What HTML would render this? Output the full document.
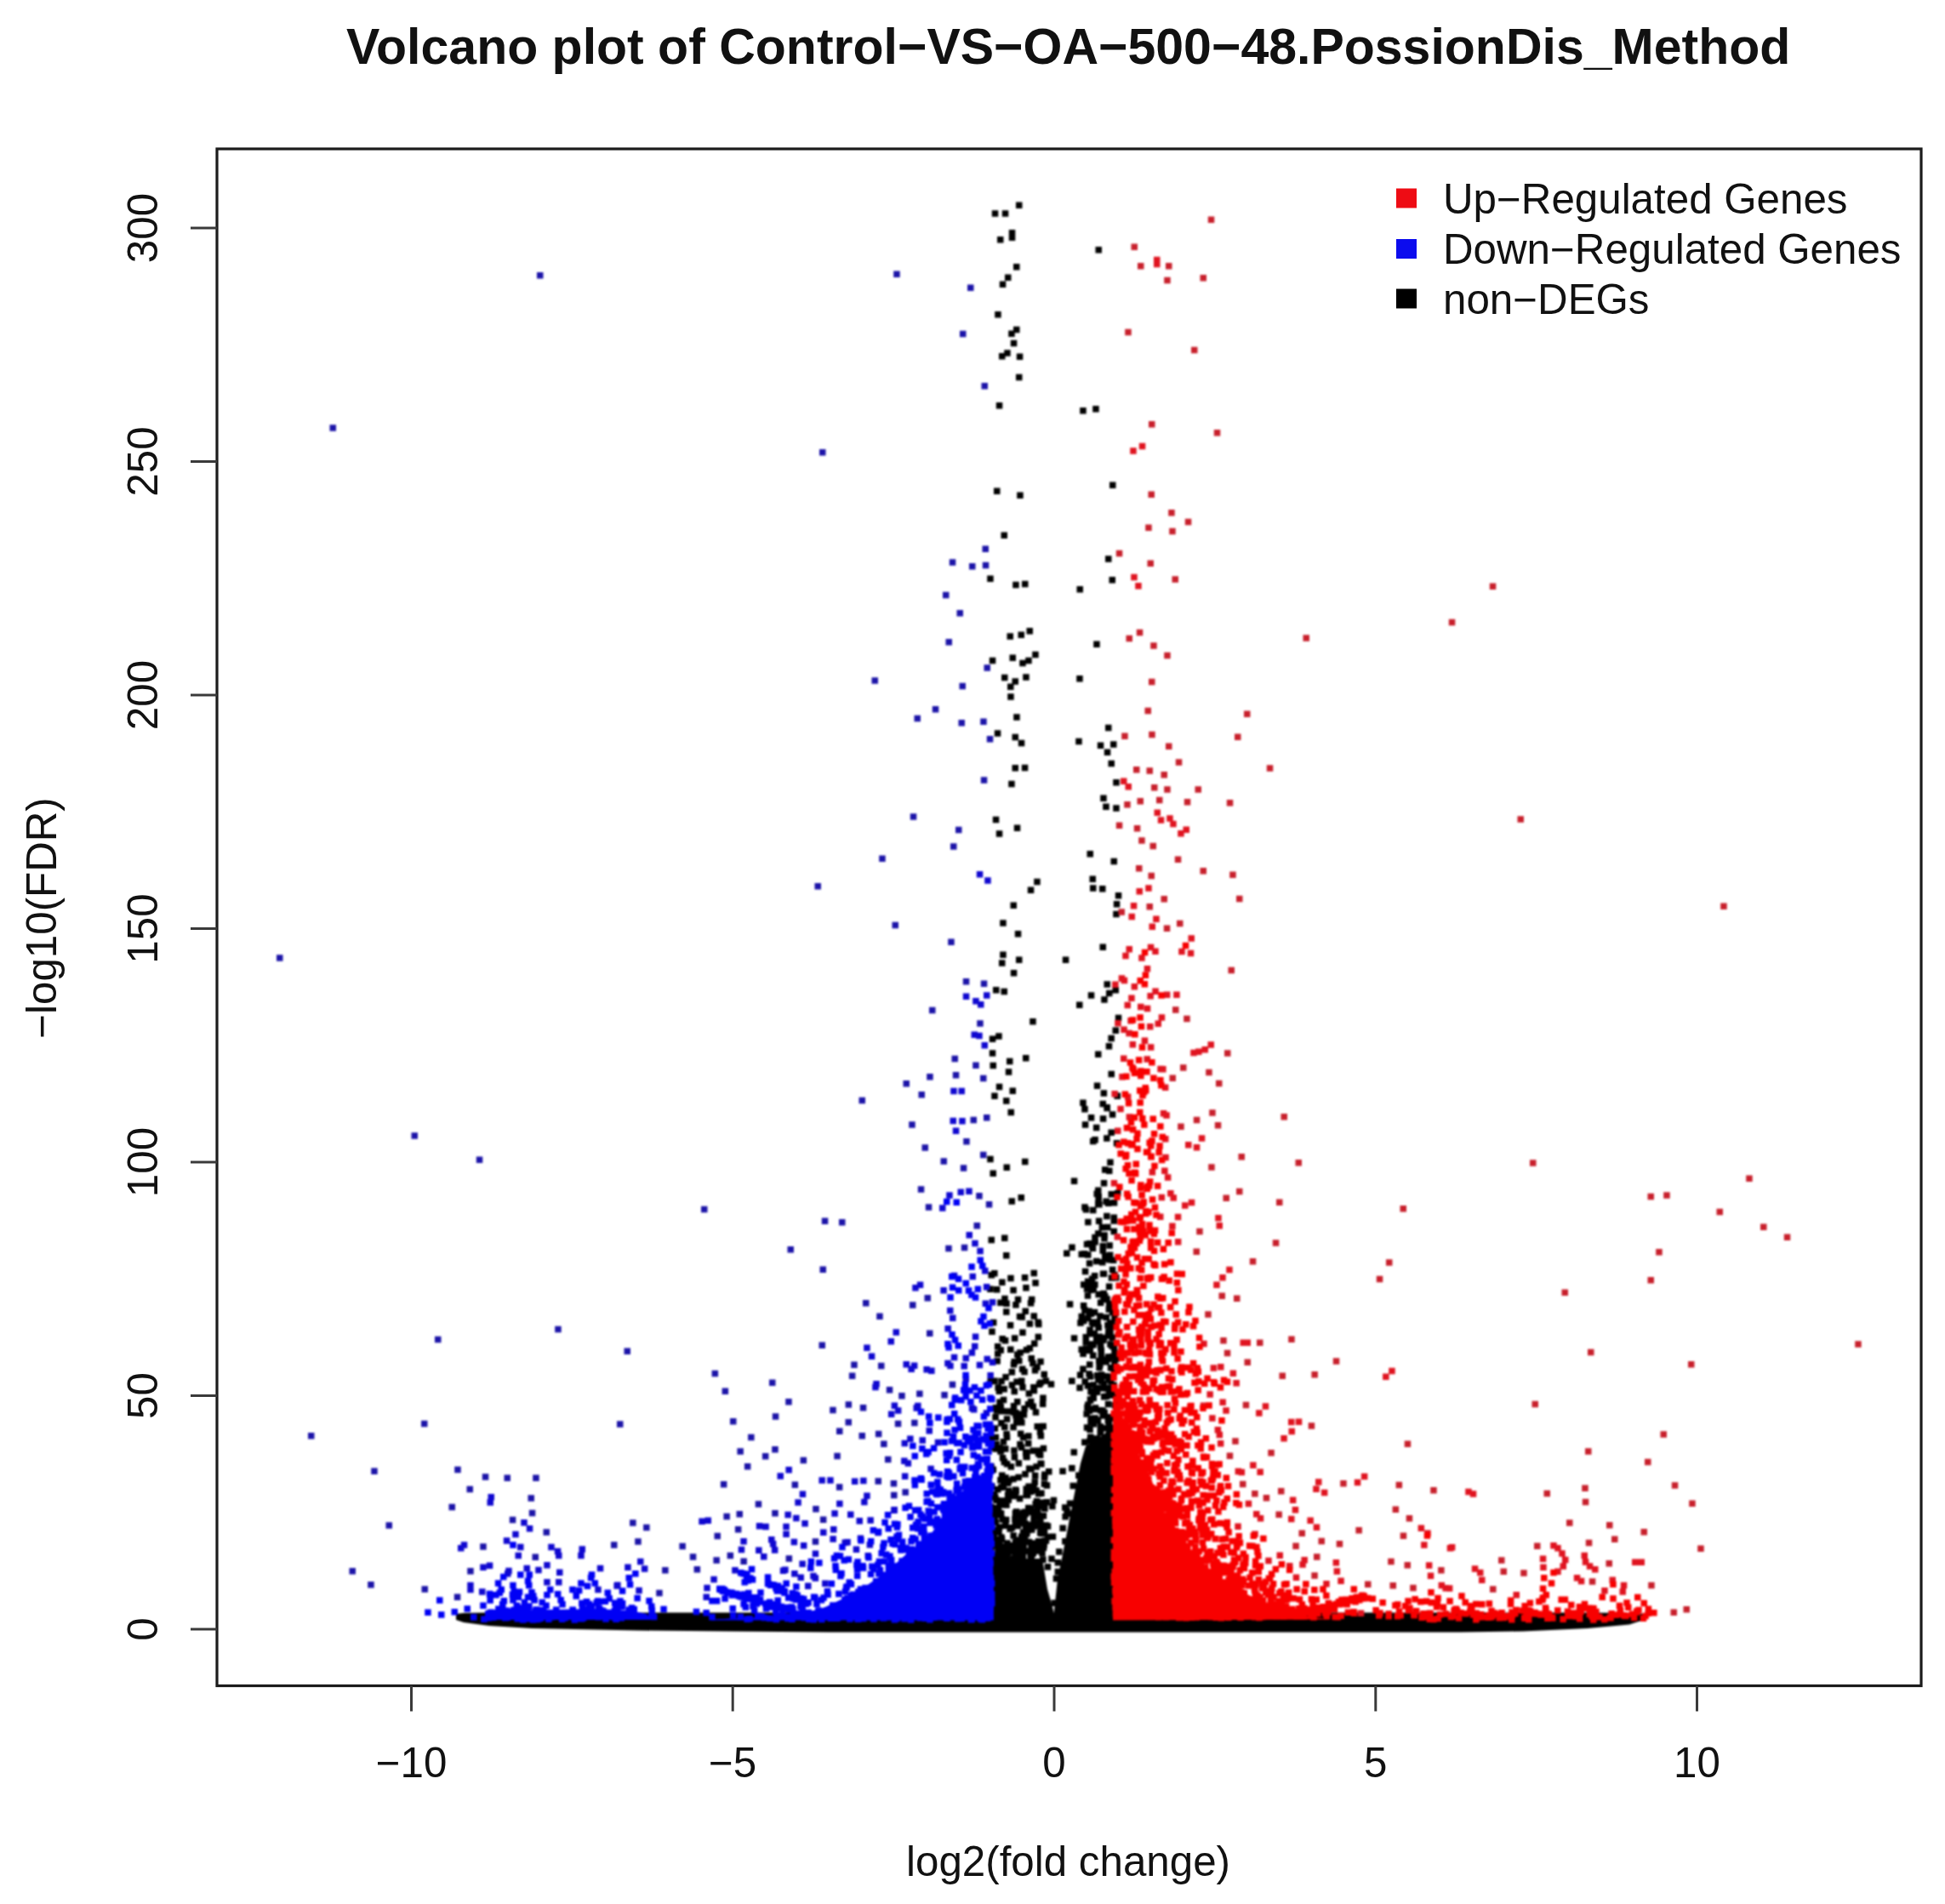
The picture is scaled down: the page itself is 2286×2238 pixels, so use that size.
<!DOCTYPE html>
<html lang="en"><head><meta charset="utf-8"><title>Volcano plot</title>
<style>html,body{margin:0;padding:0;background:#fff}svg{display:block}</style></head>
<body>
<svg width="2286" height="2238" viewBox="0 0 2286 2238" font-family="'Liberation Sans', Arial, Helvetica, sans-serif" fill="#000">
<rect width="2286" height="2238" fill="#fff"/>
<defs><filter id="bl" x="0" y="0" width="100%" height="100%" filterUnits="userSpaceOnUse" color-interpolation-filters="sRGB"><feGaussianBlur stdDeviation="1.0"/></filter></defs>
<g filter="url(#bl)">
<polygon fill="#000" points="536.0,1897.0 545.0,1896.0 575.0,1895.5 625.0,1895.5 750.0,1895.5 860.0,1895.5 975.0,1895.5 1500.0,1895.5 1716.0,1895.5 1790.0,1895.5 1866.0,1895.5 1915.0,1896.0 1932.0,1897.0 1932.0,1904.0 1915.0,1909.5 1866.0,1914.0 1790.0,1917.5 1716.0,1918.5 1500.0,1918.5 975.0,1918.5 860.0,1917.5 750.0,1916.5 625.0,1914.0 575.0,1911.0 545.0,1907.0 536.0,1904.0"/>
<polygon fill="#000" points="1313.0,1902.0 1239.0,1901.0 1239.0,1893.0 1243.0,1856.0 1248.0,1832.0 1255.0,1796.0 1262.0,1760.0 1270.0,1720.0 1276.0,1700.0 1290.0,1690.0 1313.0,1680.0"/>
<polygon fill="#000" points="1164.0,1902.0 1240.0,1901.0 1236.0,1885.0 1231.0,1868.0 1225.0,1832.0 1164.0,1832.0"/>
<path fill="#000" d="M1194.0 237.5h7.5v7.5h-7.5zM1165.8 247.2h7.5v7.5h-7.5zM1177.8 247.2h7.5v7.5h-7.5zM1185.8 270.0h7.5v7.5h-7.5zM1185.8 275.5h7.5v7.5h-7.5zM1172.0 278.0h7.5v7.5h-7.5zM1191.0 310.0h7.5v7.5h-7.5zM1181.0 322.5h7.5v7.5h-7.5zM1174.8 330.5h7.5v7.5h-7.5zM1169.2 366.0h7.5v7.5h-7.5zM1191.0 383.8h7.5v7.5h-7.5zM1185.2 388.5h7.5v7.5h-7.5zM1187.8 399.8h7.5v7.5h-7.5zM1180.2 411.2h7.5v7.5h-7.5zM1174.0 415.0h7.5v7.5h-7.5zM1194.8 415.5h7.5v7.5h-7.5zM1194.0 439.8h7.5v7.5h-7.5zM1170.8 473.0h7.5v7.5h-7.5zM1168.0 573.5h7.5v7.5h-7.5zM1195.2 578.5h7.5v7.5h-7.5zM1176.5 625.5h7.5v7.5h-7.5zM1287.5 290.0h7.5v7.5h-7.5zM1269.2 479.0h7.5v7.5h-7.5zM1284.2 477.0h7.5v7.5h-7.5zM1304.0 566.5h7.5v7.5h-7.5zM1160.2 676.5h7.5v7.5h-7.5zM1190.2 683.8h7.5v7.5h-7.5zM1201.0 682.8h7.5v7.5h-7.5zM1183.5 744.2h7.5v7.5h-7.5zM1196.5 742.5h7.5v7.5h-7.5zM1206.5 738.0h7.5v7.5h-7.5zM1162.8 772.8h7.5v7.5h-7.5zM1186.5 769.5h7.5v7.5h-7.5zM1198.2 775.8h7.5v7.5h-7.5zM1205.2 772.8h7.5v7.5h-7.5zM1213.2 765.8h7.5v7.5h-7.5zM1177.0 792.8h7.5v7.5h-7.5zM1189.5 797.2h7.5v7.5h-7.5zM1184.0 803.5h7.5v7.5h-7.5zM1202.2 792.2h7.5v7.5h-7.5zM1184.2 815.2h7.5v7.5h-7.5zM1191.2 839.2h7.5v7.5h-7.5zM1168.8 858.2h7.5v7.5h-7.5zM1189.5 862.8h7.5v7.5h-7.5zM1196.8 869.8h7.5v7.5h-7.5zM1189.5 899.0h7.5v7.5h-7.5zM1200.8 898.8h7.5v7.5h-7.5zM1185.2 917.8h7.5v7.5h-7.5zM1166.8 959.8h7.5v7.5h-7.5zM1191.8 969.5h7.5v7.5h-7.5zM1170.8 976.2h7.5v7.5h-7.5zM1215.2 1032.8h7.5v7.5h-7.5zM1207.8 1042.5h7.5v7.5h-7.5zM1187.5 1060.5h7.5v7.5h-7.5zM1175.2 1081.2h7.5v7.5h-7.5zM1192.8 1094.0h7.5v7.5h-7.5zM1175.2 1118.5h7.5v7.5h-7.5zM1194.0 1124.5h7.5v7.5h-7.5zM1299.0 653.2h7.5v7.5h-7.5zM1303.5 678.0h7.5v7.5h-7.5zM1265.5 689.0h7.5v7.5h-7.5zM1285.2 753.5h7.5v7.5h-7.5zM1265.2 794.0h7.5v7.5h-7.5zM1299.0 851.8h7.5v7.5h-7.5zM1264.2 867.8h7.5v7.5h-7.5zM1289.8 872.5h7.5v7.5h-7.5zM1305.0 871.2h7.5v7.5h-7.5zM1297.8 880.5h7.5v7.5h-7.5zM1302.5 893.8h7.5v7.5h-7.5zM1308.2 916.0h7.5v7.5h-7.5zM1293.2 934.5h7.5v7.5h-7.5zM1296.2 944.5h7.5v7.5h-7.5zM1308.2 946.2h7.5v7.5h-7.5zM1277.5 1000.0h7.5v7.5h-7.5zM1305.5 1008.8h7.5v7.5h-7.5zM1280.5 1029.5h7.5v7.5h-7.5zM1281.0 1040.2h7.5v7.5h-7.5zM1292.0 1041.0h7.5v7.5h-7.5zM1310.8 1049.0h7.5v7.5h-7.5zM1308.8 1059.0h7.5v7.5h-7.5zM1308.2 1070.8h7.5v7.5h-7.5zM1292.5 1109.5h7.5v7.5h-7.5zM1248.8 1124.5h7.5v7.5h-7.5zM1174.0 1128.2h7.5v7.5h-7.5zM1187.8 1140.0h7.5v7.5h-7.5zM1167.0 1160.0h7.5v7.5h-7.5zM1176.5 1161.8h7.5v7.5h-7.5zM1210.2 1197.0h7.5v7.5h-7.5zM1170.2 1214.2h7.5v7.5h-7.5zM1162.8 1217.5h7.5v7.5h-7.5zM1162.8 1234.2h7.5v7.5h-7.5zM1202.0 1240.0h7.5v7.5h-7.5zM1183.0 1243.8h7.5v7.5h-7.5zM1163.5 1248.8h7.5v7.5h-7.5zM1181.8 1256.2h7.5v7.5h-7.5zM1170.8 1273.8h7.5v7.5h-7.5zM1186.5 1278.5h7.5v7.5h-7.5zM1165.2 1284.5h7.5v7.5h-7.5zM1179.0 1290.2h7.5v7.5h-7.5zM1184.5 1303.8h7.5v7.5h-7.5zM1160.2 1358.8h7.5v7.5h-7.5zM1201.0 1361.8h7.5v7.5h-7.5zM1179.5 1368.5h7.5v7.5h-7.5zM1163.5 1375.5h7.5v7.5h-7.5zM1196.5 1404.0h7.5v7.5h-7.5zM1185.5 1408.2h7.5v7.5h-7.5zM1161.5 1453.8h7.5v7.5h-7.5zM1177.0 1451.5h7.5v7.5h-7.5zM1179.0 1472.0h7.5v7.5h-7.5zM1211.5 1492.8h7.5v7.5h-7.5zM1184.2 1498.8h7.5v7.5h-7.5zM1161.5 1495.0h7.5v7.5h-7.5zM1160.2 1511.5h7.5v7.5h-7.5zM1177.2 1522.8h7.5v7.5h-7.5zM1192.8 1523.8h7.5v7.5h-7.5zM1207.8 1528.0h7.5v7.5h-7.5zM1190.2 1530.0h7.5v7.5h-7.5zM1179.0 1538.2h7.5v7.5h-7.5zM1201.5 1537.5h7.5v7.5h-7.5zM1194.8 1543.8h7.5v7.5h-7.5zM1211.5 1543.2h7.5v7.5h-7.5zM1217.0 1552.8h7.5v7.5h-7.5zM1162.2 1561.5h7.5v7.5h-7.5zM1198.2 1562.5h7.5v7.5h-7.5zM1212.0 1575.5h7.5v7.5h-7.5zM1184.0 1582.5h7.5v7.5h-7.5zM1169.0 1587.5h7.5v7.5h-7.5zM1194.0 1595.8h7.5v7.5h-7.5zM1210.2 1598.8h7.5v7.5h-7.5zM1187.8 1600.0h7.5v7.5h-7.5zM1297.5 1153.2h7.5v7.5h-7.5zM1278.8 1166.2h7.5v7.5h-7.5zM1300.0 1163.8h7.5v7.5h-7.5zM1307.5 1160.0h7.5v7.5h-7.5zM1294.2 1171.2h7.5v7.5h-7.5zM1265.0 1177.5h7.5v7.5h-7.5zM1310.8 1192.8h7.5v7.5h-7.5zM1307.5 1207.5h7.5v7.5h-7.5zM1287.0 1235.5h7.5v7.5h-7.5zM1302.5 1258.8h7.5v7.5h-7.5zM1285.8 1272.5h7.5v7.5h-7.5zM1309.5 1284.5h7.5v7.5h-7.5zM1269.2 1292.5h7.5v7.5h-7.5zM1271.2 1300.0h7.5v7.5h-7.5zM1292.5 1293.8h7.5v7.5h-7.5zM1297.5 1298.8h7.5v7.5h-7.5zM1303.8 1306.2h7.5v7.5h-7.5zM1278.8 1310.0h7.5v7.5h-7.5zM1292.8 1311.2h7.5v7.5h-7.5zM1281.0 1337.8h7.5v7.5h-7.5zM1308.8 1340.0h7.5v7.5h-7.5zM1301.2 1362.5h7.5v7.5h-7.5zM1295.0 1371.2h7.5v7.5h-7.5zM1300.0 1372.5h7.5v7.5h-7.5zM1258.8 1384.5h7.5v7.5h-7.5zM1293.8 1387.0h7.5v7.5h-7.5zM1287.0 1395.5h7.5v7.5h-7.5zM1302.5 1400.0h7.5v7.5h-7.5zM1310.0 1398.8h7.5v7.5h-7.5zM1287.0 1411.2h7.5v7.5h-7.5zM1298.8 1410.5h7.5v7.5h-7.5zM1305.8 1410.0h7.5v7.5h-7.5zM1305.5 1427.5h7.5v7.5h-7.5zM1287.0 1446.2h7.5v7.5h-7.5zM1294.2 1452.0h7.5v7.5h-7.5zM1305.5 1443.8h7.5v7.5h-7.5zM1256.2 1462.5h7.5v7.5h-7.5zM1250.0 1469.5h7.5v7.5h-7.5zM1273.8 1458.8h7.5v7.5h-7.5zM1280.0 1461.2h7.5v7.5h-7.5zM1267.5 1470.5h7.5v7.5h-7.5zM1275.0 1471.2h7.5v7.5h-7.5zM1292.5 1466.2h7.5v7.5h-7.5zM1295.0 1472.5h7.5v7.5h-7.5zM1285.0 1478.8h7.5v7.5h-7.5zM1298.8 1476.2h7.5v7.5h-7.5zM1303.8 1488.8h7.5v7.5h-7.5zM1306.2 1495.0h7.5v7.5h-7.5zM1270.0 1506.2h7.5v7.5h-7.5zM1273.8 1511.2h7.5v7.5h-7.5zM1278.8 1512.5h7.5v7.5h-7.5zM1292.5 1517.5h7.5v7.5h-7.5zM1296.2 1523.8h7.5v7.5h-7.5zM1300.0 1528.8h7.5v7.5h-7.5zM1253.8 1529.2h7.5v7.5h-7.5zM1271.2 1536.2h7.5v7.5h-7.5zM1276.2 1537.5h7.5v7.5h-7.5zM1267.5 1543.8h7.5v7.5h-7.5zM1270.0 1548.8h7.5v7.5h-7.5zM1266.2 1551.2h7.5v7.5h-7.5zM1303.8 1538.8h7.5v7.5h-7.5zM1306.2 1546.2h7.5v7.5h-7.5zM1302.5 1551.2h7.5v7.5h-7.5zM1287.5 1556.8h7.5v7.5h-7.5zM1301.2 1561.2h7.5v7.5h-7.5zM1282.5 1563.8h7.5v7.5h-7.5zM1258.8 1569.2h7.5v7.5h-7.5zM1285.0 1570.0h7.5v7.5h-7.5zM1293.8 1568.8h7.5v7.5h-7.5zM1298.8 1566.2h7.5v7.5h-7.5zM1272.5 1573.8h7.5v7.5h-7.5zM1278.8 1576.2h7.5v7.5h-7.5zM1267.5 1582.5h7.5v7.5h-7.5zM1277.5 1582.5h7.5v7.5h-7.5zM1290.0 1580.0h7.5v7.5h-7.5zM1301.2 1576.2h7.5v7.5h-7.5zM1306.2 1586.2h7.5v7.5h-7.5zM1300.0 1592.5h7.5v7.5h-7.5zM1306.2 1598.8h7.5v7.5h-7.5zM539.2 1897.2h7.5v7.5h-7.5zM1225.6 1619.4h7.5v7.5h-7.5zM1256.1 1619.4h7.5v7.5h-7.5zM1245.3 1725.6h7.5v7.5h-7.5zM1256.1 1722.0h7.5v7.5h-7.5zM1266.9 1734.5h7.5v7.5h-7.5zM1223.8 1795.7h7.5v7.5h-7.5zM1216.6 1813.7h7.5v7.5h-7.5zM1302.4 1216.8h7.5v7.5h-7.5zM1299.7 1226.1h7.5v7.5h-7.5zM1293.6 1281.3h7.5v7.5h-7.5zM1297.3 1298.0h7.5v7.5h-7.5zM1271.8 1318.3h7.5v7.5h-7.5zM1284.9 1321.8h7.5v7.5h-7.5zM1302.4 1327.5h7.5v7.5h-7.5zM1283.3 1335.9h7.5v7.5h-7.5zM1297.1 1334.2h7.5v7.5h-7.5zM1285.5 1399.6h7.5v7.5h-7.5zM1288.2 1412.1h7.5v7.5h-7.5zM1287.3 1406.6h7.5v7.5h-7.5zM1287.5 1402.9h7.5v7.5h-7.5zM1296.4 1408.6h7.5v7.5h-7.5zM1271.2 1415.3h7.5v7.5h-7.5zM1272.7 1418.0h7.5v7.5h-7.5zM1281.0 1418.8h7.5v7.5h-7.5zM1297.1 1425.7h7.5v7.5h-7.5zM1275.1 1432.8h7.5v7.5h-7.5zM1287.9 1431.6h7.5v7.5h-7.5zM1305.5 1431.2h7.5v7.5h-7.5zM1291.6 1439.1h7.5v7.5h-7.5zM1298.0 1438.8h7.5v7.5h-7.5zM1294.4 1448.2h7.5v7.5h-7.5zM1276.9 1457.9h7.5v7.5h-7.5zM1283.2 1450.7h7.5v7.5h-7.5zM1283.4 1456.0h7.5v7.5h-7.5zM1300.4 1460.2h7.5v7.5h-7.5zM1292.5 1461.1h7.5v7.5h-7.5zM1270.9 1470.1h7.5v7.5h-7.5zM1280.7 1463.4h7.5v7.5h-7.5zM1300.9 1471.6h7.5v7.5h-7.5zM1276.8 1481.2h7.5v7.5h-7.5zM1292.0 1479.9h7.5v7.5h-7.5zM1300.9 1476.9h7.5v7.5h-7.5zM1304.9 1477.5h7.5v7.5h-7.5zM1165.1 1493.1h7.5v7.5h-7.5zM1200.8 1498.0h7.5v7.5h-7.5zM1271.8 1490.7h7.5v7.5h-7.5zM1282.9 1496.0h7.5v7.5h-7.5zM1293.7 1493.4h7.5v7.5h-7.5zM1292.8 1493.5h7.5v7.5h-7.5zM1308.1 1498.1h7.5v7.5h-7.5zM1174.1 1503.4h7.5v7.5h-7.5zM1202.2 1510.1h7.5v7.5h-7.5zM1213.3 1504.2h7.5v7.5h-7.5zM1279.9 1499.6h7.5v7.5h-7.5zM1274.9 1502.4h7.5v7.5h-7.5zM1276.5 1504.0h7.5v7.5h-7.5zM1281.3 1509.0h7.5v7.5h-7.5zM1283.1 1506.2h7.5v7.5h-7.5zM1299.9 1508.5h7.5v7.5h-7.5zM1302.7 1498.3h7.5v7.5h-7.5zM1167.9 1511.9h7.5v7.5h-7.5zM1187.3 1512.8h7.5v7.5h-7.5zM1274.7 1519.3h7.5v7.5h-7.5zM1287.4 1517.8h7.5v7.5h-7.5zM1281.4 1511.7h7.5v7.5h-7.5zM1293.5 1516.8h7.5v7.5h-7.5zM1295.0 1520.0h7.5v7.5h-7.5zM1293.3 1521.7h7.5v7.5h-7.5zM1172.2 1527.5h7.5v7.5h-7.5zM1179.3 1528.4h7.5v7.5h-7.5zM1208.9 1523.7h7.5v7.5h-7.5zM1269.9 1530.9h7.5v7.5h-7.5zM1289.9 1527.5h7.5v7.5h-7.5zM1297.3 1523.2h7.5v7.5h-7.5zM1307.7 1522.9h7.5v7.5h-7.5zM1197.4 1544.3h7.5v7.5h-7.5zM1276.3 1538.9h7.5v7.5h-7.5zM1278.7 1540.5h7.5v7.5h-7.5zM1275.1 1545.8h7.5v7.5h-7.5zM1289.2 1543.3h7.5v7.5h-7.5zM1282.8 1538.7h7.5v7.5h-7.5zM1299.6 1535.3h7.5v7.5h-7.5zM1296.6 1544.8h7.5v7.5h-7.5zM1307.7 1539.5h7.5v7.5h-7.5zM1163.9 1550.8h7.5v7.5h-7.5zM1183.8 1553.9h7.5v7.5h-7.5zM1206.6 1552.3h7.5v7.5h-7.5zM1216.4 1550.5h7.5v7.5h-7.5zM1279.8 1550.6h7.5v7.5h-7.5zM1286.4 1550.6h7.5v7.5h-7.5zM1281.3 1552.3h7.5v7.5h-7.5zM1287.3 1556.8h7.5v7.5h-7.5zM1300.9 1551.2h7.5v7.5h-7.5zM1301.9 1554.7h7.5v7.5h-7.5zM1298.2 1554.1h7.5v7.5h-7.5zM1306.8 1554.6h7.5v7.5h-7.5zM1174.4 1570.1h7.5v7.5h-7.5zM1188.9 1569.3h7.5v7.5h-7.5zM1216.6 1567.7h7.5v7.5h-7.5zM1277.3 1559.6h7.5v7.5h-7.5zM1277.1 1564.1h7.5v7.5h-7.5zM1272.5 1567.9h7.5v7.5h-7.5zM1288.5 1567.4h7.5v7.5h-7.5zM1299.1 1561.8h7.5v7.5h-7.5zM1303.5 1568.6h7.5v7.5h-7.5zM1168.9 1579.0h7.5v7.5h-7.5zM1177.8 1572.0h7.5v7.5h-7.5zM1206.6 1581.1h7.5v7.5h-7.5zM1278.5 1577.6h7.5v7.5h-7.5zM1272.8 1581.5h7.5v7.5h-7.5zM1281.3 1577.1h7.5v7.5h-7.5zM1285.5 1573.1h7.5v7.5h-7.5zM1289.8 1576.2h7.5v7.5h-7.5zM1292.9 1571.4h7.5v7.5h-7.5zM1303.3 1578.3h7.5v7.5h-7.5zM1305.6 1579.5h7.5v7.5h-7.5zM1172.5 1583.3h7.5v7.5h-7.5zM1195.3 1586.2h7.5v7.5h-7.5zM1192.1 1588.5h7.5v7.5h-7.5zM1202.8 1582.9h7.5v7.5h-7.5zM1208.5 1593.0h7.5v7.5h-7.5zM1269.3 1587.6h7.5v7.5h-7.5zM1276.1 1583.7h7.5v7.5h-7.5zM1290.6 1583.8h7.5v7.5h-7.5zM1281.0 1589.6h7.5v7.5h-7.5zM1290.5 1588.6h7.5v7.5h-7.5zM1303.2 1591.1h7.5v7.5h-7.5zM1298.9 1591.2h7.5v7.5h-7.5zM1298.4 1593.8h7.5v7.5h-7.5zM1308.1 1593.4h7.5v7.5h-7.5zM1168.4 1595.9h7.5v7.5h-7.5zM1188.5 1597.0h7.5v7.5h-7.5zM1197.9 1605.6h7.5v7.5h-7.5zM1215.2 1603.3h7.5v7.5h-7.5zM1219.3 1596.7h7.5v7.5h-7.5zM1269.2 1605.5h7.5v7.5h-7.5zM1277.0 1600.3h7.5v7.5h-7.5zM1289.1 1600.5h7.5v7.5h-7.5zM1288.0 1596.0h7.5v7.5h-7.5zM1288.3 1603.8h7.5v7.5h-7.5zM1301.8 1604.0h7.5v7.5h-7.5zM1295.5 1594.9h7.5v7.5h-7.5zM1296.3 1597.1h7.5v7.5h-7.5zM1304.4 1604.2h7.5v7.5h-7.5zM1178.3 1614.9h7.5v7.5h-7.5zM1185.6 1609.0h7.5v7.5h-7.5zM1200.3 1608.8h7.5v7.5h-7.5zM1212.8 1606.9h7.5v7.5h-7.5zM1223.5 1611.7h7.5v7.5h-7.5zM1265.9 1612.4h7.5v7.5h-7.5zM1276.3 1611.2h7.5v7.5h-7.5zM1277.9 1614.2h7.5v7.5h-7.5zM1290.9 1612.2h7.5v7.5h-7.5zM1287.1 1618.1h7.5v7.5h-7.5zM1286.1 1613.0h7.5v7.5h-7.5zM1288.4 1616.6h7.5v7.5h-7.5zM1289.5 1617.3h7.5v7.5h-7.5zM1296.6 1613.9h7.5v7.5h-7.5zM1303.3 1614.7h7.5v7.5h-7.5zM1299.2 1617.9h7.5v7.5h-7.5zM1305.7 1608.2h7.5v7.5h-7.5zM1169.4 1627.2h7.5v7.5h-7.5zM1160.5 1619.9h7.5v7.5h-7.5zM1165.2 1619.6h7.5v7.5h-7.5zM1176.4 1628.9h7.5v7.5h-7.5zM1173.3 1619.7h7.5v7.5h-7.5zM1191.3 1620.6h7.5v7.5h-7.5zM1185.7 1624.3h7.5v7.5h-7.5zM1198.2 1626.9h7.5v7.5h-7.5zM1197.0 1619.5h7.5v7.5h-7.5zM1219.3 1621.6h7.5v7.5h-7.5zM1211.1 1627.1h7.5v7.5h-7.5zM1217.8 1623.4h7.5v7.5h-7.5zM1231.7 1623.2h7.5v7.5h-7.5zM1265.3 1627.5h7.5v7.5h-7.5zM1271.5 1620.2h7.5v7.5h-7.5zM1274.7 1625.1h7.5v7.5h-7.5zM1289.7 1628.0h7.5v7.5h-7.5zM1290.7 1619.7h7.5v7.5h-7.5zM1281.4 1624.3h7.5v7.5h-7.5zM1285.0 1627.8h7.5v7.5h-7.5zM1302.0 1628.7h7.5v7.5h-7.5zM1297.1 1628.2h7.5v7.5h-7.5zM1303.4 1628.6h7.5v7.5h-7.5zM1293.6 1622.8h7.5v7.5h-7.5zM1302.0 1620.1h7.5v7.5h-7.5zM1301.4 1627.8h7.5v7.5h-7.5zM1301.8 1618.7h7.5v7.5h-7.5zM1305.3 1624.5h7.5v7.5h-7.5zM1170.6 1631.4h7.5v7.5h-7.5zM1175.8 1641.8h7.5v7.5h-7.5zM1188.5 1631.8h7.5v7.5h-7.5zM1205.6 1634.2h7.5v7.5h-7.5zM1211.6 1630.7h7.5v7.5h-7.5zM1222.2 1639.4h7.5v7.5h-7.5zM1277.9 1642.2h7.5v7.5h-7.5zM1278.3 1631.9h7.5v7.5h-7.5zM1277.7 1641.2h7.5v7.5h-7.5zM1281.5 1639.6h7.5v7.5h-7.5zM1285.8 1632.5h7.5v7.5h-7.5zM1281.3 1634.2h7.5v7.5h-7.5zM1294.0 1638.0h7.5v7.5h-7.5zM1296.8 1637.5h7.5v7.5h-7.5zM1301.2 1635.6h7.5v7.5h-7.5zM1299.8 1632.1h7.5v7.5h-7.5zM1304.5 1636.3h7.5v7.5h-7.5zM1171.3 1644.5h7.5v7.5h-7.5zM1166.6 1651.0h7.5v7.5h-7.5zM1172.5 1650.0h7.5v7.5h-7.5zM1187.8 1648.9h7.5v7.5h-7.5zM1192.0 1644.1h7.5v7.5h-7.5zM1207.9 1643.7h7.5v7.5h-7.5zM1200.3 1652.1h7.5v7.5h-7.5zM1204.8 1646.9h7.5v7.5h-7.5zM1210.5 1649.6h7.5v7.5h-7.5zM1221.9 1646.6h7.5v7.5h-7.5zM1275.1 1647.4h7.5v7.5h-7.5zM1274.2 1650.4h7.5v7.5h-7.5zM1289.9 1654.1h7.5v7.5h-7.5zM1282.5 1652.7h7.5v7.5h-7.5zM1283.8 1651.2h7.5v7.5h-7.5zM1298.8 1646.7h7.5v7.5h-7.5zM1306.6 1648.0h7.5v7.5h-7.5zM1166.3 1662.1h7.5v7.5h-7.5zM1167.8 1654.3h7.5v7.5h-7.5zM1179.8 1664.2h7.5v7.5h-7.5zM1181.3 1655.3h7.5v7.5h-7.5zM1173.8 1655.1h7.5v7.5h-7.5zM1195.7 1665.7h7.5v7.5h-7.5zM1192.9 1658.4h7.5v7.5h-7.5zM1190.2 1660.1h7.5v7.5h-7.5zM1190.3 1657.1h7.5v7.5h-7.5zM1187.7 1656.2h7.5v7.5h-7.5zM1191.4 1662.3h7.5v7.5h-7.5zM1199.7 1658.9h7.5v7.5h-7.5zM1213.7 1656.2h7.5v7.5h-7.5zM1276.7 1654.5h7.5v7.5h-7.5zM1273.4 1658.3h7.5v7.5h-7.5zM1278.3 1666.1h7.5v7.5h-7.5zM1279.3 1663.5h7.5v7.5h-7.5zM1282.5 1663.8h7.5v7.5h-7.5zM1285.6 1665.4h7.5v7.5h-7.5zM1286.7 1665.9h7.5v7.5h-7.5zM1283.3 1663.2h7.5v7.5h-7.5zM1294.4 1656.8h7.5v7.5h-7.5zM1292.6 1660.3h7.5v7.5h-7.5zM1301.4 1663.2h7.5v7.5h-7.5zM1292.4 1660.2h7.5v7.5h-7.5zM1292.4 1654.6h7.5v7.5h-7.5zM1298.6 1664.8h7.5v7.5h-7.5zM1299.7 1661.9h7.5v7.5h-7.5zM1308.0 1654.5h7.5v7.5h-7.5zM1307.4 1658.9h7.5v7.5h-7.5zM1165.6 1675.2h7.5v7.5h-7.5zM1177.0 1673.4h7.5v7.5h-7.5zM1173.1 1668.9h7.5v7.5h-7.5zM1187.3 1673.8h7.5v7.5h-7.5zM1191.0 1668.2h7.5v7.5h-7.5zM1197.1 1668.2h7.5v7.5h-7.5zM1215.5 1673.0h7.5v7.5h-7.5zM1222.4 1672.7h7.5v7.5h-7.5zM1273.8 1674.3h7.5v7.5h-7.5zM1278.4 1668.1h7.5v7.5h-7.5zM1277.3 1676.4h7.5v7.5h-7.5zM1281.6 1669.9h7.5v7.5h-7.5zM1289.6 1673.2h7.5v7.5h-7.5zM1289.9 1676.8h7.5v7.5h-7.5zM1298.8 1666.6h7.5v7.5h-7.5zM1299.7 1673.4h7.5v7.5h-7.5zM1299.7 1666.3h7.5v7.5h-7.5zM1296.6 1674.9h7.5v7.5h-7.5zM1307.2 1674.5h7.5v7.5h-7.5zM1166.6 1685.7h7.5v7.5h-7.5zM1161.0 1687.2h7.5v7.5h-7.5zM1179.8 1685.5h7.5v7.5h-7.5zM1179.3 1682.1h7.5v7.5h-7.5zM1195.9 1681.6h7.5v7.5h-7.5zM1205.1 1684.2h7.5v7.5h-7.5zM1198.8 1685.8h7.5v7.5h-7.5zM1218.8 1679.6h7.5v7.5h-7.5zM1219.6 1683.9h7.5v7.5h-7.5zM1277.9 1686.7h7.5v7.5h-7.5zM1278.0 1685.6h7.5v7.5h-7.5zM1277.3 1690.1h7.5v7.5h-7.5zM1285.6 1687.3h7.5v7.5h-7.5zM1289.5 1680.3h7.5v7.5h-7.5zM1283.8 1687.6h7.5v7.5h-7.5zM1292.1 1689.4h7.5v7.5h-7.5zM1301.6 1686.7h7.5v7.5h-7.5zM1299.8 1678.8h7.5v7.5h-7.5zM1298.3 1685.5h7.5v7.5h-7.5zM1294.9 1685.6h7.5v7.5h-7.5zM1302.6 1689.2h7.5v7.5h-7.5zM1298.6 1684.1h7.5v7.5h-7.5zM1304.7 1678.6h7.5v7.5h-7.5zM1171.1 1698.3h7.5v7.5h-7.5zM1167.3 1694.1h7.5v7.5h-7.5zM1165.2 1697.6h7.5v7.5h-7.5zM1166.5 1699.2h7.5v7.5h-7.5zM1178.0 1699.3h7.5v7.5h-7.5zM1175.7 1690.9h7.5v7.5h-7.5zM1172.7 1700.7h7.5v7.5h-7.5zM1195.2 1694.1h7.5v7.5h-7.5zM1188.2 1701.3h7.5v7.5h-7.5zM1204.9 1693.1h7.5v7.5h-7.5zM1196.9 1697.4h7.5v7.5h-7.5zM1216.4 1701.6h7.5v7.5h-7.5zM1210.6 1701.4h7.5v7.5h-7.5zM1222.7 1698.8h7.5v7.5h-7.5zM1271.1 1691.5h7.5v7.5h-7.5zM1287.1 1690.9h7.5v7.5h-7.5zM1287.3 1690.6h7.5v7.5h-7.5zM1298.9 1693.2h7.5v7.5h-7.5zM1172.2 1702.3h7.5v7.5h-7.5zM1174.8 1710.0h7.5v7.5h-7.5zM1176.6 1714.2h7.5v7.5h-7.5zM1188.7 1709.1h7.5v7.5h-7.5zM1202.0 1703.6h7.5v7.5h-7.5zM1202.4 1708.5h7.5v7.5h-7.5zM1203.2 1708.7h7.5v7.5h-7.5zM1202.1 1704.5h7.5v7.5h-7.5zM1203.0 1703.3h7.5v7.5h-7.5zM1218.9 1706.5h7.5v7.5h-7.5zM1217.6 1703.8h7.5v7.5h-7.5zM1216.8 1704.8h7.5v7.5h-7.5zM1258.5 1703.2h7.5v7.5h-7.5zM1163.6 1723.7h7.5v7.5h-7.5zM1161.2 1720.2h7.5v7.5h-7.5zM1176.6 1714.8h7.5v7.5h-7.5zM1179.8 1717.1h7.5v7.5h-7.5zM1193.6 1716.3h7.5v7.5h-7.5zM1184.6 1720.3h7.5v7.5h-7.5zM1205.9 1722.6h7.5v7.5h-7.5zM1208.1 1722.9h7.5v7.5h-7.5zM1214.3 1720.3h7.5v7.5h-7.5zM1219.4 1716.4h7.5v7.5h-7.5zM1220.1 1716.9h7.5v7.5h-7.5zM1229.0 1726.0h7.5v7.5h-7.5zM1172.2 1735.9h7.5v7.5h-7.5zM1182.0 1736.5h7.5v7.5h-7.5zM1178.3 1733.2h7.5v7.5h-7.5zM1174.0 1730.5h7.5v7.5h-7.5zM1175.9 1737.7h7.5v7.5h-7.5zM1187.2 1734.8h7.5v7.5h-7.5zM1193.4 1732.7h7.5v7.5h-7.5zM1201.2 1728.9h7.5v7.5h-7.5zM1212.9 1730.7h7.5v7.5h-7.5zM1224.1 1729.5h7.5v7.5h-7.5zM1223.8 1732.6h7.5v7.5h-7.5zM1264.1 1730.5h7.5v7.5h-7.5zM1169.0 1746.9h7.5v7.5h-7.5zM1162.1 1743.6h7.5v7.5h-7.5zM1181.8 1748.5h7.5v7.5h-7.5zM1173.0 1744.6h7.5v7.5h-7.5zM1175.6 1744.0h7.5v7.5h-7.5zM1181.0 1739.6h7.5v7.5h-7.5zM1190.5 1748.9h7.5v7.5h-7.5zM1189.9 1747.6h7.5v7.5h-7.5zM1205.3 1743.5h7.5v7.5h-7.5zM1208.1 1747.8h7.5v7.5h-7.5zM1202.5 1746.4h7.5v7.5h-7.5zM1207.8 1749.4h7.5v7.5h-7.5zM1212.5 1738.5h7.5v7.5h-7.5zM1211.3 1745.4h7.5v7.5h-7.5zM1214.3 1748.2h7.5v7.5h-7.5zM1223.7 1740.6h7.5v7.5h-7.5zM1226.7 1742.2h7.5v7.5h-7.5zM1257.5 1742.7h7.5v7.5h-7.5zM1167.3 1759.5h7.5v7.5h-7.5zM1165.0 1752.7h7.5v7.5h-7.5zM1165.9 1756.2h7.5v7.5h-7.5zM1184.2 1751.6h7.5v7.5h-7.5zM1174.2 1760.2h7.5v7.5h-7.5zM1181.6 1759.3h7.5v7.5h-7.5zM1180.9 1753.5h7.5v7.5h-7.5zM1187.6 1754.8h7.5v7.5h-7.5zM1194.8 1757.8h7.5v7.5h-7.5zM1189.4 1751.4h7.5v7.5h-7.5zM1204.0 1753.7h7.5v7.5h-7.5zM1202.4 1753.4h7.5v7.5h-7.5zM1216.9 1751.9h7.5v7.5h-7.5zM1220.2 1751.4h7.5v7.5h-7.5zM1214.8 1761.0h7.5v7.5h-7.5zM1226.6 1762.1h7.5v7.5h-7.5zM1234.7 1759.8h7.5v7.5h-7.5zM1164.3 1770.0h7.5v7.5h-7.5zM1166.6 1768.8h7.5v7.5h-7.5zM1171.2 1763.3h7.5v7.5h-7.5zM1169.8 1770.2h7.5v7.5h-7.5zM1161.3 1767.8h7.5v7.5h-7.5zM1177.1 1762.3h7.5v7.5h-7.5zM1176.4 1765.0h7.5v7.5h-7.5zM1179.2 1765.2h7.5v7.5h-7.5zM1190.8 1773.3h7.5v7.5h-7.5zM1208.1 1772.7h7.5v7.5h-7.5zM1205.0 1768.7h7.5v7.5h-7.5zM1201.2 1773.6h7.5v7.5h-7.5zM1208.2 1769.5h7.5v7.5h-7.5zM1215.8 1770.8h7.5v7.5h-7.5zM1213.5 1764.1h7.5v7.5h-7.5zM1209.2 1773.6h7.5v7.5h-7.5zM1220.2 1762.4h7.5v7.5h-7.5zM1215.8 1764.0h7.5v7.5h-7.5zM1223.3 1767.1h7.5v7.5h-7.5zM1224.1 1769.5h7.5v7.5h-7.5zM1233.1 1766.7h7.5v7.5h-7.5zM1248.0 1768.3h7.5v7.5h-7.5zM1253.8 1763.5h7.5v7.5h-7.5zM1250.3 1771.5h7.5v7.5h-7.5zM1166.4 1785.9h7.5v7.5h-7.5zM1165.7 1785.2h7.5v7.5h-7.5zM1170.6 1774.7h7.5v7.5h-7.5zM1163.1 1777.5h7.5v7.5h-7.5zM1162.1 1783.9h7.5v7.5h-7.5zM1167.3 1777.0h7.5v7.5h-7.5zM1165.2 1781.8h7.5v7.5h-7.5zM1163.9 1781.4h7.5v7.5h-7.5zM1174.3 1782.3h7.5v7.5h-7.5zM1172.9 1775.2h7.5v7.5h-7.5zM1178.9 1782.7h7.5v7.5h-7.5zM1189.2 1782.0h7.5v7.5h-7.5zM1189.7 1774.9h7.5v7.5h-7.5zM1195.0 1776.7h7.5v7.5h-7.5zM1194.3 1786.1h7.5v7.5h-7.5zM1189.6 1784.7h7.5v7.5h-7.5zM1198.7 1783.3h7.5v7.5h-7.5zM1196.9 1780.0h7.5v7.5h-7.5zM1198.5 1774.5h7.5v7.5h-7.5zM1200.0 1779.1h7.5v7.5h-7.5zM1201.8 1775.4h7.5v7.5h-7.5zM1216.2 1776.8h7.5v7.5h-7.5zM1218.9 1784.1h7.5v7.5h-7.5zM1217.8 1778.3h7.5v7.5h-7.5zM1211.3 1780.7h7.5v7.5h-7.5zM1219.1 1783.8h7.5v7.5h-7.5zM1211.3 1782.8h7.5v7.5h-7.5zM1216.2 1777.4h7.5v7.5h-7.5zM1222.7 1777.9h7.5v7.5h-7.5zM1252.7 1775.5h7.5v7.5h-7.5zM1248.4 1779.0h7.5v7.5h-7.5zM1170.3 1797.0h7.5v7.5h-7.5zM1167.2 1794.5h7.5v7.5h-7.5zM1163.6 1796.2h7.5v7.5h-7.5zM1166.5 1796.0h7.5v7.5h-7.5zM1164.8 1797.7h7.5v7.5h-7.5zM1170.8 1791.2h7.5v7.5h-7.5zM1178.1 1789.4h7.5v7.5h-7.5zM1183.4 1793.2h7.5v7.5h-7.5zM1192.6 1789.8h7.5v7.5h-7.5zM1185.7 1791.9h7.5v7.5h-7.5zM1199.0 1797.5h7.5v7.5h-7.5zM1202.8 1797.3h7.5v7.5h-7.5zM1200.3 1786.9h7.5v7.5h-7.5zM1204.1 1789.7h7.5v7.5h-7.5zM1202.0 1787.8h7.5v7.5h-7.5zM1204.9 1794.7h7.5v7.5h-7.5zM1206.0 1790.7h7.5v7.5h-7.5zM1203.5 1792.6h7.5v7.5h-7.5zM1201.7 1793.8h7.5v7.5h-7.5zM1213.9 1789.5h7.5v7.5h-7.5zM1218.9 1797.9h7.5v7.5h-7.5zM1216.2 1786.9h7.5v7.5h-7.5zM1209.7 1788.7h7.5v7.5h-7.5zM1220.0 1791.0h7.5v7.5h-7.5zM1209.0 1794.3h7.5v7.5h-7.5zM1219.0 1789.4h7.5v7.5h-7.5zM1212.3 1790.3h7.5v7.5h-7.5zM1225.6 1789.3h7.5v7.5h-7.5zM1227.8 1790.3h7.5v7.5h-7.5zM1245.4 1792.6h7.5v7.5h-7.5zM1171.3 1809.6h7.5v7.5h-7.5zM1164.7 1801.0h7.5v7.5h-7.5zM1161.1 1807.8h7.5v7.5h-7.5zM1168.5 1806.0h7.5v7.5h-7.5zM1173.2 1803.2h7.5v7.5h-7.5zM1173.8 1805.6h7.5v7.5h-7.5zM1187.4 1801.2h7.5v7.5h-7.5zM1195.9 1806.8h7.5v7.5h-7.5zM1191.2 1806.5h7.5v7.5h-7.5zM1189.7 1809.2h7.5v7.5h-7.5zM1198.8 1798.7h7.5v7.5h-7.5zM1196.7 1806.8h7.5v7.5h-7.5zM1203.1 1799.0h7.5v7.5h-7.5zM1201.0 1804.8h7.5v7.5h-7.5zM1205.6 1808.7h7.5v7.5h-7.5zM1200.9 1802.7h7.5v7.5h-7.5zM1198.3 1807.2h7.5v7.5h-7.5zM1196.9 1802.4h7.5v7.5h-7.5zM1210.9 1810.2h7.5v7.5h-7.5zM1218.3 1807.9h7.5v7.5h-7.5zM1216.9 1807.9h7.5v7.5h-7.5zM1225.7 1807.2h7.5v7.5h-7.5zM1220.7 1798.7h7.5v7.5h-7.5zM1224.4 1807.3h7.5v7.5h-7.5zM1227.7 1802.7h7.5v7.5h-7.5zM1233.7 1802.4h7.5v7.5h-7.5zM1248.1 1807.9h7.5v7.5h-7.5zM1166.2 1813.1h7.5v7.5h-7.5zM1169.2 1820.2h7.5v7.5h-7.5zM1161.2 1815.2h7.5v7.5h-7.5zM1174.6 1821.7h7.5v7.5h-7.5zM1175.4 1814.3h7.5v7.5h-7.5zM1176.0 1814.8h7.5v7.5h-7.5zM1173.6 1816.4h7.5v7.5h-7.5zM1179.8 1811.5h7.5v7.5h-7.5zM1176.4 1818.7h7.5v7.5h-7.5zM1175.4 1815.1h7.5v7.5h-7.5zM1178.9 1817.0h7.5v7.5h-7.5zM1176.1 1814.2h7.5v7.5h-7.5zM1181.2 1821.6h7.5v7.5h-7.5zM1177.8 1815.1h7.5v7.5h-7.5zM1181.6 1819.1h7.5v7.5h-7.5zM1180.2 1810.3h7.5v7.5h-7.5zM1183.7 1813.1h7.5v7.5h-7.5zM1182.5 1815.1h7.5v7.5h-7.5zM1173.5 1818.0h7.5v7.5h-7.5zM1179.5 1818.7h7.5v7.5h-7.5zM1187.7 1813.0h7.5v7.5h-7.5zM1189.2 1814.9h7.5v7.5h-7.5zM1186.7 1819.5h7.5v7.5h-7.5zM1192.5 1810.5h7.5v7.5h-7.5zM1187.5 1817.1h7.5v7.5h-7.5zM1195.7 1818.3h7.5v7.5h-7.5zM1194.6 1814.8h7.5v7.5h-7.5zM1199.4 1812.3h7.5v7.5h-7.5zM1202.1 1819.5h7.5v7.5h-7.5zM1208.2 1813.8h7.5v7.5h-7.5zM1208.2 1818.6h7.5v7.5h-7.5zM1198.7 1816.2h7.5v7.5h-7.5zM1216.3 1819.3h7.5v7.5h-7.5zM1210.8 1820.8h7.5v7.5h-7.5zM1216.8 1815.6h7.5v7.5h-7.5zM1212.1 1815.1h7.5v7.5h-7.5zM1216.9 1816.3h7.5v7.5h-7.5zM1222.6 1811.5h7.5v7.5h-7.5zM1221.2 1821.8h7.5v7.5h-7.5zM1222.8 1815.5h7.5v7.5h-7.5zM1223.4 1811.9h7.5v7.5h-7.5zM1222.2 1814.8h7.5v7.5h-7.5zM1241.1 1820.3h7.5v7.5h-7.5zM1164.3 1825.2h7.5v7.5h-7.5zM1167.2 1829.5h7.5v7.5h-7.5zM1171.2 1826.9h7.5v7.5h-7.5zM1172.0 1827.3h7.5v7.5h-7.5zM1167.5 1826.8h7.5v7.5h-7.5zM1175.7 1825.4h7.5v7.5h-7.5zM1179.7 1824.6h7.5v7.5h-7.5zM1173.2 1822.4h7.5v7.5h-7.5zM1191.5 1825.9h7.5v7.5h-7.5zM1190.4 1822.4h7.5v7.5h-7.5zM1195.0 1827.5h7.5v7.5h-7.5zM1192.0 1826.6h7.5v7.5h-7.5zM1187.1 1829.3h7.5v7.5h-7.5zM1192.4 1825.6h7.5v7.5h-7.5zM1189.2 1825.4h7.5v7.5h-7.5zM1187.6 1828.5h7.5v7.5h-7.5zM1190.7 1826.0h7.5v7.5h-7.5zM1207.7 1825.7h7.5v7.5h-7.5zM1197.5 1825.1h7.5v7.5h-7.5zM1198.6 1825.6h7.5v7.5h-7.5zM1207.3 1823.5h7.5v7.5h-7.5zM1208.5 1825.4h7.5v7.5h-7.5zM1210.2 1822.6h7.5v7.5h-7.5zM1232.2 1828.5h7.5v7.5h-7.5zM1222.1 1829.5h7.5v7.5h-7.5zM1239.6 1833.0h7.5v7.5h-7.5zM1227.7 1838.1h7.5v7.5h-7.5zM1239.6 1843.7h7.5v7.5h-7.5zM1237.7 1851.7h7.5v7.5h-7.5zM1235.5 1880.6h7.5v7.5h-7.5z"/>
<polygon fill="#0000f5" points="1168.0,1904.5 1166.0,1727.5 1161.0,1730.2 1156.0,1733.0 1151.0,1735.7 1146.0,1738.4 1141.0,1742.6 1136.0,1747.8 1131.0,1753.0 1126.0,1758.2 1121.0,1763.4 1116.0,1770.1 1111.0,1777.7 1106.0,1785.3 1101.0,1792.9 1096.0,1800.5 1091.0,1805.9 1086.0,1809.9 1081.0,1813.9 1076.0,1817.9 1071.0,1821.9 1066.0,1826.1 1061.0,1830.5 1056.0,1834.9 1051.0,1839.3 1046.0,1843.7 1041.0,1847.7 1036.0,1851.3 1031.0,1854.9 1026.0,1858.5 1021.0,1862.1 1016.0,1865.2 1011.0,1868.0 1006.0,1870.8 1001.0,1873.6 996.0,1876.4 991.0,1878.9 986.0,1881.3 981.0,1883.7 976.0,1886.1 971.0,1888.5 966.0,1890.3 961.0,1891.7 956.0,1893.1 951.0,1894.5 946.0,1895.9 941.0,1896.8 936.0,1897.2 931.0,1897.7 926.0,1898.1 921.0,1898.6 916.0,1899.0 911.0,1899.5 906.0,1899.9 901.0,1900.4 896.0,1900.8 891.0,1901.1 886.0,1901.3 881.0,1901.6 876.0,1901.8 871.0,1902.0 866.0,1902.2 861.0,1902.4 856.0,1902.6 851.0,1902.9 846.0,1903.1 841.0,1903.3 836.0,1903.5 836.0,1904.5"/>
<polygon fill="#0000f5" points="572.0,1904.0 572.0,1895.0 600.0,1893.0 650.0,1892.0 700.0,1891.0 740.0,1893.0 760.0,1897.0 765.0,1904.0"/>
<path fill="#1c14a8" d="M631.0 320.0h7.5v7.5h-7.5zM387.5 499.2h7.5v7.5h-7.5zM1050.2 318.5h7.5v7.5h-7.5zM1137.0 334.5h7.5v7.5h-7.5zM1128.0 388.8h7.5v7.5h-7.5zM1153.5 450.0h7.5v7.5h-7.5zM963.0 528.0h7.5v7.5h-7.5zM1154.5 641.5h7.5v7.5h-7.5zM325.0 1122.2h7.5v7.5h-7.5zM1115.8 657.2h7.5v7.5h-7.5zM1139.0 662.0h7.5v7.5h-7.5zM1154.8 660.8h7.5v7.5h-7.5zM1108.0 695.8h7.5v7.5h-7.5zM1124.5 717.0h7.5v7.5h-7.5zM1111.5 751.0h7.5v7.5h-7.5zM1156.5 781.2h7.5v7.5h-7.5zM1024.5 796.2h7.5v7.5h-7.5zM1127.5 802.8h7.5v7.5h-7.5zM1095.8 830.0h7.5v7.5h-7.5zM1074.5 840.8h7.5v7.5h-7.5zM1126.5 846.0h7.5v7.5h-7.5zM1152.2 844.5h7.5v7.5h-7.5zM1159.8 865.0h7.5v7.5h-7.5zM1152.8 913.2h7.5v7.5h-7.5zM1069.8 956.2h7.5v7.5h-7.5zM1123.0 971.8h7.5v7.5h-7.5zM1117.0 991.2h7.5v7.5h-7.5zM1033.2 1005.5h7.5v7.5h-7.5zM957.5 1038.0h7.5v7.5h-7.5zM1048.5 1083.8h7.5v7.5h-7.5zM1114.2 1103.5h7.5v7.5h-7.5zM483.5 1331.2h7.5v7.5h-7.5zM559.8 1359.5h7.5v7.5h-7.5zM511.0 1570.8h7.5v7.5h-7.5zM652.2 1558.8h7.5v7.5h-7.5zM733.5 1584.5h7.5v7.5h-7.5zM1131.8 1150.0h7.5v7.5h-7.5zM1152.8 1152.5h7.5v7.5h-7.5zM1092.0 1183.8h7.5v7.5h-7.5zM1148.2 1199.2h7.5v7.5h-7.5zM1118.5 1240.8h7.5v7.5h-7.5zM1143.2 1248.5h7.5v7.5h-7.5zM1089.2 1262.0h7.5v7.5h-7.5zM1119.8 1260.0h7.5v7.5h-7.5zM1152.0 1263.8h7.5v7.5h-7.5zM1061.5 1270.0h7.5v7.5h-7.5zM1079.5 1283.0h7.5v7.5h-7.5zM1009.5 1289.8h7.5v7.5h-7.5zM1156.0 1310.0h7.5v7.5h-7.5zM1140.5 1312.8h7.5v7.5h-7.5zM1068.2 1318.2h7.5v7.5h-7.5zM1132.2 1338.0h7.5v7.5h-7.5zM1083.5 1345.2h7.5v7.5h-7.5zM1152.0 1353.8h7.5v7.5h-7.5zM1105.5 1361.2h7.5v7.5h-7.5zM1128.8 1369.2h7.5v7.5h-7.5zM1078.8 1394.2h7.5v7.5h-7.5zM1147.2 1402.0h7.5v7.5h-7.5zM1158.8 1412.0h7.5v7.5h-7.5zM1087.8 1415.2h7.5v7.5h-7.5zM965.8 1431.5h7.5v7.5h-7.5zM986.0 1433.0h7.5v7.5h-7.5zM824.0 1417.8h7.5v7.5h-7.5zM1144.5 1437.0h7.5v7.5h-7.5zM1111.2 1463.8h7.5v7.5h-7.5zM1129.8 1462.8h7.5v7.5h-7.5zM925.5 1465.0h7.5v7.5h-7.5zM963.5 1488.5h7.5v7.5h-7.5zM1086.5 1522.0h7.5v7.5h-7.5zM1014.0 1528.0h7.5v7.5h-7.5zM1069.0 1530.2h7.5v7.5h-7.5zM1030.2 1543.5h7.5v7.5h-7.5zM1089.0 1563.5h7.5v7.5h-7.5zM962.5 1577.5h7.5v7.5h-7.5zM1000.2 1600.5h7.5v7.5h-7.5zM362.0 1684.0h7.5v7.5h-7.5zM495.0 1669.8h7.5v7.5h-7.5zM725.0 1670.2h7.5v7.5h-7.5zM436.2 1725.5h7.5v7.5h-7.5zM534.2 1723.8h7.5v7.5h-7.5zM566.8 1732.2h7.5v7.5h-7.5zM592.5 1733.5h7.5v7.5h-7.5zM626.2 1733.5h7.5v7.5h-7.5zM548.5 1746.8h7.5v7.5h-7.5zM620.5 1757.2h7.5v7.5h-7.5zM527.5 1767.8h7.5v7.5h-7.5zM621.8 1774.8h7.5v7.5h-7.5zM598.8 1782.8h7.5v7.5h-7.5zM453.5 1789.2h7.5v7.5h-7.5zM638.5 1797.2h7.5v7.5h-7.5zM564.2 1814.2h7.5v7.5h-7.5zM718.0 1812.2h7.5v7.5h-7.5zM625.5 1826.5h7.5v7.5h-7.5zM549.2 1843.0h7.5v7.5h-7.5zM410.5 1843.0h7.5v7.5h-7.5zM432.2 1859.0h7.5v7.5h-7.5zM495.5 1864.2h7.5v7.5h-7.5zM533.8 1873.5h7.5v7.5h-7.5zM1032.0 1601.8h7.5v7.5h-7.5zM836.6 1610.8h7.5v7.5h-7.5zM997.9 1613.4h7.5v7.5h-7.5zM904.0 1621.6h7.5v7.5h-7.5zM1115.7 1623.8h7.5v7.5h-7.5zM848.6 1631.6h7.5v7.5h-7.5zM1041.8 1630.0h7.5v7.5h-7.5zM1056.2 1637.0h7.5v7.5h-7.5zM1077.1 1634.6h7.5v7.5h-7.5zM1106.3 1636.0h7.5v7.5h-7.5zM923.2 1643.9h7.5v7.5h-7.5zM993.6 1647.2h7.5v7.5h-7.5zM1010.8 1650.9h7.5v7.5h-7.5zM907.8 1661.2h7.5v7.5h-7.5zM975.2 1653.8h7.5v7.5h-7.5zM858.0 1667.1h7.5v7.5h-7.5zM993.5 1668.1h7.5v7.5h-7.5zM1051.8 1669.7h7.5v7.5h-7.5zM1071.1 1668.8h7.5v7.5h-7.5zM879.1 1685.8h7.5v7.5h-7.5zM983.0 1678.4h7.5v7.5h-7.5zM1009.5 1683.9h7.5v7.5h-7.5zM1028.9 1681.8h7.5v7.5h-7.5zM907.2 1699.9h7.5v7.5h-7.5zM1035.1 1693.4h7.5v7.5h-7.5zM866.4 1702.3h7.5v7.5h-7.5zM895.9 1708.0h7.5v7.5h-7.5zM980.3 1707.8h7.5v7.5h-7.5zM1040.0 1711.8h7.5v7.5h-7.5zM874.9 1720.0h7.5v7.5h-7.5zM940.6 1712.8h7.5v7.5h-7.5zM846.9 1741.1h7.5v7.5h-7.5zM930.6 1741.4h7.5v7.5h-7.5zM982.9 1744.2h7.5v7.5h-7.5zM1028.5 1737.2h7.5v7.5h-7.5zM1046.7 1740.1h7.5v7.5h-7.5zM1047.0 1753.7h7.5v7.5h-7.5zM1060.4 1750.2h7.5v7.5h-7.5zM887.7 1764.2h7.5v7.5h-7.5zM955.2 1770.0h7.5v7.5h-7.5zM850.4 1778.7h7.5v7.5h-7.5zM865.5 1776.0h7.5v7.5h-7.5zM907.2 1774.9h7.5v7.5h-7.5zM963.9 1782.6h7.5v7.5h-7.5zM863.9 1794.0h7.5v7.5h-7.5zM839.5 1801.7h7.5v7.5h-7.5zM954.7 1808.3h7.5v7.5h-7.5zM810.8 1826.3h7.5v7.5h-7.5zM838.4 1830.2h7.5v7.5h-7.5zM854.6 1824.7h7.5v7.5h-7.5zM870.4 1831.4h7.5v7.5h-7.5zM923.6 1828.3h7.5v7.5h-7.5zM815.6 1840.9h7.5v7.5h-7.5zM740.1 1786.3h7.5v7.5h-7.5zM756.1 1791.7h7.5v7.5h-7.5zM746.2 1808.3h7.5v7.5h-7.5zM798.4 1813.7h7.5v7.5h-7.5zM778.1 1841.9h7.5v7.5h-7.5zM771.2 1868.8h7.5v7.5h-7.5z"/>
<path fill="#1008d0" d="M1147.8 1024.0h7.5v7.5h-7.5zM1157.2 1031.2h7.5v7.5h-7.5zM1131.8 1167.5h7.5v7.5h-7.5zM1156.0 1166.2h7.5v7.5h-7.5zM1143.2 1173.0h7.5v7.5h-7.5zM1149.0 1177.0h7.5v7.5h-7.5zM1141.5 1212.5h7.5v7.5h-7.5zM1147.2 1213.8h7.5v7.5h-7.5zM1153.5 1225.0h7.5v7.5h-7.5zM1117.2 1278.8h7.5v7.5h-7.5zM1126.5 1278.8h7.5v7.5h-7.5zM1116.5 1313.8h7.5v7.5h-7.5zM1127.2 1314.0h7.5v7.5h-7.5zM1119.8 1325.5h7.5v7.5h-7.5zM1125.5 1397.5h7.5v7.5h-7.5zM1135.2 1396.5h7.5v7.5h-7.5zM1112.2 1401.2h7.5v7.5h-7.5zM1104.0 1416.2h7.5v7.5h-7.5zM1135.5 1448.0h7.5v7.5h-7.5zM1142.2 1457.8h7.5v7.5h-7.5zM1154.0 1490.0h7.5v7.5h-7.5zM1117.8 1495.8h7.5v7.5h-7.5zM1139.5 1496.8h7.5v7.5h-7.5zM1077.8 1506.5h7.5v7.5h-7.5zM1072.2 1510.0h7.5v7.5h-7.5zM1162.8 1527.0h7.5v7.5h-7.5zM1113.0 1536.8h7.5v7.5h-7.5zM1049.5 1562.2h7.5v7.5h-7.5zM1142.8 1567.5h7.5v7.5h-7.5zM1142.0 1578.8h7.5v7.5h-7.5zM1043.5 1573.0h7.5v7.5h-7.5zM1015.2 1580.5h7.5v7.5h-7.5zM1020.8 1590.5h7.5v7.5h-7.5zM1117.8 1591.8h7.5v7.5h-7.5zM1131.5 1592.8h7.5v7.5h-7.5zM1156.5 1593.8h7.5v7.5h-7.5zM1162.8 1597.5h7.5v7.5h-7.5zM1061.5 1600.0h7.5v7.5h-7.5zM1110.2 1598.8h7.5v7.5h-7.5zM573.5 1756.0h7.5v7.5h-7.5zM572.5 1762.2h7.5v7.5h-7.5zM612.2 1786.0h7.5v7.5h-7.5zM618.8 1793.0h7.5v7.5h-7.5zM602.2 1799.8h7.5v7.5h-7.5zM591.8 1807.2h7.5v7.5h-7.5zM608.0 1814.8h7.5v7.5h-7.5zM541.8 1812.2h7.5v7.5h-7.5zM538.0 1816.0h7.5v7.5h-7.5zM644.2 1814.8h7.5v7.5h-7.5zM651.8 1819.8h7.5v7.5h-7.5zM653.0 1824.8h7.5v7.5h-7.5zM680.5 1817.2h7.5v7.5h-7.5zM679.2 1824.8h7.5v7.5h-7.5zM605.5 1824.8h7.5v7.5h-7.5zM571.8 1836.5h7.5v7.5h-7.5zM564.2 1838.5h7.5v7.5h-7.5zM639.2 1836.0h7.5v7.5h-7.5zM629.2 1841.8h7.5v7.5h-7.5zM615.5 1839.8h7.5v7.5h-7.5zM593.0 1846.0h7.5v7.5h-7.5zM701.8 1839.8h7.5v7.5h-7.5zM734.2 1838.5h7.5v7.5h-7.5zM549.2 1859.8h7.5v7.5h-7.5zM549.2 1864.8h7.5v7.5h-7.5zM639.2 1856.0h7.5v7.5h-7.5zM653.0 1856.0h7.5v7.5h-7.5zM699.2 1864.8h7.5v7.5h-7.5zM563.0 1867.2h7.5v7.5h-7.5zM1148.3 1466.7h7.5v7.5h-7.5zM1105.3 1513.0h7.5v7.5h-7.5zM1155.9 1509.1h7.5v7.5h-7.5zM1154.6 1528.5h7.5v7.5h-7.5zM1116.0 1545.5h7.5v7.5h-7.5zM1110.4 1558.0h7.5v7.5h-7.5zM1138.6 1586.3h7.5v7.5h-7.5zM1070.9 1601.5h7.5v7.5h-7.5zM1113.2 1601.7h7.5v7.5h-7.5zM1129.5 1602.0h7.5v7.5h-7.5zM1147.7 1600.7h7.5v7.5h-7.5zM1067.4 1605.6h7.5v7.5h-7.5zM1085.4 1605.9h7.5v7.5h-7.5zM1091.1 1607.5h7.5v7.5h-7.5zM1160.4 1613.1h7.5v7.5h-7.5zM1025.2 1626.7h7.5v7.5h-7.5zM1026.3 1623.0h7.5v7.5h-7.5zM1131.5 1616.9h7.5v7.5h-7.5zM1047.6 1648.5h7.5v7.5h-7.5zM1073.5 1651.3h7.5v7.5h-7.5zM1075.1 1648.7h7.5v7.5h-7.5zM1138.8 1651.4h7.5v7.5h-7.5zM1043.9 1658.4h7.5v7.5h-7.5zM1051.9 1654.3h7.5v7.5h-7.5zM1140.9 1653.1h7.5v7.5h-7.5zM1155.7 1657.2h7.5v7.5h-7.5zM1066.1 1687.4h7.5v7.5h-7.5zM1088.5 1677.9h7.5v7.5h-7.5zM1059.5 1692.8h7.5v7.5h-7.5zM1080.5 1689.2h7.5v7.5h-7.5zM1098.7 1691.7h7.5v7.5h-7.5zM923.4 1724.1h7.5v7.5h-7.5zM1059.1 1713.5h7.5v7.5h-7.5zM1063.6 1716.2h7.5v7.5h-7.5zM1090.3 1722.8h7.5v7.5h-7.5zM913.5 1731.2h7.5v7.5h-7.5zM972.2 1736.2h7.5v7.5h-7.5zM1059.9 1731.5h7.5v7.5h-7.5zM962.4 1736.3h7.5v7.5h-7.5zM1000.9 1737.5h7.5v7.5h-7.5zM1011.1 1736.7h7.5v7.5h-7.5zM939.7 1752.5h7.5v7.5h-7.5zM1015.2 1754.4h7.5v7.5h-7.5zM934.3 1762.2h7.5v7.5h-7.5zM983.1 1763.7h7.5v7.5h-7.5zM1012.1 1761.7h7.5v7.5h-7.5zM1047.4 1770.9h7.5v7.5h-7.5zM1047.1 1771.6h7.5v7.5h-7.5zM828.5 1783.6h7.5v7.5h-7.5zM922.4 1776.8h7.5v7.5h-7.5zM932.1 1780.7h7.5v7.5h-7.5zM977.3 1775.3h7.5v7.5h-7.5zM996.0 1776.4h7.5v7.5h-7.5zM1006.5 1784.0h7.5v7.5h-7.5zM1019.4 1783.2h7.5v7.5h-7.5zM888.8 1789.9h7.5v7.5h-7.5zM896.3 1790.8h7.5v7.5h-7.5zM920.3 1790.7h7.5v7.5h-7.5zM942.3 1786.9h7.5v7.5h-7.5zM976.0 1793.9h7.5v7.5h-7.5zM870.3 1808.0h7.5v7.5h-7.5zM903.0 1806.1h7.5v7.5h-7.5zM920.3 1799.4h7.5v7.5h-7.5zM964.0 1797.4h7.5v7.5h-7.5zM975.4 1805.3h7.5v7.5h-7.5zM1007.7 1804.5h7.5v7.5h-7.5zM1028.3 1797.7h7.5v7.5h-7.5zM867.7 1817.7h7.5v7.5h-7.5zM888.1 1818.6h7.5v7.5h-7.5zM904.9 1811.1h7.5v7.5h-7.5zM906.9 1818.3h7.5v7.5h-7.5zM929.6 1808.7h7.5v7.5h-7.5zM940.9 1813.1h7.5v7.5h-7.5zM989.5 1809.4h7.5v7.5h-7.5zM992.3 1809.1h7.5v7.5h-7.5zM1002.7 1817.6h7.5v7.5h-7.5zM1018.6 1812.0h7.5v7.5h-7.5zM894.0 1826.0h7.5v7.5h-7.5zM954.7 1822.6h7.5v7.5h-7.5zM1016.5 1825.0h7.5v7.5h-7.5zM860.2 1842.1h7.5v7.5h-7.5zM916.8 1842.4h7.5v7.5h-7.5zM919.1 1841.6h7.5v7.5h-7.5zM939.4 1834.4h7.5v7.5h-7.5zM835.3 1852.7h7.5v7.5h-7.5zM930.1 1846.0h7.5v7.5h-7.5zM937.5 1850.5h7.5v7.5h-7.5zM952.2 1848.8h7.5v7.5h-7.5zM954.6 1851.3h7.5v7.5h-7.5zM827.3 1862.7h7.5v7.5h-7.5zM946.0 1860.5h7.5v7.5h-7.5zM966.1 1857.5h7.5v7.5h-7.5zM821.3 1784.5h7.5v7.5h-7.5zM749.0 1831.7h7.5v7.5h-7.5zM594.2 1842.8h7.5v7.5h-7.5zM654.0 1844.6h7.5v7.5h-7.5zM753.9 1840.3h7.5v7.5h-7.5zM722.1 1859.6h7.5v7.5h-7.5zM721.4 1860.3h7.5v7.5h-7.5zM747.3 1865.7h7.5v7.5h-7.5zM826.5 1873.5h7.5v7.5h-7.5z"/>
<path fill="#0000f5" d="M1109.0 1408.8h7.5v7.5h-7.5zM1120.5 1409.5h7.5v7.5h-7.5zM1148.5 1477.5h7.5v7.5h-7.5zM1151.0 1484.2h7.5v7.5h-7.5zM1122.8 1499.5h7.5v7.5h-7.5zM1115.8 1509.5h7.5v7.5h-7.5zM1134.8 1513.2h7.5v7.5h-7.5zM1138.2 1518.2h7.5v7.5h-7.5zM1142.8 1521.2h7.5v7.5h-7.5zM1158.2 1533.8h7.5v7.5h-7.5zM1152.2 1543.8h7.5v7.5h-7.5zM1153.2 1554.5h7.5v7.5h-7.5zM1115.2 1565.0h7.5v7.5h-7.5zM1118.8 1571.2h7.5v7.5h-7.5zM599.2 1812.2h7.5v7.5h-7.5zM608.0 1847.2h7.5v7.5h-7.5zM588.0 1849.8h7.5v7.5h-7.5zM691.8 1847.2h7.5v7.5h-7.5zM735.5 1851.0h7.5v7.5h-7.5zM581.8 1857.2h7.5v7.5h-7.5zM585.5 1864.8h7.5v7.5h-7.5zM599.2 1859.8h7.5v7.5h-7.5zM600.5 1867.2h7.5v7.5h-7.5zM616.8 1854.8h7.5v7.5h-7.5zM618.0 1859.8h7.5v7.5h-7.5zM643.0 1864.8h7.5v7.5h-7.5zM639.2 1871.0h7.5v7.5h-7.5zM679.2 1857.2h7.5v7.5h-7.5zM669.2 1864.8h7.5v7.5h-7.5zM695.5 1857.2h7.5v7.5h-7.5zM571.8 1869.8h7.5v7.5h-7.5zM579.2 1871.0h7.5v7.5h-7.5zM605.5 1873.5h7.5v7.5h-7.5zM616.8 1873.5h7.5v7.5h-7.5zM623.0 1872.2h7.5v7.5h-7.5zM513.0 1877.2h7.5v7.5h-7.5zM564.2 1883.5h7.5v7.5h-7.5zM499.2 1891.5h7.5v7.5h-7.5zM515.0 1894.2h7.5v7.5h-7.5zM530.5 1891.0h7.5v7.5h-7.5zM545.5 1887.2h7.5v7.5h-7.5zM553.0 1897.2h7.5v7.5h-7.5zM1138.3 1485.2h7.5v7.5h-7.5zM1115.0 1496.8h7.5v7.5h-7.5zM1131.5 1504.7h7.5v7.5h-7.5zM1123.0 1512.9h7.5v7.5h-7.5zM1145.6 1511.5h7.5v7.5h-7.5zM1113.3 1521.3h7.5v7.5h-7.5zM1149.2 1549.3h7.5v7.5h-7.5zM1159.7 1551.9h7.5v7.5h-7.5zM1110.2 1575.9h7.5v7.5h-7.5zM1111.3 1579.9h7.5v7.5h-7.5zM1122.5 1577.9h7.5v7.5h-7.5zM1131.3 1612.8h7.5v7.5h-7.5zM1130.7 1623.8h7.5v7.5h-7.5zM1141.7 1627.0h7.5v7.5h-7.5zM1155.6 1624.8h7.5v7.5h-7.5zM1158.6 1623.4h7.5v7.5h-7.5zM1118.9 1639.3h7.5v7.5h-7.5zM1131.4 1637.7h7.5v7.5h-7.5zM1128.9 1630.2h7.5v7.5h-7.5zM1144.2 1636.5h7.5v7.5h-7.5zM1136.2 1630.8h7.5v7.5h-7.5zM1149.2 1630.8h7.5v7.5h-7.5zM1160.2 1639.6h7.5v7.5h-7.5zM1115.0 1647.8h7.5v7.5h-7.5zM1118.5 1641.4h7.5v7.5h-7.5zM1126.0 1642.1h7.5v7.5h-7.5zM1137.1 1643.9h7.5v7.5h-7.5zM1150.8 1641.4h7.5v7.5h-7.5zM1162.0 1641.0h7.5v7.5h-7.5zM1078.7 1655.7h7.5v7.5h-7.5zM1087.9 1661.3h7.5v7.5h-7.5zM1099.1 1662.6h7.5v7.5h-7.5zM1118.0 1657.9h7.5v7.5h-7.5zM1152.6 1661.3h7.5v7.5h-7.5zM1160.0 1652.3h7.5v7.5h-7.5zM1089.1 1669.1h7.5v7.5h-7.5zM1109.2 1667.5h7.5v7.5h-7.5zM1109.6 1664.8h7.5v7.5h-7.5zM1112.6 1664.3h7.5v7.5h-7.5zM1122.0 1664.6h7.5v7.5h-7.5zM1123.7 1667.4h7.5v7.5h-7.5zM1124.8 1674.4h7.5v7.5h-7.5zM1144.4 1672.2h7.5v7.5h-7.5zM1154.8 1670.6h7.5v7.5h-7.5zM1157.3 1675.5h7.5v7.5h-7.5zM1146.4 1672.4h7.5v7.5h-7.5zM1159.8 1670.5h7.5v7.5h-7.5zM1161.4 1674.8h7.5v7.5h-7.5zM1109.3 1680.4h7.5v7.5h-7.5zM1118.3 1676.9h7.5v7.5h-7.5zM1116.8 1685.1h7.5v7.5h-7.5zM1131.1 1685.0h7.5v7.5h-7.5zM1139.1 1686.4h7.5v7.5h-7.5zM1134.9 1687.2h7.5v7.5h-7.5zM1140.2 1676.9h7.5v7.5h-7.5zM1142.6 1683.1h7.5v7.5h-7.5zM1146.0 1680.8h7.5v7.5h-7.5zM1136.8 1688.0h7.5v7.5h-7.5zM1152.0 1687.9h7.5v7.5h-7.5zM1155.3 1684.0h7.5v7.5h-7.5zM1161.0 1680.7h7.5v7.5h-7.5zM1069.1 1695.7h7.5v7.5h-7.5zM1080.1 1699.1h7.5v7.5h-7.5zM1093.8 1698.6h7.5v7.5h-7.5zM1106.3 1691.5h7.5v7.5h-7.5zM1114.8 1689.9h7.5v7.5h-7.5zM1121.2 1692.4h7.5v7.5h-7.5zM1133.5 1690.7h7.5v7.5h-7.5zM1129.6 1695.1h7.5v7.5h-7.5zM1123.4 1692.2h7.5v7.5h-7.5zM1144.6 1690.3h7.5v7.5h-7.5zM1144.7 1690.7h7.5v7.5h-7.5zM1139.4 1697.7h7.5v7.5h-7.5zM1139.2 1697.8h7.5v7.5h-7.5zM1141.1 1695.5h7.5v7.5h-7.5zM1144.7 1693.2h7.5v7.5h-7.5zM1138.7 1695.6h7.5v7.5h-7.5zM1146.8 1696.4h7.5v7.5h-7.5zM1155.8 1689.1h7.5v7.5h-7.5zM1157.8 1692.9h7.5v7.5h-7.5zM1147.1 1688.9h7.5v7.5h-7.5zM1161.6 1692.8h7.5v7.5h-7.5zM1161.0 1694.9h7.5v7.5h-7.5zM1071.5 1707.8h7.5v7.5h-7.5zM1085.0 1705.2h7.5v7.5h-7.5zM1087.3 1703.0h7.5v7.5h-7.5zM1108.4 1704.6h7.5v7.5h-7.5zM1112.8 1703.9h7.5v7.5h-7.5zM1111.7 1707.6h7.5v7.5h-7.5zM1125.3 1702.9h7.5v7.5h-7.5zM1145.3 1708.8h7.5v7.5h-7.5zM1140.5 1706.4h7.5v7.5h-7.5zM1149.4 1711.5h7.5v7.5h-7.5zM1154.8 1702.6h7.5v7.5h-7.5zM1156.5 1710.9h7.5v7.5h-7.5zM1158.3 1702.5h7.5v7.5h-7.5zM1158.3 1702.5h7.5v7.5h-7.5zM1108.9 1712.5h7.5v7.5h-7.5zM1120.6 1712.3h7.5v7.5h-7.5zM1125.7 1720.6h7.5v7.5h-7.5zM1130.0 1720.5h7.5v7.5h-7.5zM1124.5 1723.1h7.5v7.5h-7.5zM1124.5 1722.3h7.5v7.5h-7.5zM1145.7 1717.3h7.5v7.5h-7.5zM1138.6 1721.7h7.5v7.5h-7.5zM1144.2 1721.1h7.5v7.5h-7.5zM1139.2 1721.7h7.5v7.5h-7.5zM1155.9 1715.2h7.5v7.5h-7.5zM1157.7 1721.0h7.5v7.5h-7.5zM1146.8 1719.2h7.5v7.5h-7.5zM1160.2 1719.6h7.5v7.5h-7.5zM1071.2 1736.2h7.5v7.5h-7.5zM1079.4 1735.4h7.5v7.5h-7.5zM1078.6 1734.0h7.5v7.5h-7.5zM1093.8 1727.7h7.5v7.5h-7.5zM1109.9 1725.9h7.5v7.5h-7.5zM1109.9 1731.4h7.5v7.5h-7.5zM1100.6 1729.3h7.5v7.5h-7.5zM1109.1 1731.6h7.5v7.5h-7.5zM1117.1 1731.5h7.5v7.5h-7.5zM1111.3 1732.7h7.5v7.5h-7.5zM1111.7 1727.8h7.5v7.5h-7.5zM1127.8 1728.0h7.5v7.5h-7.5zM1142.0 1732.5h7.5v7.5h-7.5zM1143.1 1726.4h7.5v7.5h-7.5zM1145.2 1733.5h7.5v7.5h-7.5zM1155.7 1734.8h7.5v7.5h-7.5zM1154.6 1736.0h7.5v7.5h-7.5zM1157.4 1724.4h7.5v7.5h-7.5zM1154.3 1730.9h7.5v7.5h-7.5zM1156.6 1726.2h7.5v7.5h-7.5zM1152.9 1731.2h7.5v7.5h-7.5zM1158.3 1731.8h7.5v7.5h-7.5zM1159.5 1729.9h7.5v7.5h-7.5zM1161.1 1725.4h7.5v7.5h-7.5zM1071.6 1741.8h7.5v7.5h-7.5zM1098.1 1738.3h7.5v7.5h-7.5zM1090.5 1741.5h7.5v7.5h-7.5zM1101.5 1747.2h7.5v7.5h-7.5zM1098.5 1745.8h7.5v7.5h-7.5zM1120.9 1740.2h7.5v7.5h-7.5zM1120.3 1747.8h7.5v7.5h-7.5zM1123.0 1746.5h7.5v7.5h-7.5zM1130.7 1737.7h7.5v7.5h-7.5zM1129.9 1744.1h7.5v7.5h-7.5zM1132.8 1744.9h7.5v7.5h-7.5zM1139.0 1746.7h7.5v7.5h-7.5zM1143.6 1742.4h7.5v7.5h-7.5zM1139.7 1747.3h7.5v7.5h-7.5zM1137.6 1742.9h7.5v7.5h-7.5zM1139.9 1748.1h7.5v7.5h-7.5zM1134.8 1736.9h7.5v7.5h-7.5zM1134.6 1739.6h7.5v7.5h-7.5zM1134.8 1747.4h7.5v7.5h-7.5zM1145.1 1743.0h7.5v7.5h-7.5zM1139.8 1745.6h7.5v7.5h-7.5zM1137.3 1745.2h7.5v7.5h-7.5zM1144.0 1737.4h7.5v7.5h-7.5zM1143.6 1747.7h7.5v7.5h-7.5zM1140.1 1746.3h7.5v7.5h-7.5zM1137.2 1740.5h7.5v7.5h-7.5zM1143.3 1747.6h7.5v7.5h-7.5zM1140.0 1745.0h7.5v7.5h-7.5zM1138.5 1738.1h7.5v7.5h-7.5zM1153.2 1742.1h7.5v7.5h-7.5zM1154.5 1743.1h7.5v7.5h-7.5zM1151.6 1747.4h7.5v7.5h-7.5zM1154.1 1736.3h7.5v7.5h-7.5zM1161.0 1742.8h7.5v7.5h-7.5zM1159.9 1743.3h7.5v7.5h-7.5zM1161.1 1744.8h7.5v7.5h-7.5zM1085.5 1752.0h7.5v7.5h-7.5zM1091.9 1749.6h7.5v7.5h-7.5zM1097.3 1752.8h7.5v7.5h-7.5zM1096.3 1751.0h7.5v7.5h-7.5zM1098.9 1750.6h7.5v7.5h-7.5zM1104.7 1750.0h7.5v7.5h-7.5zM1103.9 1752.1h7.5v7.5h-7.5zM1120.7 1758.1h7.5v7.5h-7.5zM1112.4 1757.8h7.5v7.5h-7.5zM1111.6 1751.5h7.5v7.5h-7.5zM1121.2 1759.4h7.5v7.5h-7.5zM1115.4 1755.2h7.5v7.5h-7.5zM1126.9 1758.8h7.5v7.5h-7.5zM1128.4 1753.6h7.5v7.5h-7.5zM1128.7 1754.1h7.5v7.5h-7.5zM1123.8 1754.2h7.5v7.5h-7.5zM1123.2 1750.1h7.5v7.5h-7.5zM1144.3 1748.4h7.5v7.5h-7.5zM1140.5 1758.5h7.5v7.5h-7.5zM1143.9 1754.7h7.5v7.5h-7.5zM1137.7 1753.0h7.5v7.5h-7.5zM1134.8 1750.8h7.5v7.5h-7.5zM1144.5 1751.4h7.5v7.5h-7.5zM1137.2 1751.7h7.5v7.5h-7.5zM1145.9 1759.0h7.5v7.5h-7.5zM1152.2 1749.6h7.5v7.5h-7.5zM1156.6 1758.8h7.5v7.5h-7.5zM1149.6 1750.5h7.5v7.5h-7.5zM1146.5 1758.6h7.5v7.5h-7.5zM1154.5 1754.1h7.5v7.5h-7.5zM1157.2 1749.0h7.5v7.5h-7.5zM1147.6 1751.7h7.5v7.5h-7.5zM1151.2 1752.8h7.5v7.5h-7.5zM1149.1 1758.3h7.5v7.5h-7.5zM1155.7 1750.2h7.5v7.5h-7.5zM1147.7 1749.2h7.5v7.5h-7.5zM1148.5 1752.3h7.5v7.5h-7.5zM1152.5 1757.3h7.5v7.5h-7.5zM1150.9 1754.7h7.5v7.5h-7.5zM1155.7 1757.3h7.5v7.5h-7.5zM1149.4 1753.8h7.5v7.5h-7.5zM1150.7 1752.8h7.5v7.5h-7.5zM1155.4 1758.1h7.5v7.5h-7.5zM1149.1 1759.0h7.5v7.5h-7.5zM1155.5 1749.3h7.5v7.5h-7.5zM1157.9 1757.9h7.5v7.5h-7.5zM1155.6 1751.0h7.5v7.5h-7.5zM1146.9 1748.4h7.5v7.5h-7.5zM1154.7 1752.3h7.5v7.5h-7.5zM1156.8 1752.2h7.5v7.5h-7.5zM1151.8 1755.4h7.5v7.5h-7.5zM1156.5 1750.2h7.5v7.5h-7.5zM1157.5 1752.5h7.5v7.5h-7.5zM1160.0 1750.5h7.5v7.5h-7.5zM1060.3 1768.4h7.5v7.5h-7.5zM1072.0 1771.5h7.5v7.5h-7.5zM1064.7 1766.6h7.5v7.5h-7.5zM1085.4 1761.6h7.5v7.5h-7.5zM1075.9 1771.3h7.5v7.5h-7.5zM1087.0 1760.7h7.5v7.5h-7.5zM1087.5 1772.2h7.5v7.5h-7.5zM1090.7 1763.5h7.5v7.5h-7.5zM1098.2 1767.9h7.5v7.5h-7.5zM1107.4 1771.6h7.5v7.5h-7.5zM1105.0 1771.1h7.5v7.5h-7.5zM1105.7 1764.0h7.5v7.5h-7.5zM1105.1 1769.1h7.5v7.5h-7.5zM1104.7 1767.6h7.5v7.5h-7.5zM1114.2 1762.0h7.5v7.5h-7.5zM1111.4 1766.1h7.5v7.5h-7.5zM1112.7 1762.0h7.5v7.5h-7.5zM1133.1 1769.4h7.5v7.5h-7.5zM1132.9 1762.6h7.5v7.5h-7.5zM1132.0 1761.6h7.5v7.5h-7.5zM1123.2 1768.4h7.5v7.5h-7.5zM1122.4 1764.4h7.5v7.5h-7.5zM1125.7 1767.2h7.5v7.5h-7.5zM1140.7 1763.5h7.5v7.5h-7.5zM1141.7 1769.5h7.5v7.5h-7.5zM1141.3 1764.1h7.5v7.5h-7.5zM1137.1 1763.6h7.5v7.5h-7.5zM1137.7 1764.4h7.5v7.5h-7.5zM1137.4 1769.2h7.5v7.5h-7.5zM1153.9 1765.5h7.5v7.5h-7.5zM1155.3 1768.2h7.5v7.5h-7.5zM1158.1 1771.2h7.5v7.5h-7.5zM1155.5 1769.0h7.5v7.5h-7.5zM1154.3 1762.4h7.5v7.5h-7.5zM1149.8 1770.0h7.5v7.5h-7.5zM1158.1 1764.3h7.5v7.5h-7.5zM1148.4 1761.2h7.5v7.5h-7.5zM1158.9 1768.4h7.5v7.5h-7.5zM1159.2 1770.2h7.5v7.5h-7.5zM1039.8 1777.1h7.5v7.5h-7.5zM1066.3 1779.3h7.5v7.5h-7.5zM1083.2 1781.4h7.5v7.5h-7.5zM1080.4 1778.9h7.5v7.5h-7.5zM1078.3 1776.5h7.5v7.5h-7.5zM1088.5 1781.1h7.5v7.5h-7.5zM1097.5 1781.7h7.5v7.5h-7.5zM1088.6 1779.1h7.5v7.5h-7.5zM1094.3 1773.3h7.5v7.5h-7.5zM1106.8 1777.1h7.5v7.5h-7.5zM1107.9 1782.5h7.5v7.5h-7.5zM1109.9 1783.7h7.5v7.5h-7.5zM1106.7 1775.7h7.5v7.5h-7.5zM1119.3 1773.0h7.5v7.5h-7.5zM1121.8 1779.7h7.5v7.5h-7.5zM1126.8 1773.6h7.5v7.5h-7.5zM1126.8 1778.9h7.5v7.5h-7.5zM1125.5 1773.2h7.5v7.5h-7.5zM1132.7 1776.3h7.5v7.5h-7.5zM1131.3 1773.3h7.5v7.5h-7.5zM1135.7 1780.8h7.5v7.5h-7.5zM1139.3 1782.6h7.5v7.5h-7.5zM1142.0 1778.0h7.5v7.5h-7.5zM1149.9 1775.0h7.5v7.5h-7.5zM1146.7 1778.6h7.5v7.5h-7.5zM1151.8 1781.7h7.5v7.5h-7.5zM1150.7 1778.1h7.5v7.5h-7.5zM1151.7 1778.2h7.5v7.5h-7.5zM1149.8 1778.6h7.5v7.5h-7.5zM1149.2 1779.4h7.5v7.5h-7.5zM1146.4 1776.2h7.5v7.5h-7.5zM1158.1 1773.4h7.5v7.5h-7.5zM1152.5 1781.2h7.5v7.5h-7.5zM1147.6 1782.9h7.5v7.5h-7.5zM1153.0 1779.9h7.5v7.5h-7.5zM1158.3 1777.2h7.5v7.5h-7.5zM1161.3 1783.4h7.5v7.5h-7.5zM1022.6 1795.0h7.5v7.5h-7.5zM1036.3 1785.7h7.5v7.5h-7.5zM1047.8 1787.6h7.5v7.5h-7.5zM1040.5 1792.9h7.5v7.5h-7.5zM1051.2 1788.1h7.5v7.5h-7.5zM1050.6 1791.2h7.5v7.5h-7.5zM1072.7 1788.9h7.5v7.5h-7.5zM1069.0 1792.0h7.5v7.5h-7.5zM1073.6 1788.3h7.5v7.5h-7.5zM1081.8 1790.5h7.5v7.5h-7.5zM1075.2 1793.1h7.5v7.5h-7.5zM1075.4 1784.9h7.5v7.5h-7.5zM1082.0 1793.2h7.5v7.5h-7.5zM1089.3 1786.2h7.5v7.5h-7.5zM1094.8 1784.7h7.5v7.5h-7.5zM1096.5 1789.3h7.5v7.5h-7.5zM1103.9 1789.8h7.5v7.5h-7.5zM1100.9 1789.3h7.5v7.5h-7.5zM1101.1 1784.3h7.5v7.5h-7.5zM1103.0 1787.6h7.5v7.5h-7.5zM1100.8 1794.5h7.5v7.5h-7.5zM1112.5 1790.1h7.5v7.5h-7.5zM1112.3 1786.8h7.5v7.5h-7.5zM1111.5 1786.6h7.5v7.5h-7.5zM1111.5 1785.3h7.5v7.5h-7.5zM1110.7 1788.6h7.5v7.5h-7.5zM1129.3 1787.7h7.5v7.5h-7.5zM1126.8 1790.0h7.5v7.5h-7.5zM1125.0 1793.3h7.5v7.5h-7.5zM1122.7 1791.4h7.5v7.5h-7.5zM1134.0 1788.7h7.5v7.5h-7.5zM1125.9 1794.8h7.5v7.5h-7.5zM1123.1 1785.3h7.5v7.5h-7.5zM1133.5 1795.1h7.5v7.5h-7.5zM1140.4 1788.1h7.5v7.5h-7.5zM1140.5 1789.6h7.5v7.5h-7.5zM1134.7 1791.8h7.5v7.5h-7.5zM1134.6 1789.8h7.5v7.5h-7.5zM1140.1 1784.5h7.5v7.5h-7.5zM1146.3 1785.8h7.5v7.5h-7.5zM1147.7 1791.9h7.5v7.5h-7.5zM1162.0 1791.1h7.5v7.5h-7.5zM1160.8 1788.5h7.5v7.5h-7.5zM1008.1 1807.1h7.5v7.5h-7.5zM1019.9 1808.1h7.5v7.5h-7.5zM1028.8 1796.8h7.5v7.5h-7.5zM1043.2 1805.9h7.5v7.5h-7.5zM1052.7 1800.5h7.5v7.5h-7.5zM1050.3 1802.6h7.5v7.5h-7.5zM1051.5 1805.5h7.5v7.5h-7.5zM1069.0 1804.1h7.5v7.5h-7.5zM1067.3 1808.0h7.5v7.5h-7.5zM1072.3 1805.4h7.5v7.5h-7.5zM1082.6 1804.5h7.5v7.5h-7.5zM1082.4 1799.3h7.5v7.5h-7.5zM1079.0 1797.3h7.5v7.5h-7.5zM1093.0 1801.2h7.5v7.5h-7.5zM1090.1 1801.6h7.5v7.5h-7.5zM1090.8 1801.6h7.5v7.5h-7.5zM1103.8 1802.9h7.5v7.5h-7.5zM1106.0 1807.7h7.5v7.5h-7.5zM1108.3 1796.6h7.5v7.5h-7.5zM1109.2 1807.8h7.5v7.5h-7.5zM1099.9 1800.5h7.5v7.5h-7.5zM1113.2 1797.9h7.5v7.5h-7.5zM1113.7 1807.3h7.5v7.5h-7.5zM1118.6 1803.1h7.5v7.5h-7.5zM1117.9 1803.8h7.5v7.5h-7.5zM1119.8 1803.7h7.5v7.5h-7.5zM1114.6 1799.9h7.5v7.5h-7.5zM1114.2 1805.7h7.5v7.5h-7.5zM1113.1 1801.5h7.5v7.5h-7.5zM1117.3 1796.6h7.5v7.5h-7.5zM1119.3 1807.4h7.5v7.5h-7.5zM1120.6 1796.3h7.5v7.5h-7.5zM1125.6 1800.7h7.5v7.5h-7.5zM1129.7 1797.5h7.5v7.5h-7.5zM1129.5 1805.2h7.5v7.5h-7.5zM1128.0 1798.6h7.5v7.5h-7.5zM1132.9 1802.4h7.5v7.5h-7.5zM1146.2 1799.3h7.5v7.5h-7.5zM1145.0 1805.8h7.5v7.5h-7.5zM1136.4 1797.6h7.5v7.5h-7.5zM1157.2 1807.2h7.5v7.5h-7.5zM1152.9 1805.3h7.5v7.5h-7.5zM1151.1 1802.7h7.5v7.5h-7.5zM1150.4 1804.3h7.5v7.5h-7.5zM1146.8 1796.9h7.5v7.5h-7.5zM1151.5 1801.8h7.5v7.5h-7.5zM1148.3 1805.8h7.5v7.5h-7.5zM1159.9 1801.7h7.5v7.5h-7.5zM1160.6 1804.0h7.5v7.5h-7.5zM1158.9 1806.2h7.5v7.5h-7.5zM986.2 1814.7h7.5v7.5h-7.5zM1035.3 1810.3h7.5v7.5h-7.5zM1034.1 1814.4h7.5v7.5h-7.5zM1048.1 1811.4h7.5v7.5h-7.5zM1045.2 1810.4h7.5v7.5h-7.5zM1061.1 1817.7h7.5v7.5h-7.5zM1054.8 1815.8h7.5v7.5h-7.5zM1056.9 1808.6h7.5v7.5h-7.5zM1061.1 1815.8h7.5v7.5h-7.5zM1055.1 1818.2h7.5v7.5h-7.5zM1067.5 1817.3h7.5v7.5h-7.5zM1082.6 1813.7h7.5v7.5h-7.5zM1075.8 1816.7h7.5v7.5h-7.5zM1076.1 1811.2h7.5v7.5h-7.5zM1080.2 1813.6h7.5v7.5h-7.5zM1083.1 1808.4h7.5v7.5h-7.5zM1077.5 1811.4h7.5v7.5h-7.5zM1094.9 1818.6h7.5v7.5h-7.5zM1093.6 1809.8h7.5v7.5h-7.5zM1097.0 1819.3h7.5v7.5h-7.5zM1095.0 1813.0h7.5v7.5h-7.5zM1106.4 1816.7h7.5v7.5h-7.5zM1105.2 1809.1h7.5v7.5h-7.5zM1105.3 1817.4h7.5v7.5h-7.5zM1105.4 1819.3h7.5v7.5h-7.5zM1100.8 1810.7h7.5v7.5h-7.5zM1103.8 1819.0h7.5v7.5h-7.5zM1111.8 1819.9h7.5v7.5h-7.5zM1110.9 1816.6h7.5v7.5h-7.5zM1119.1 1810.1h7.5v7.5h-7.5zM1118.0 1819.7h7.5v7.5h-7.5zM1113.7 1815.3h7.5v7.5h-7.5zM1127.9 1808.4h7.5v7.5h-7.5zM1133.9 1813.9h7.5v7.5h-7.5zM1128.9 1812.6h7.5v7.5h-7.5zM1122.9 1813.9h7.5v7.5h-7.5zM1131.5 1814.1h7.5v7.5h-7.5zM1137.9 1810.0h7.5v7.5h-7.5zM1134.9 1809.9h7.5v7.5h-7.5zM1136.9 1819.3h7.5v7.5h-7.5zM1139.8 1817.5h7.5v7.5h-7.5zM1144.3 1808.4h7.5v7.5h-7.5zM1136.6 1820.0h7.5v7.5h-7.5zM1135.4 1819.3h7.5v7.5h-7.5zM1145.5 1813.8h7.5v7.5h-7.5zM1149.3 1810.6h7.5v7.5h-7.5zM1152.4 1808.3h7.5v7.5h-7.5zM1151.4 1811.4h7.5v7.5h-7.5zM1154.2 1816.3h7.5v7.5h-7.5zM1149.5 1812.4h7.5v7.5h-7.5zM1154.2 1814.5h7.5v7.5h-7.5zM1147.8 1817.0h7.5v7.5h-7.5zM1147.2 1815.5h7.5v7.5h-7.5zM1148.5 1814.5h7.5v7.5h-7.5zM1146.9 1811.7h7.5v7.5h-7.5zM1155.6 1813.8h7.5v7.5h-7.5zM1152.7 1813.2h7.5v7.5h-7.5zM1147.3 1813.6h7.5v7.5h-7.5zM1146.3 1810.0h7.5v7.5h-7.5zM1161.6 1811.0h7.5v7.5h-7.5zM949.6 1831.7h7.5v7.5h-7.5zM976.8 1828.0h7.5v7.5h-7.5zM979.7 1824.8h7.5v7.5h-7.5zM983.7 1825.3h7.5v7.5h-7.5zM988.5 1830.3h7.5v7.5h-7.5zM993.6 1829.3h7.5v7.5h-7.5zM1004.3 1832.2h7.5v7.5h-7.5zM1017.2 1826.9h7.5v7.5h-7.5zM1029.7 1831.7h7.5v7.5h-7.5zM1036.2 1831.6h7.5v7.5h-7.5zM1037.9 1823.5h7.5v7.5h-7.5zM1032.4 1822.1h7.5v7.5h-7.5zM1043.9 1830.1h7.5v7.5h-7.5zM1042.2 1825.4h7.5v7.5h-7.5zM1060.9 1830.0h7.5v7.5h-7.5zM1056.3 1831.2h7.5v7.5h-7.5zM1064.7 1820.7h7.5v7.5h-7.5zM1070.9 1822.8h7.5v7.5h-7.5zM1072.9 1820.7h7.5v7.5h-7.5zM1067.4 1828.2h7.5v7.5h-7.5zM1073.8 1827.8h7.5v7.5h-7.5zM1080.0 1827.7h7.5v7.5h-7.5zM1085.6 1829.4h7.5v7.5h-7.5zM1084.3 1820.7h7.5v7.5h-7.5zM1080.5 1821.9h7.5v7.5h-7.5zM1081.7 1831.7h7.5v7.5h-7.5zM1077.7 1826.0h7.5v7.5h-7.5zM1080.7 1820.8h7.5v7.5h-7.5zM1085.6 1820.5h7.5v7.5h-7.5zM1075.6 1824.0h7.5v7.5h-7.5zM1085.6 1831.8h7.5v7.5h-7.5zM1093.7 1822.5h7.5v7.5h-7.5zM1097.4 1826.7h7.5v7.5h-7.5zM1087.7 1830.5h7.5v7.5h-7.5zM1094.3 1826.6h7.5v7.5h-7.5zM1096.3 1822.5h7.5v7.5h-7.5zM1096.3 1826.2h7.5v7.5h-7.5zM1092.9 1825.3h7.5v7.5h-7.5zM1096.8 1829.2h7.5v7.5h-7.5zM1105.6 1824.3h7.5v7.5h-7.5zM1108.3 1827.6h7.5v7.5h-7.5zM1104.9 1820.5h7.5v7.5h-7.5zM1109.1 1821.0h7.5v7.5h-7.5zM1098.8 1831.2h7.5v7.5h-7.5zM1109.5 1821.0h7.5v7.5h-7.5zM1106.4 1829.5h7.5v7.5h-7.5zM1109.1 1826.0h7.5v7.5h-7.5zM1111.4 1826.6h7.5v7.5h-7.5zM1112.9 1831.0h7.5v7.5h-7.5zM1111.6 1828.0h7.5v7.5h-7.5zM1113.7 1828.9h7.5v7.5h-7.5zM1110.7 1825.8h7.5v7.5h-7.5zM1131.8 1830.0h7.5v7.5h-7.5zM1127.8 1827.2h7.5v7.5h-7.5zM1125.0 1829.4h7.5v7.5h-7.5zM1129.1 1822.2h7.5v7.5h-7.5zM1132.6 1825.2h7.5v7.5h-7.5zM1123.2 1824.8h7.5v7.5h-7.5zM1122.8 1832.2h7.5v7.5h-7.5zM1136.5 1828.8h7.5v7.5h-7.5zM1135.6 1831.4h7.5v7.5h-7.5zM1140.4 1821.9h7.5v7.5h-7.5zM1142.0 1822.9h7.5v7.5h-7.5zM1141.9 1820.3h7.5v7.5h-7.5zM1145.3 1826.0h7.5v7.5h-7.5zM1152.5 1825.2h7.5v7.5h-7.5zM1152.2 1831.6h7.5v7.5h-7.5zM1147.6 1829.7h7.5v7.5h-7.5zM1161.7 1822.3h7.5v7.5h-7.5zM1158.6 1832.2h7.5v7.5h-7.5zM879.8 1840.8h7.5v7.5h-7.5zM949.0 1839.3h7.5v7.5h-7.5zM959.1 1833.3h7.5v7.5h-7.5zM978.2 1836.9h7.5v7.5h-7.5zM978.6 1841.6h7.5v7.5h-7.5zM1003.2 1835.7h7.5v7.5h-7.5zM1010.3 1837.1h7.5v7.5h-7.5zM1003.8 1840.8h7.5v7.5h-7.5zM1010.8 1839.2h7.5v7.5h-7.5zM1021.1 1837.6h7.5v7.5h-7.5zM1022.9 1840.7h7.5v7.5h-7.5zM1030.6 1841.7h7.5v7.5h-7.5zM1028.1 1835.5h7.5v7.5h-7.5zM1040.6 1837.7h7.5v7.5h-7.5zM1040.7 1843.7h7.5v7.5h-7.5zM1049.7 1838.1h7.5v7.5h-7.5zM1048.9 1837.2h7.5v7.5h-7.5zM1047.9 1838.1h7.5v7.5h-7.5zM1050.1 1840.2h7.5v7.5h-7.5zM1042.0 1837.3h7.5v7.5h-7.5zM1057.3 1841.7h7.5v7.5h-7.5zM1060.1 1842.3h7.5v7.5h-7.5zM1052.5 1837.4h7.5v7.5h-7.5zM1058.2 1839.5h7.5v7.5h-7.5zM1062.0 1838.7h7.5v7.5h-7.5zM1055.0 1840.6h7.5v7.5h-7.5zM1064.4 1843.1h7.5v7.5h-7.5zM1064.0 1844.2h7.5v7.5h-7.5zM1067.8 1843.1h7.5v7.5h-7.5zM1070.1 1840.0h7.5v7.5h-7.5zM1071.6 1840.6h7.5v7.5h-7.5zM1075.5 1835.2h7.5v7.5h-7.5zM1083.5 1842.0h7.5v7.5h-7.5zM1080.3 1837.3h7.5v7.5h-7.5zM1078.0 1837.6h7.5v7.5h-7.5zM1084.5 1832.4h7.5v7.5h-7.5zM1086.3 1837.7h7.5v7.5h-7.5zM1088.5 1835.7h7.5v7.5h-7.5zM1086.5 1839.8h7.5v7.5h-7.5zM1088.9 1839.2h7.5v7.5h-7.5zM1094.3 1839.7h7.5v7.5h-7.5zM1096.4 1833.4h7.5v7.5h-7.5zM1095.4 1835.7h7.5v7.5h-7.5zM1090.5 1841.9h7.5v7.5h-7.5zM1089.2 1836.5h7.5v7.5h-7.5zM1087.0 1842.0h7.5v7.5h-7.5zM1098.1 1839.4h7.5v7.5h-7.5zM1091.1 1840.8h7.5v7.5h-7.5zM1109.1 1841.6h7.5v7.5h-7.5zM1108.2 1842.0h7.5v7.5h-7.5zM1104.6 1838.3h7.5v7.5h-7.5zM1103.8 1834.3h7.5v7.5h-7.5zM1101.5 1837.6h7.5v7.5h-7.5zM1098.3 1836.2h7.5v7.5h-7.5zM1108.2 1839.1h7.5v7.5h-7.5zM1099.1 1840.6h7.5v7.5h-7.5zM1101.1 1838.5h7.5v7.5h-7.5zM1104.0 1835.3h7.5v7.5h-7.5zM1103.8 1832.6h7.5v7.5h-7.5zM1117.0 1835.2h7.5v7.5h-7.5zM1113.7 1839.8h7.5v7.5h-7.5zM1120.5 1839.0h7.5v7.5h-7.5zM1115.6 1833.4h7.5v7.5h-7.5zM1121.3 1832.5h7.5v7.5h-7.5zM1117.6 1834.2h7.5v7.5h-7.5zM1114.9 1833.2h7.5v7.5h-7.5zM1111.2 1840.4h7.5v7.5h-7.5zM1119.2 1836.1h7.5v7.5h-7.5zM1119.9 1843.9h7.5v7.5h-7.5zM1113.7 1832.7h7.5v7.5h-7.5zM1116.4 1842.2h7.5v7.5h-7.5zM1114.6 1835.1h7.5v7.5h-7.5zM1115.5 1834.9h7.5v7.5h-7.5zM1113.2 1843.1h7.5v7.5h-7.5zM1117.0 1833.5h7.5v7.5h-7.5zM1129.7 1837.6h7.5v7.5h-7.5zM1134.2 1837.5h7.5v7.5h-7.5zM1130.1 1843.8h7.5v7.5h-7.5zM1128.8 1835.4h7.5v7.5h-7.5zM1127.1 1832.6h7.5v7.5h-7.5zM1122.3 1836.8h7.5v7.5h-7.5zM1136.1 1835.7h7.5v7.5h-7.5zM1145.3 1840.1h7.5v7.5h-7.5zM1136.3 1843.5h7.5v7.5h-7.5zM1138.8 1832.8h7.5v7.5h-7.5zM1138.5 1840.8h7.5v7.5h-7.5zM1139.1 1834.7h7.5v7.5h-7.5zM1136.6 1843.9h7.5v7.5h-7.5zM1142.8 1835.3h7.5v7.5h-7.5zM1144.2 1842.7h7.5v7.5h-7.5zM1138.7 1840.6h7.5v7.5h-7.5zM1144.4 1844.0h7.5v7.5h-7.5zM1157.5 1838.2h7.5v7.5h-7.5zM1154.5 1832.7h7.5v7.5h-7.5zM1150.6 1843.3h7.5v7.5h-7.5zM1157.0 1833.5h7.5v7.5h-7.5zM1147.0 1840.0h7.5v7.5h-7.5zM1150.0 1836.6h7.5v7.5h-7.5zM1152.8 1843.8h7.5v7.5h-7.5zM1160.4 1833.4h7.5v7.5h-7.5zM871.5 1856.0h7.5v7.5h-7.5zM898.8 1850.3h7.5v7.5h-7.5zM985.3 1845.8h7.5v7.5h-7.5zM984.2 1848.8h7.5v7.5h-7.5zM994.5 1856.2h7.5v7.5h-7.5zM1003.9 1848.5h7.5v7.5h-7.5zM1025.9 1854.9h7.5v7.5h-7.5zM1019.8 1846.4h7.5v7.5h-7.5zM1029.2 1846.0h7.5v7.5h-7.5zM1035.7 1847.6h7.5v7.5h-7.5zM1037.6 1847.5h7.5v7.5h-7.5zM1037.6 1853.2h7.5v7.5h-7.5zM1037.3 1851.6h7.5v7.5h-7.5zM1043.1 1845.8h7.5v7.5h-7.5zM1048.3 1846.4h7.5v7.5h-7.5zM1046.0 1848.4h7.5v7.5h-7.5zM1049.5 1852.4h7.5v7.5h-7.5zM1047.9 1852.2h7.5v7.5h-7.5zM1040.3 1855.0h7.5v7.5h-7.5zM1044.5 1849.1h7.5v7.5h-7.5zM1048.0 1851.7h7.5v7.5h-7.5zM1046.8 1854.1h7.5v7.5h-7.5zM1045.6 1849.7h7.5v7.5h-7.5zM1039.8 1850.7h7.5v7.5h-7.5zM1045.7 1847.0h7.5v7.5h-7.5zM1049.2 1844.6h7.5v7.5h-7.5zM1045.9 1854.0h7.5v7.5h-7.5zM1047.0 1856.1h7.5v7.5h-7.5zM1059.2 1850.5h7.5v7.5h-7.5zM1057.6 1844.4h7.5v7.5h-7.5zM1051.4 1850.0h7.5v7.5h-7.5zM1050.9 1850.2h7.5v7.5h-7.5zM1052.8 1853.3h7.5v7.5h-7.5zM1053.8 1845.0h7.5v7.5h-7.5zM1053.9 1846.8h7.5v7.5h-7.5zM1053.7 1850.7h7.5v7.5h-7.5zM1061.3 1847.4h7.5v7.5h-7.5zM1066.3 1851.1h7.5v7.5h-7.5zM1064.4 1850.2h7.5v7.5h-7.5zM1073.4 1850.5h7.5v7.5h-7.5zM1066.2 1856.2h7.5v7.5h-7.5zM1070.7 1845.0h7.5v7.5h-7.5zM1062.9 1853.3h7.5v7.5h-7.5zM1065.1 1851.0h7.5v7.5h-7.5zM1072.6 1849.4h7.5v7.5h-7.5zM1069.4 1853.4h7.5v7.5h-7.5zM1065.7 1846.3h7.5v7.5h-7.5zM1085.8 1852.1h7.5v7.5h-7.5zM1077.2 1853.9h7.5v7.5h-7.5zM1083.4 1854.8h7.5v7.5h-7.5zM1079.7 1853.9h7.5v7.5h-7.5zM1078.6 1851.8h7.5v7.5h-7.5zM1091.9 1850.9h7.5v7.5h-7.5zM1087.9 1855.7h7.5v7.5h-7.5zM1103.3 1853.8h7.5v7.5h-7.5zM1104.3 1853.7h7.5v7.5h-7.5zM1104.1 1855.1h7.5v7.5h-7.5zM1107.9 1853.2h7.5v7.5h-7.5zM1115.5 1846.3h7.5v7.5h-7.5zM1112.4 1848.2h7.5v7.5h-7.5zM1122.0 1847.6h7.5v7.5h-7.5zM1115.6 1852.0h7.5v7.5h-7.5zM1119.2 1847.2h7.5v7.5h-7.5zM1115.7 1847.6h7.5v7.5h-7.5zM1122.3 1845.1h7.5v7.5h-7.5zM1126.7 1850.4h7.5v7.5h-7.5zM1129.4 1855.4h7.5v7.5h-7.5zM1124.4 1849.9h7.5v7.5h-7.5zM1129.2 1853.0h7.5v7.5h-7.5zM1133.7 1844.5h7.5v7.5h-7.5zM1133.5 1855.4h7.5v7.5h-7.5zM1132.4 1856.2h7.5v7.5h-7.5zM1141.4 1846.4h7.5v7.5h-7.5zM1140.4 1845.7h7.5v7.5h-7.5zM1137.4 1852.5h7.5v7.5h-7.5zM1141.0 1846.7h7.5v7.5h-7.5zM1148.5 1846.1h7.5v7.5h-7.5zM1148.8 1853.3h7.5v7.5h-7.5zM1146.8 1844.8h7.5v7.5h-7.5zM1157.4 1848.9h7.5v7.5h-7.5zM1160.8 1851.2h7.5v7.5h-7.5zM902.1 1859.5h7.5v7.5h-7.5zM909.7 1866.3h7.5v7.5h-7.5zM920.4 1857.4h7.5v7.5h-7.5zM932.1 1861.3h7.5v7.5h-7.5zM973.6 1857.7h7.5v7.5h-7.5zM968.7 1866.8h7.5v7.5h-7.5zM989.8 1867.1h7.5v7.5h-7.5zM990.8 1862.4h7.5v7.5h-7.5zM991.6 1861.2h7.5v7.5h-7.5zM996.7 1858.3h7.5v7.5h-7.5zM1007.7 1864.2h7.5v7.5h-7.5zM1013.2 1862.8h7.5v7.5h-7.5zM1014.1 1865.8h7.5v7.5h-7.5zM1005.1 1867.5h7.5v7.5h-7.5zM1012.5 1865.3h7.5v7.5h-7.5zM1025.2 1862.3h7.5v7.5h-7.5zM1024.1 1861.2h7.5v7.5h-7.5zM1017.9 1863.4h7.5v7.5h-7.5zM1020.7 1865.5h7.5v7.5h-7.5zM1035.1 1866.0h7.5v7.5h-7.5zM1029.6 1862.9h7.5v7.5h-7.5zM1033.0 1863.3h7.5v7.5h-7.5zM1041.0 1860.2h7.5v7.5h-7.5zM1048.7 1858.5h7.5v7.5h-7.5zM1047.8 1868.1h7.5v7.5h-7.5zM1038.4 1868.1h7.5v7.5h-7.5zM1050.2 1862.2h7.5v7.5h-7.5zM1043.6 1865.0h7.5v7.5h-7.5zM1049.1 1859.5h7.5v7.5h-7.5zM1051.4 1859.8h7.5v7.5h-7.5zM1055.9 1856.8h7.5v7.5h-7.5zM1060.9 1858.8h7.5v7.5h-7.5zM1058.3 1861.9h7.5v7.5h-7.5zM1050.4 1862.2h7.5v7.5h-7.5zM1053.1 1862.1h7.5v7.5h-7.5zM1050.8 1859.1h7.5v7.5h-7.5zM1057.6 1863.5h7.5v7.5h-7.5zM1055.2 1866.2h7.5v7.5h-7.5zM1071.7 1862.2h7.5v7.5h-7.5zM1063.9 1867.3h7.5v7.5h-7.5zM1072.1 1860.0h7.5v7.5h-7.5zM1066.2 1864.5h7.5v7.5h-7.5zM1068.2 1862.4h7.5v7.5h-7.5zM1082.1 1865.2h7.5v7.5h-7.5zM1075.0 1858.3h7.5v7.5h-7.5zM1078.9 1862.8h7.5v7.5h-7.5zM1088.1 1861.6h7.5v7.5h-7.5zM1087.4 1858.2h7.5v7.5h-7.5zM1093.2 1859.9h7.5v7.5h-7.5zM1094.1 1862.3h7.5v7.5h-7.5zM1098.1 1859.9h7.5v7.5h-7.5zM1093.0 1859.3h7.5v7.5h-7.5zM1088.0 1865.0h7.5v7.5h-7.5zM1093.5 1861.4h7.5v7.5h-7.5zM1108.0 1857.0h7.5v7.5h-7.5zM1102.7 1862.3h7.5v7.5h-7.5zM1107.9 1867.1h7.5v7.5h-7.5zM1099.3 1861.5h7.5v7.5h-7.5zM1107.0 1862.3h7.5v7.5h-7.5zM1108.5 1856.7h7.5v7.5h-7.5zM1104.2 1865.5h7.5v7.5h-7.5zM1110.1 1857.2h7.5v7.5h-7.5zM1121.4 1860.7h7.5v7.5h-7.5zM1118.5 1863.4h7.5v7.5h-7.5zM1111.2 1857.9h7.5v7.5h-7.5zM1132.9 1857.8h7.5v7.5h-7.5zM1122.7 1863.4h7.5v7.5h-7.5zM1128.0 1866.0h7.5v7.5h-7.5zM1131.1 1866.2h7.5v7.5h-7.5zM1128.0 1867.0h7.5v7.5h-7.5zM1139.1 1861.3h7.5v7.5h-7.5zM1145.2 1861.5h7.5v7.5h-7.5zM1139.2 1866.9h7.5v7.5h-7.5zM1143.2 1868.2h7.5v7.5h-7.5zM1141.5 1863.2h7.5v7.5h-7.5zM1140.4 1865.9h7.5v7.5h-7.5zM1138.9 1858.3h7.5v7.5h-7.5zM1147.1 1858.3h7.5v7.5h-7.5zM1147.7 1862.7h7.5v7.5h-7.5zM1150.5 1862.9h7.5v7.5h-7.5zM1147.9 1862.0h7.5v7.5h-7.5zM1155.3 1856.6h7.5v7.5h-7.5zM1150.0 1862.5h7.5v7.5h-7.5zM1147.2 1863.5h7.5v7.5h-7.5zM1161.9 1857.5h7.5v7.5h-7.5zM1160.3 1864.3h7.5v7.5h-7.5zM1158.7 1867.1h7.5v7.5h-7.5zM833.2 1878.0h7.5v7.5h-7.5zM838.8 1877.9h7.5v7.5h-7.5zM848.3 1875.3h7.5v7.5h-7.5zM860.4 1870.7h7.5v7.5h-7.5zM876.1 1868.8h7.5v7.5h-7.5zM890.2 1868.3h7.5v7.5h-7.5zM910.5 1877.5h7.5v7.5h-7.5zM928.6 1875.2h7.5v7.5h-7.5zM923.0 1874.3h7.5v7.5h-7.5zM931.7 1876.5h7.5v7.5h-7.5zM937.8 1877.6h7.5v7.5h-7.5zM952.9 1873.4h7.5v7.5h-7.5zM954.0 1874.1h7.5v7.5h-7.5zM964.3 1874.3h7.5v7.5h-7.5zM961.7 1876.9h7.5v7.5h-7.5zM969.3 1870.5h7.5v7.5h-7.5zM982.1 1869.7h7.5v7.5h-7.5zM989.2 1876.4h7.5v7.5h-7.5zM996.5 1871.8h7.5v7.5h-7.5zM1002.1 1870.5h7.5v7.5h-7.5zM990.5 1879.8h7.5v7.5h-7.5zM1000.1 1873.8h7.5v7.5h-7.5zM992.5 1875.1h7.5v7.5h-7.5zM991.8 1875.5h7.5v7.5h-7.5zM998.6 1870.5h7.5v7.5h-7.5zM1010.6 1877.7h7.5v7.5h-7.5zM1004.4 1878.0h7.5v7.5h-7.5zM1003.7 1876.7h7.5v7.5h-7.5zM1014.0 1876.8h7.5v7.5h-7.5zM1019.3 1872.4h7.5v7.5h-7.5zM1022.5 1868.9h7.5v7.5h-7.5zM1019.5 1872.5h7.5v7.5h-7.5zM1021.4 1872.8h7.5v7.5h-7.5zM1023.2 1868.4h7.5v7.5h-7.5zM1030.6 1868.6h7.5v7.5h-7.5zM1028.3 1880.0h7.5v7.5h-7.5zM1031.7 1880.2h7.5v7.5h-7.5zM1036.4 1869.4h7.5v7.5h-7.5zM1040.5 1879.0h7.5v7.5h-7.5zM1044.1 1877.4h7.5v7.5h-7.5zM1043.1 1877.4h7.5v7.5h-7.5zM1046.8 1868.9h7.5v7.5h-7.5zM1041.4 1872.5h7.5v7.5h-7.5zM1049.8 1872.4h7.5v7.5h-7.5zM1049.1 1874.5h7.5v7.5h-7.5zM1039.1 1870.6h7.5v7.5h-7.5zM1042.5 1872.0h7.5v7.5h-7.5zM1046.3 1871.1h7.5v7.5h-7.5zM1048.3 1870.1h7.5v7.5h-7.5zM1048.4 1877.8h7.5v7.5h-7.5zM1043.8 1876.1h7.5v7.5h-7.5zM1054.2 1875.8h7.5v7.5h-7.5zM1053.6 1877.5h7.5v7.5h-7.5zM1051.4 1875.9h7.5v7.5h-7.5zM1059.8 1880.0h7.5v7.5h-7.5zM1060.3 1879.1h7.5v7.5h-7.5zM1061.7 1873.7h7.5v7.5h-7.5zM1052.3 1877.6h7.5v7.5h-7.5zM1066.8 1879.6h7.5v7.5h-7.5zM1072.9 1871.7h7.5v7.5h-7.5zM1062.9 1876.3h7.5v7.5h-7.5zM1071.9 1877.6h7.5v7.5h-7.5zM1064.4 1872.3h7.5v7.5h-7.5zM1066.4 1878.9h7.5v7.5h-7.5zM1070.0 1878.4h7.5v7.5h-7.5zM1070.4 1871.1h7.5v7.5h-7.5zM1067.1 1875.6h7.5v7.5h-7.5zM1065.2 1869.6h7.5v7.5h-7.5zM1072.5 1872.3h7.5v7.5h-7.5zM1081.9 1875.3h7.5v7.5h-7.5zM1083.7 1868.5h7.5v7.5h-7.5zM1083.6 1877.2h7.5v7.5h-7.5zM1081.2 1873.6h7.5v7.5h-7.5zM1075.7 1872.5h7.5v7.5h-7.5zM1076.4 1876.6h7.5v7.5h-7.5zM1081.2 1871.7h7.5v7.5h-7.5zM1080.4 1872.9h7.5v7.5h-7.5zM1097.4 1871.1h7.5v7.5h-7.5zM1093.2 1869.8h7.5v7.5h-7.5zM1097.1 1871.4h7.5v7.5h-7.5zM1093.8 1870.6h7.5v7.5h-7.5zM1086.4 1878.0h7.5v7.5h-7.5zM1087.1 1876.4h7.5v7.5h-7.5zM1093.5 1877.8h7.5v7.5h-7.5zM1091.1 1871.8h7.5v7.5h-7.5zM1090.1 1878.9h7.5v7.5h-7.5zM1097.9 1877.8h7.5v7.5h-7.5zM1089.2 1875.0h7.5v7.5h-7.5zM1102.4 1874.5h7.5v7.5h-7.5zM1105.7 1870.7h7.5v7.5h-7.5zM1107.9 1873.8h7.5v7.5h-7.5zM1107.1 1871.1h7.5v7.5h-7.5zM1119.6 1872.3h7.5v7.5h-7.5zM1121.9 1869.0h7.5v7.5h-7.5zM1112.2 1872.6h7.5v7.5h-7.5zM1123.4 1869.8h7.5v7.5h-7.5zM1122.5 1878.2h7.5v7.5h-7.5zM1129.1 1873.5h7.5v7.5h-7.5zM1124.5 1877.5h7.5v7.5h-7.5zM1123.8 1868.9h7.5v7.5h-7.5zM1124.4 1869.4h7.5v7.5h-7.5zM1127.2 1880.1h7.5v7.5h-7.5zM1126.0 1880.1h7.5v7.5h-7.5zM1130.4 1870.2h7.5v7.5h-7.5zM1138.6 1869.8h7.5v7.5h-7.5zM1137.8 1877.3h7.5v7.5h-7.5zM1135.6 1869.8h7.5v7.5h-7.5zM1134.6 1870.0h7.5v7.5h-7.5zM1152.1 1872.8h7.5v7.5h-7.5zM1148.3 1872.1h7.5v7.5h-7.5zM1152.7 1879.4h7.5v7.5h-7.5zM1158.0 1880.2h7.5v7.5h-7.5zM1146.4 1870.2h7.5v7.5h-7.5zM1148.1 1878.8h7.5v7.5h-7.5zM1157.6 1875.4h7.5v7.5h-7.5zM1159.2 1872.4h7.5v7.5h-7.5zM1159.6 1871.6h7.5v7.5h-7.5zM1161.9 1870.2h7.5v7.5h-7.5zM1161.8 1875.6h7.5v7.5h-7.5zM814.7 1890.8h7.5v7.5h-7.5zM826.4 1892.0h7.5v7.5h-7.5zM857.5 1887.1h7.5v7.5h-7.5zM870.4 1881.7h7.5v7.5h-7.5zM872.6 1885.3h7.5v7.5h-7.5zM881.2 1884.3h7.5v7.5h-7.5zM882.9 1889.2h7.5v7.5h-7.5zM896.7 1886.9h7.5v7.5h-7.5zM908.1 1890.7h7.5v7.5h-7.5zM923.4 1886.7h7.5v7.5h-7.5zM937.2 1884.6h7.5v7.5h-7.5zM939.5 1887.6h7.5v7.5h-7.5zM946.3 1891.7h7.5v7.5h-7.5zM965.1 1891.7h7.5v7.5h-7.5zM958.1 1889.3h7.5v7.5h-7.5zM956.2 1881.4h7.5v7.5h-7.5zM972.5 1891.2h7.5v7.5h-7.5zM975.1 1883.2h7.5v7.5h-7.5zM977.6 1888.5h7.5v7.5h-7.5zM977.3 1885.7h7.5v7.5h-7.5zM981.5 1890.3h7.5v7.5h-7.5zM985.4 1891.9h7.5v7.5h-7.5zM984.5 1886.9h7.5v7.5h-7.5zM989.0 1886.9h7.5v7.5h-7.5zM978.3 1888.2h7.5v7.5h-7.5zM983.9 1888.5h7.5v7.5h-7.5zM998.7 1885.3h7.5v7.5h-7.5zM994.8 1890.6h7.5v7.5h-7.5zM992.5 1885.7h7.5v7.5h-7.5zM999.3 1886.6h7.5v7.5h-7.5zM993.4 1890.6h7.5v7.5h-7.5zM997.3 1889.2h7.5v7.5h-7.5zM1001.3 1890.5h7.5v7.5h-7.5zM1012.7 1886.7h7.5v7.5h-7.5zM1006.6 1880.8h7.5v7.5h-7.5zM1005.3 1889.0h7.5v7.5h-7.5zM1004.9 1891.1h7.5v7.5h-7.5zM1005.2 1885.3h7.5v7.5h-7.5zM1007.1 1890.2h7.5v7.5h-7.5zM1016.4 1883.6h7.5v7.5h-7.5zM1016.2 1888.3h7.5v7.5h-7.5zM1025.6 1885.7h7.5v7.5h-7.5zM1026.1 1885.3h7.5v7.5h-7.5zM1017.1 1891.6h7.5v7.5h-7.5zM1024.0 1883.3h7.5v7.5h-7.5zM1021.0 1886.6h7.5v7.5h-7.5zM1020.8 1884.4h7.5v7.5h-7.5zM1030.3 1890.1h7.5v7.5h-7.5zM1028.3 1882.9h7.5v7.5h-7.5zM1028.1 1880.4h7.5v7.5h-7.5zM1028.3 1882.0h7.5v7.5h-7.5zM1030.9 1891.6h7.5v7.5h-7.5zM1036.7 1890.9h7.5v7.5h-7.5zM1046.3 1882.8h7.5v7.5h-7.5zM1048.1 1891.7h7.5v7.5h-7.5zM1045.1 1888.7h7.5v7.5h-7.5zM1049.3 1880.7h7.5v7.5h-7.5zM1047.9 1880.5h7.5v7.5h-7.5zM1042.8 1889.7h7.5v7.5h-7.5zM1044.1 1890.7h7.5v7.5h-7.5zM1053.4 1885.3h7.5v7.5h-7.5zM1056.6 1887.8h7.5v7.5h-7.5zM1050.3 1880.3h7.5v7.5h-7.5zM1060.3 1884.7h7.5v7.5h-7.5zM1060.2 1890.8h7.5v7.5h-7.5zM1051.9 1884.5h7.5v7.5h-7.5zM1052.3 1880.4h7.5v7.5h-7.5zM1069.9 1887.0h7.5v7.5h-7.5zM1064.1 1885.1h7.5v7.5h-7.5zM1067.3 1889.3h7.5v7.5h-7.5zM1069.0 1890.8h7.5v7.5h-7.5zM1070.3 1884.3h7.5v7.5h-7.5zM1070.5 1882.0h7.5v7.5h-7.5zM1064.1 1886.8h7.5v7.5h-7.5zM1066.6 1881.8h7.5v7.5h-7.5zM1062.4 1886.3h7.5v7.5h-7.5zM1070.4 1889.6h7.5v7.5h-7.5zM1074.0 1885.3h7.5v7.5h-7.5zM1071.9 1884.9h7.5v7.5h-7.5zM1078.0 1892.0h7.5v7.5h-7.5zM1075.8 1890.7h7.5v7.5h-7.5zM1077.4 1883.6h7.5v7.5h-7.5zM1082.0 1888.5h7.5v7.5h-7.5zM1082.1 1886.4h7.5v7.5h-7.5zM1078.1 1882.4h7.5v7.5h-7.5zM1078.8 1892.2h7.5v7.5h-7.5zM1087.0 1881.6h7.5v7.5h-7.5zM1095.0 1884.2h7.5v7.5h-7.5zM1092.4 1889.3h7.5v7.5h-7.5zM1090.3 1884.3h7.5v7.5h-7.5zM1091.1 1890.1h7.5v7.5h-7.5zM1089.2 1892.1h7.5v7.5h-7.5zM1098.5 1884.1h7.5v7.5h-7.5zM1104.3 1884.7h7.5v7.5h-7.5zM1102.3 1885.2h7.5v7.5h-7.5zM1103.8 1891.1h7.5v7.5h-7.5zM1102.4 1887.5h7.5v7.5h-7.5zM1108.5 1885.2h7.5v7.5h-7.5zM1107.2 1883.9h7.5v7.5h-7.5zM1114.4 1889.1h7.5v7.5h-7.5zM1119.8 1891.3h7.5v7.5h-7.5zM1110.9 1888.5h7.5v7.5h-7.5zM1118.3 1890.6h7.5v7.5h-7.5zM1119.6 1881.9h7.5v7.5h-7.5zM1120.4 1888.2h7.5v7.5h-7.5zM1126.4 1888.5h7.5v7.5h-7.5zM1127.8 1882.5h7.5v7.5h-7.5zM1132.3 1886.0h7.5v7.5h-7.5zM1123.8 1883.6h7.5v7.5h-7.5zM1130.9 1885.2h7.5v7.5h-7.5zM1127.8 1884.7h7.5v7.5h-7.5zM1130.4 1882.0h7.5v7.5h-7.5zM1140.4 1882.3h7.5v7.5h-7.5zM1140.4 1884.3h7.5v7.5h-7.5zM1138.0 1886.1h7.5v7.5h-7.5zM1141.3 1890.3h7.5v7.5h-7.5zM1139.7 1881.5h7.5v7.5h-7.5zM1141.8 1881.5h7.5v7.5h-7.5zM1151.1 1890.6h7.5v7.5h-7.5zM1154.7 1889.1h7.5v7.5h-7.5zM1148.3 1881.9h7.5v7.5h-7.5zM1156.8 1890.3h7.5v7.5h-7.5zM1152.5 1890.5h7.5v7.5h-7.5zM1148.7 1880.9h7.5v7.5h-7.5zM1154.5 1891.2h7.5v7.5h-7.5zM1154.1 1883.7h7.5v7.5h-7.5zM1153.2 1889.1h7.5v7.5h-7.5zM1148.8 1888.6h7.5v7.5h-7.5zM1162.0 1880.7h7.5v7.5h-7.5zM1160.3 1885.4h7.5v7.5h-7.5zM857.9 1895.0h7.5v7.5h-7.5zM866.6 1896.8h7.5v7.5h-7.5zM877.4 1898.9h7.5v7.5h-7.5zM874.5 1899.5h7.5v7.5h-7.5zM886.9 1895.7h7.5v7.5h-7.5zM891.6 1896.3h7.5v7.5h-7.5zM894.7 1897.7h7.5v7.5h-7.5zM900.8 1898.5h7.5v7.5h-7.5zM909.0 1898.0h7.5v7.5h-7.5zM914.9 1895.2h7.5v7.5h-7.5zM908.5 1899.7h7.5v7.5h-7.5zM922.2 1898.8h7.5v7.5h-7.5zM923.7 1896.9h7.5v7.5h-7.5zM927.2 1899.5h7.5v7.5h-7.5zM920.1 1896.6h7.5v7.5h-7.5zM941.7 1897.7h7.5v7.5h-7.5zM949.0 1894.7h7.5v7.5h-7.5zM952.4 1898.1h7.5v7.5h-7.5zM952.5 1900.0h7.5v7.5h-7.5zM953.3 1894.9h7.5v7.5h-7.5zM949.3 1895.6h7.5v7.5h-7.5zM953.1 1895.0h7.5v7.5h-7.5zM953.7 1897.7h7.5v7.5h-7.5zM943.3 1892.6h7.5v7.5h-7.5zM949.1 1893.4h7.5v7.5h-7.5zM948.6 1898.3h7.5v7.5h-7.5zM947.1 1899.6h7.5v7.5h-7.5zM942.7 1896.8h7.5v7.5h-7.5zM955.1 1894.5h7.5v7.5h-7.5zM956.4 1895.6h7.5v7.5h-7.5zM961.5 1892.7h7.5v7.5h-7.5zM957.9 1896.7h7.5v7.5h-7.5zM962.1 1899.7h7.5v7.5h-7.5zM975.4 1892.6h7.5v7.5h-7.5zM973.8 1897.2h7.5v7.5h-7.5zM972.7 1898.6h7.5v7.5h-7.5zM969.0 1892.8h7.5v7.5h-7.5zM973.2 1893.2h7.5v7.5h-7.5zM981.8 1897.1h7.5v7.5h-7.5zM980.1 1898.5h7.5v7.5h-7.5zM985.8 1893.4h7.5v7.5h-7.5zM981.7 1895.0h7.5v7.5h-7.5zM995.6 1897.1h7.5v7.5h-7.5zM999.8 1893.2h7.5v7.5h-7.5zM995.1 1899.3h7.5v7.5h-7.5zM992.4 1896.6h7.5v7.5h-7.5zM994.5 1895.4h7.5v7.5h-7.5zM1000.5 1895.5h7.5v7.5h-7.5zM1004.8 1899.4h7.5v7.5h-7.5zM1004.4 1895.1h7.5v7.5h-7.5zM1004.4 1899.6h7.5v7.5h-7.5zM1011.0 1898.7h7.5v7.5h-7.5zM1014.1 1893.2h7.5v7.5h-7.5zM1002.9 1896.5h7.5v7.5h-7.5zM1011.0 1894.9h7.5v7.5h-7.5zM1018.2 1895.9h7.5v7.5h-7.5zM1021.1 1896.9h7.5v7.5h-7.5zM1023.2 1899.3h7.5v7.5h-7.5zM1033.7 1895.6h7.5v7.5h-7.5zM1037.3 1892.9h7.5v7.5h-7.5zM1034.7 1898.2h7.5v7.5h-7.5zM1027.3 1893.3h7.5v7.5h-7.5zM1047.7 1900.0h7.5v7.5h-7.5zM1038.9 1897.1h7.5v7.5h-7.5zM1061.9 1894.0h7.5v7.5h-7.5zM1059.3 1899.1h7.5v7.5h-7.5zM1050.4 1898.8h7.5v7.5h-7.5zM1058.3 1892.7h7.5v7.5h-7.5zM1055.3 1895.3h7.5v7.5h-7.5zM1052.6 1895.5h7.5v7.5h-7.5zM1072.0 1894.4h7.5v7.5h-7.5zM1065.5 1896.7h7.5v7.5h-7.5zM1063.2 1893.6h7.5v7.5h-7.5zM1065.3 1895.9h7.5v7.5h-7.5zM1067.0 1900.2h7.5v7.5h-7.5zM1085.0 1895.3h7.5v7.5h-7.5zM1079.3 1894.1h7.5v7.5h-7.5zM1083.8 1892.3h7.5v7.5h-7.5zM1079.3 1894.8h7.5v7.5h-7.5zM1083.7 1893.6h7.5v7.5h-7.5zM1082.6 1893.6h7.5v7.5h-7.5zM1078.3 1893.5h7.5v7.5h-7.5zM1081.0 1894.8h7.5v7.5h-7.5zM1077.7 1898.0h7.5v7.5h-7.5zM1083.8 1898.4h7.5v7.5h-7.5zM1078.7 1896.4h7.5v7.5h-7.5zM1083.8 1898.1h7.5v7.5h-7.5zM1080.7 1893.0h7.5v7.5h-7.5zM1094.0 1896.9h7.5v7.5h-7.5zM1093.8 1894.1h7.5v7.5h-7.5zM1089.2 1899.9h7.5v7.5h-7.5zM1093.5 1897.4h7.5v7.5h-7.5zM1092.3 1895.3h7.5v7.5h-7.5zM1086.9 1894.8h7.5v7.5h-7.5zM1087.0 1892.4h7.5v7.5h-7.5zM1108.1 1897.2h7.5v7.5h-7.5zM1104.0 1893.5h7.5v7.5h-7.5zM1105.2 1893.6h7.5v7.5h-7.5zM1109.3 1898.6h7.5v7.5h-7.5zM1102.6 1892.8h7.5v7.5h-7.5zM1107.7 1892.9h7.5v7.5h-7.5zM1121.5 1893.8h7.5v7.5h-7.5zM1121.3 1895.4h7.5v7.5h-7.5zM1121.8 1898.9h7.5v7.5h-7.5zM1123.0 1892.5h7.5v7.5h-7.5zM1130.5 1896.4h7.5v7.5h-7.5zM1129.1 1893.6h7.5v7.5h-7.5zM1124.3 1897.6h7.5v7.5h-7.5zM1126.6 1898.8h7.5v7.5h-7.5zM1130.9 1896.4h7.5v7.5h-7.5zM1138.6 1899.5h7.5v7.5h-7.5zM1140.4 1894.8h7.5v7.5h-7.5zM1137.6 1900.1h7.5v7.5h-7.5zM1150.7 1900.0h7.5v7.5h-7.5zM1154.7 1892.3h7.5v7.5h-7.5zM1148.5 1899.1h7.5v7.5h-7.5zM1156.0 1893.2h7.5v7.5h-7.5zM1157.1 1898.3h7.5v7.5h-7.5zM618.5 1847.2h7.5v7.5h-7.5zM743.1 1846.0h7.5v7.5h-7.5zM690.8 1850.8h7.5v7.5h-7.5zM736.8 1858.8h7.5v7.5h-7.5zM583.5 1868.5h7.5v7.5h-7.5zM598.7 1870.4h7.5v7.5h-7.5zM606.8 1867.5h7.5v7.5h-7.5zM621.2 1867.9h7.5v7.5h-7.5zM651.9 1870.1h7.5v7.5h-7.5zM676.9 1865.7h7.5v7.5h-7.5zM686.7 1860.4h7.5v7.5h-7.5zM710.5 1868.5h7.5v7.5h-7.5zM727.8 1866.3h7.5v7.5h-7.5zM572.4 1877.2h7.5v7.5h-7.5zM588.6 1877.9h7.5v7.5h-7.5zM586.9 1882.1h7.5v7.5h-7.5zM603.5 1883.6h7.5v7.5h-7.5zM599.2 1877.0h7.5v7.5h-7.5zM618.1 1884.2h7.5v7.5h-7.5zM612.7 1879.7h7.5v7.5h-7.5zM623.1 1874.2h7.5v7.5h-7.5zM624.4 1877.0h7.5v7.5h-7.5zM638.2 1883.4h7.5v7.5h-7.5zM633.4 1879.7h7.5v7.5h-7.5zM657.3 1881.9h7.5v7.5h-7.5zM655.4 1877.0h7.5v7.5h-7.5zM673.5 1872.3h7.5v7.5h-7.5zM680.1 1880.8h7.5v7.5h-7.5zM688.6 1881.8h7.5v7.5h-7.5zM685.7 1879.0h7.5v7.5h-7.5zM697.4 1880.2h7.5v7.5h-7.5zM700.3 1878.9h7.5v7.5h-7.5zM691.9 1883.9h7.5v7.5h-7.5zM698.9 1878.2h7.5v7.5h-7.5zM707.6 1878.6h7.5v7.5h-7.5zM712.4 1875.3h7.5v7.5h-7.5zM718.9 1880.5h7.5v7.5h-7.5zM725.2 1878.3h7.5v7.5h-7.5zM720.1 1882.9h7.5v7.5h-7.5zM727.9 1881.1h7.5v7.5h-7.5zM745.4 1874.8h7.5v7.5h-7.5zM759.3 1878.0h7.5v7.5h-7.5zM570.0 1893.7h7.5v7.5h-7.5zM573.1 1891.5h7.5v7.5h-7.5zM570.5 1892.7h7.5v7.5h-7.5zM582.1 1887.4h7.5v7.5h-7.5zM574.6 1892.1h7.5v7.5h-7.5zM572.0 1893.3h7.5v7.5h-7.5zM593.8 1892.9h7.5v7.5h-7.5zM592.1 1889.9h7.5v7.5h-7.5zM587.7 1893.4h7.5v7.5h-7.5zM591.1 1889.5h7.5v7.5h-7.5zM588.4 1895.3h7.5v7.5h-7.5zM593.2 1890.9h7.5v7.5h-7.5zM591.8 1893.4h7.5v7.5h-7.5zM587.1 1886.0h7.5v7.5h-7.5zM594.1 1893.2h7.5v7.5h-7.5zM582.9 1891.4h7.5v7.5h-7.5zM600.1 1888.7h7.5v7.5h-7.5zM602.3 1890.1h7.5v7.5h-7.5zM597.6 1895.3h7.5v7.5h-7.5zM597.0 1892.5h7.5v7.5h-7.5zM604.4 1885.5h7.5v7.5h-7.5zM609.2 1891.5h7.5v7.5h-7.5zM607.0 1895.1h7.5v7.5h-7.5zM609.7 1886.6h7.5v7.5h-7.5zM616.6 1887.1h7.5v7.5h-7.5zM616.7 1890.8h7.5v7.5h-7.5zM620.4 1892.4h7.5v7.5h-7.5zM626.5 1888.2h7.5v7.5h-7.5zM625.6 1890.6h7.5v7.5h-7.5zM627.0 1888.7h7.5v7.5h-7.5zM629.6 1894.7h7.5v7.5h-7.5zM639.0 1895.7h7.5v7.5h-7.5zM635.9 1894.4h7.5v7.5h-7.5zM635.1 1890.8h7.5v7.5h-7.5zM635.4 1894.7h7.5v7.5h-7.5zM634.2 1891.5h7.5v7.5h-7.5zM640.8 1894.2h7.5v7.5h-7.5zM631.5 1888.7h7.5v7.5h-7.5zM641.5 1891.9h7.5v7.5h-7.5zM633.3 1895.0h7.5v7.5h-7.5zM649.9 1888.4h7.5v7.5h-7.5zM647.9 1895.4h7.5v7.5h-7.5zM643.1 1894.2h7.5v7.5h-7.5zM646.8 1896.2h7.5v7.5h-7.5zM654.5 1892.2h7.5v7.5h-7.5zM669.5 1888.7h7.5v7.5h-7.5zM667.2 1895.4h7.5v7.5h-7.5zM669.3 1888.6h7.5v7.5h-7.5zM685.9 1892.1h7.5v7.5h-7.5zM688.9 1889.1h7.5v7.5h-7.5zM680.8 1886.1h7.5v7.5h-7.5zM686.5 1896.2h7.5v7.5h-7.5zM684.7 1888.5h7.5v7.5h-7.5zM682.9 1891.4h7.5v7.5h-7.5zM685.2 1891.5h7.5v7.5h-7.5zM692.0 1894.2h7.5v7.5h-7.5zM695.3 1893.1h7.5v7.5h-7.5zM700.0 1886.8h7.5v7.5h-7.5zM694.5 1895.8h7.5v7.5h-7.5zM701.2 1888.6h7.5v7.5h-7.5zM700.8 1887.9h7.5v7.5h-7.5zM699.0 1894.1h7.5v7.5h-7.5zM705.5 1890.5h7.5v7.5h-7.5zM704.0 1889.4h7.5v7.5h-7.5zM707.5 1895.2h7.5v7.5h-7.5zM717.2 1895.0h7.5v7.5h-7.5zM717.2 1892.1h7.5v7.5h-7.5zM718.7 1892.6h7.5v7.5h-7.5zM718.6 1889.7h7.5v7.5h-7.5zM722.1 1890.0h7.5v7.5h-7.5zM727.3 1884.4h7.5v7.5h-7.5zM735.3 1888.5h7.5v7.5h-7.5zM741.5 1888.1h7.5v7.5h-7.5zM738.9 1886.2h7.5v7.5h-7.5zM762.0 1884.5h7.5v7.5h-7.5zM762.5 1889.0h7.5v7.5h-7.5zM762.5 1889.5h7.5v7.5h-7.5zM776.3 1887.7h7.5v7.5h-7.5zM565.1 1899.4h7.5v7.5h-7.5zM570.6 1898.0h7.5v7.5h-7.5zM575.9 1897.5h7.5v7.5h-7.5zM590.1 1897.9h7.5v7.5h-7.5zM592.6 1897.5h7.5v7.5h-7.5zM604.5 1899.1h7.5v7.5h-7.5zM608.3 1898.1h7.5v7.5h-7.5zM612.2 1899.1h7.5v7.5h-7.5zM611.1 1900.2h7.5v7.5h-7.5zM618.7 1899.0h7.5v7.5h-7.5zM622.8 1900.2h7.5v7.5h-7.5zM628.0 1899.7h7.5v7.5h-7.5zM630.4 1898.7h7.5v7.5h-7.5zM631.8 1898.2h7.5v7.5h-7.5zM641.1 1899.6h7.5v7.5h-7.5zM632.1 1897.0h7.5v7.5h-7.5zM644.3 1897.1h7.5v7.5h-7.5zM659.6 1897.1h7.5v7.5h-7.5zM656.9 1899.5h7.5v7.5h-7.5zM660.3 1898.1h7.5v7.5h-7.5zM671.5 1897.2h7.5v7.5h-7.5zM677.1 1898.5h7.5v7.5h-7.5zM671.6 1900.2h7.5v7.5h-7.5zM681.9 1898.1h7.5v7.5h-7.5zM679.8 1899.0h7.5v7.5h-7.5zM699.5 1897.0h7.5v7.5h-7.5zM699.4 1896.8h7.5v7.5h-7.5zM708.2 1899.3h7.5v7.5h-7.5zM708.3 1898.5h7.5v7.5h-7.5zM720.3 1899.6h7.5v7.5h-7.5zM718.5 1897.3h7.5v7.5h-7.5zM720.7 1896.9h7.5v7.5h-7.5zM726.5 1898.1h7.5v7.5h-7.5zM762.0 1896.3h7.5v7.5h-7.5zM764.9 1896.7h7.5v7.5h-7.5zM833.2 1897.1h7.5v7.5h-7.5zM867.7 1873.2h7.5v7.5h-7.5zM902.1 1881.9h7.5v7.5h-7.5zM896.6 1881.4h7.5v7.5h-7.5zM886.0 1874.0h7.5v7.5h-7.5zM900.9 1879.4h7.5v7.5h-7.5zM872.8 1872.5h7.5v7.5h-7.5zM857.2 1869.3h7.5v7.5h-7.5zM916.3 1886.2h7.5v7.5h-7.5zM914.3 1884.8h7.5v7.5h-7.5zM938.6 1892.5h7.5v7.5h-7.5zM847.3 1864.9h7.5v7.5h-7.5zM896.0 1881.3h7.5v7.5h-7.5zM913.5 1886.4h7.5v7.5h-7.5zM926.7 1885.3h7.5v7.5h-7.5zM842.0 1863.8h7.5v7.5h-7.5zM916.2 1889.5h7.5v7.5h-7.5zM914.4 1886.0h7.5v7.5h-7.5zM903.5 1885.2h7.5v7.5h-7.5zM871.2 1870.2h7.5v7.5h-7.5zM873.6 1874.4h7.5v7.5h-7.5zM884.6 1875.1h7.5v7.5h-7.5zM928.2 1887.6h7.5v7.5h-7.5zM882.4 1874.9h7.5v7.5h-7.5zM844.8 1865.1h7.5v7.5h-7.5zM855.7 1868.3h7.5v7.5h-7.5zM889.8 1876.5h7.5v7.5h-7.5zM927.9 1889.0h7.5v7.5h-7.5zM899.8 1880.9h7.5v7.5h-7.5zM873.3 1875.4h7.5v7.5h-7.5zM883.4 1880.3h7.5v7.5h-7.5zM855.9 1868.5h7.5v7.5h-7.5zM867.1 1873.0h7.5v7.5h-7.5zM842.6 1864.6h7.5v7.5h-7.5zM864.0 1870.8h7.5v7.5h-7.5zM882.4 1877.1h7.5v7.5h-7.5zM870.9 1874.1h7.5v7.5h-7.5zM848.3 1866.8h7.5v7.5h-7.5zM934.9 1892.9h7.5v7.5h-7.5zM903.8 1884.0h7.5v7.5h-7.5zM889.8 1879.3h7.5v7.5h-7.5zM883.2 1875.8h7.5v7.5h-7.5zM845.1 1863.7h7.5v7.5h-7.5zM920.7 1886.1h7.5v7.5h-7.5zM918.9 1886.6h7.5v7.5h-7.5zM884.0 1876.4h7.5v7.5h-7.5zM918.9 1886.6h7.5v7.5h-7.5zM916.0 1886.8h7.5v7.5h-7.5zM884.6 1879.7h7.5v7.5h-7.5zM864.6 1872.2h7.5v7.5h-7.5zM937.5 1893.8h7.5v7.5h-7.5zM856.7 1871.2h7.5v7.5h-7.5zM850.9 1867.8h7.5v7.5h-7.5zM928.4 1892.1h7.5v7.5h-7.5zM883.5 1877.6h7.5v7.5h-7.5zM845.8 1866.4h7.5v7.5h-7.5zM886.1 1878.9h7.5v7.5h-7.5zM903.6 1881.9h7.5v7.5h-7.5zM918.4 1887.2h7.5v7.5h-7.5zM854.1 1868.2h7.5v7.5h-7.5zM879.3 1875.9h7.5v7.5h-7.5zM861.8 1869.8h7.5v7.5h-7.5zM875.0 1871.7h7.5v7.5h-7.5zM924.1 1888.4h7.5v7.5h-7.5zM879.2 1874.1h7.5v7.5h-7.5zM919.0 1885.7h7.5v7.5h-7.5zM904.8 1882.1h7.5v7.5h-7.5zM920.5 1886.6h7.5v7.5h-7.5zM885.7 1881.3h7.5v7.5h-7.5zM907.2 1883.5h7.5v7.5h-7.5zM884.0 1878.0h7.5v7.5h-7.5zM927.5 1868.9h7.5v7.5h-7.5zM903.6 1858.9h7.5v7.5h-7.5zM905.0 1859.4h7.5v7.5h-7.5zM931.0 1869.9h7.5v7.5h-7.5zM936.7 1876.0h7.5v7.5h-7.5zM933.4 1871.6h7.5v7.5h-7.5zM933.1 1874.6h7.5v7.5h-7.5zM943.7 1881.5h7.5v7.5h-7.5zM910.7 1860.5h7.5v7.5h-7.5zM917.1 1866.5h7.5v7.5h-7.5zM909.0 1862.2h7.5v7.5h-7.5zM918.5 1866.7h7.5v7.5h-7.5zM915.4 1863.0h7.5v7.5h-7.5zM931.3 1873.5h7.5v7.5h-7.5zM918.3 1868.4h7.5v7.5h-7.5zM899.6 1858.0h7.5v7.5h-7.5zM943.2 1879.9h7.5v7.5h-7.5zM928.6 1873.1h7.5v7.5h-7.5zM906.0 1859.6h7.5v7.5h-7.5zM939.0 1877.6h7.5v7.5h-7.5zM940.6 1878.1h7.5v7.5h-7.5zM908.2 1862.5h7.5v7.5h-7.5zM898.8 1853.9h7.5v7.5h-7.5zM938.0 1878.1h7.5v7.5h-7.5zM945.5 1880.0h7.5v7.5h-7.5zM908.8 1863.6h7.5v7.5h-7.5zM946.3 1880.1h7.5v7.5h-7.5zM898.8 1857.3h7.5v7.5h-7.5zM940.9 1875.7h7.5v7.5h-7.5zM937.5 1875.0h7.5v7.5h-7.5zM874.2 1847.3h7.5v7.5h-7.5zM867.0 1844.9h7.5v7.5h-7.5zM870.1 1846.0h7.5v7.5h-7.5zM873.9 1849.8h7.5v7.5h-7.5zM880.8 1853.0h7.5v7.5h-7.5zM875.5 1854.1h7.5v7.5h-7.5zM873.4 1846.5h7.5v7.5h-7.5zM878.1 1851.2h7.5v7.5h-7.5z"/>
<polygon fill="#f80000" points="1308.0,1904.5 1564.0,1903.5 1542.0,1901.0 1505.0,1893.5 1480.0,1881.0 1455.0,1868.5 1430.0,1851.0 1405.0,1831.0 1390.0,1806.0 1370.0,1781.0 1350.0,1731.0 1335.0,1703.5 1319.0,1663.5 1309.0,1641.5 1308.0,1641.5"/>
<path fill="#c8202c" d="M1419.8 254.5h7.5v7.5h-7.5zM1329.5 286.5h7.5v7.5h-7.5zM1337.0 309.0h7.5v7.5h-7.5zM1370.0 309.0h7.5v7.5h-7.5zM1368.2 325.8h7.5v7.5h-7.5zM1410.5 323.0h7.5v7.5h-7.5zM1322.2 386.8h7.5v7.5h-7.5zM1400.0 407.8h7.5v7.5h-7.5zM1350.0 495.0h7.5v7.5h-7.5zM1426.8 505.0h7.5v7.5h-7.5zM1349.5 577.5h7.5v7.5h-7.5zM1373.2 599.0h7.5v7.5h-7.5zM1392.8 609.8h7.5v7.5h-7.5zM1346.2 616.5h7.5v7.5h-7.5zM1374.2 620.8h7.5v7.5h-7.5zM1311.8 646.8h7.5v7.5h-7.5zM1348.5 658.5h7.5v7.5h-7.5zM1377.5 677.2h7.5v7.5h-7.5zM1702.8 727.8h7.5v7.5h-7.5zM1335.8 739.8h7.5v7.5h-7.5zM1323.5 746.8h7.5v7.5h-7.5zM1531.5 746.2h7.5v7.5h-7.5zM1352.2 755.2h7.5v7.5h-7.5zM1368.2 766.8h7.5v7.5h-7.5zM1350.0 797.8h7.5v7.5h-7.5zM1345.5 831.8h7.5v7.5h-7.5zM1462.0 835.5h7.5v7.5h-7.5zM1318.2 861.5h7.5v7.5h-7.5zM1350.2 859.8h7.5v7.5h-7.5zM1451.0 862.5h7.5v7.5h-7.5zM1370.0 873.5h7.5v7.5h-7.5zM1381.8 892.2h7.5v7.5h-7.5zM1488.8 899.2h7.5v7.5h-7.5zM1332.0 901.0h7.5v7.5h-7.5zM1347.5 902.2h7.5v7.5h-7.5zM1364.5 907.0h7.5v7.5h-7.5zM1353.0 922.0h7.5v7.5h-7.5zM1368.2 924.2h7.5v7.5h-7.5zM1404.5 924.2h7.5v7.5h-7.5zM1336.5 938.0h7.5v7.5h-7.5zM1359.0 936.8h7.5v7.5h-7.5zM1321.2 942.0h7.5v7.5h-7.5zM1391.8 939.0h7.5v7.5h-7.5zM1441.8 940.0h7.5v7.5h-7.5zM1311.8 966.5h7.5v7.5h-7.5zM1332.8 970.0h7.5v7.5h-7.5zM1338.2 984.2h7.5v7.5h-7.5zM1351.5 990.8h7.5v7.5h-7.5zM1380.8 1006.5h7.5v7.5h-7.5zM1335.0 1017.0h7.5v7.5h-7.5zM1410.5 1020.0h7.5v7.5h-7.5zM1349.5 1025.8h7.5v7.5h-7.5zM1445.2 1024.5h7.5v7.5h-7.5zM1364.5 1053.0h7.5v7.5h-7.5zM1453.0 1052.8h7.5v7.5h-7.5zM1347.5 1062.0h7.5v7.5h-7.5zM1314.5 1068.2h7.5v7.5h-7.5zM1383.0 1081.8h7.5v7.5h-7.5zM1367.8 1087.5h7.5v7.5h-7.5zM1750.8 685.5h7.5v7.5h-7.5zM1783.5 959.2h7.5v7.5h-7.5zM2022.2 1061.5h7.5v7.5h-7.5zM1443.5 1136.8h7.5v7.5h-7.5zM1378.0 1183.2h7.5v7.5h-7.5zM1391.2 1193.8h7.5v7.5h-7.5zM1439.0 1234.2h7.5v7.5h-7.5zM1387.0 1251.2h7.5v7.5h-7.5zM1417.2 1256.8h7.5v7.5h-7.5zM1429.0 1269.8h7.5v7.5h-7.5zM1421.2 1304.2h7.5v7.5h-7.5zM1402.8 1312.8h7.5v7.5h-7.5zM1505.5 1309.0h7.5v7.5h-7.5zM1427.8 1319.0h7.5v7.5h-7.5zM1384.2 1320.5h7.5v7.5h-7.5zM1455.5 1356.0h7.5v7.5h-7.5zM1522.5 1363.0h7.5v7.5h-7.5zM1420.2 1368.2h7.5v7.5h-7.5zM1453.0 1396.8h7.5v7.5h-7.5zM1437.5 1404.5h7.5v7.5h-7.5zM1500.0 1409.5h7.5v7.5h-7.5zM1645.5 1417.0h7.5v7.5h-7.5zM1406.2 1443.8h7.5v7.5h-7.5zM1495.8 1457.2h7.5v7.5h-7.5zM1402.5 1467.5h7.5v7.5h-7.5zM1468.8 1479.0h7.5v7.5h-7.5zM1629.0 1480.2h7.5v7.5h-7.5zM1617.8 1499.8h7.5v7.5h-7.5zM1432.5 1519.5h7.5v7.5h-7.5zM1450.0 1522.5h7.5v7.5h-7.5zM1416.2 1541.2h7.5v7.5h-7.5zM1434.2 1572.0h7.5v7.5h-7.5zM1477.0 1574.5h7.5v7.5h-7.5zM1514.2 1570.5h7.5v7.5h-7.5zM1438.8 1586.8h7.5v7.5h-7.5zM1566.8 1596.2h7.5v7.5h-7.5zM1462.5 1597.5h7.5v7.5h-7.5zM1798.0 1363.2h7.5v7.5h-7.5zM2052.2 1381.5h7.5v7.5h-7.5zM1936.5 1402.8h7.5v7.5h-7.5zM1955.2 1401.2h7.5v7.5h-7.5zM2017.5 1420.8h7.5v7.5h-7.5zM2069.0 1438.5h7.5v7.5h-7.5zM2096.8 1450.5h7.5v7.5h-7.5zM1946.2 1468.0h7.5v7.5h-7.5zM1936.5 1501.0h7.5v7.5h-7.5zM1835.5 1515.5h7.5v7.5h-7.5zM1866.0 1585.8h7.5v7.5h-7.5zM2180.2 1576.2h7.5v7.5h-7.5zM1984.0 1600.0h7.5v7.5h-7.5zM1800.5 1646.8h7.5v7.5h-7.5zM1951.5 1682.2h7.5v7.5h-7.5zM1863.0 1702.2h7.5v7.5h-7.5zM1933.0 1714.8h7.5v7.5h-7.5zM1964.8 1742.2h7.5v7.5h-7.5zM1814.5 1751.8h7.5v7.5h-7.5zM1859.2 1745.5h7.5v7.5h-7.5zM1859.8 1761.8h7.5v7.5h-7.5zM1985.2 1763.5h7.5v7.5h-7.5zM1841.0 1786.2h7.5v7.5h-7.5zM1888.0 1789.0h7.5v7.5h-7.5zM1928.5 1797.0h7.5v7.5h-7.5zM1894.0 1805.5h7.5v7.5h-7.5zM1863.8 1809.8h7.5v7.5h-7.5zM1995.2 1816.5h7.5v7.5h-7.5zM1803.0 1813.5h7.5v7.5h-7.5zM1761.0 1830.2h7.5v7.5h-7.5zM1763.5 1843.5h7.5v7.5h-7.5zM1787.2 1845.2h7.5v7.5h-7.5zM1887.5 1834.0h7.5v7.5h-7.5zM1867.8 1855.2h7.5v7.5h-7.5zM1937.2 1859.8h7.5v7.5h-7.5zM1751.0 1864.2h7.5v7.5h-7.5zM1963.5 1891.5h7.5v7.5h-7.5zM1978.5 1888.0h7.5v7.5h-7.5zM1374.5 1263.5h7.5v7.5h-7.5zM1503.5 1613.6h7.5v7.5h-7.5zM1541.4 1612.0h7.5v7.5h-7.5zM1460.7 1647.7h7.5v7.5h-7.5zM1537.7 1672.3h7.5v7.5h-7.5zM1448.2 1690.2h7.5v7.5h-7.5zM1650.7 1693.6h7.5v7.5h-7.5zM1441.7 1707.6h7.5v7.5h-7.5zM1490.3 1704.1h7.5v7.5h-7.5zM1457.0 1740.7h7.5v7.5h-7.5zM1502.0 1748.9h7.5v7.5h-7.5zM1575.2 1740.0h7.5v7.5h-7.5zM1640.6 1741.8h7.5v7.5h-7.5zM1681.2 1747.9h7.5v7.5h-7.5zM1471.1 1752.1h7.5v7.5h-7.5zM1484.7 1757.0h7.5v7.5h-7.5zM1636.6 1770.5h7.5v7.5h-7.5zM1499.4 1776.4h7.5v7.5h-7.5zM1652.7 1781.0h7.5v7.5h-7.5zM1593.4 1795.1h7.5v7.5h-7.5zM1526.5 1798.4h7.5v7.5h-7.5zM1549.5 1807.8h7.5v7.5h-7.5zM1519.3 1813.6h7.5v7.5h-7.5zM1570.7 1811.1h7.5v7.5h-7.5zM1544.0 1826.3h7.5v7.5h-7.5zM1631.2 1831.7h7.5v7.5h-7.5zM1690.1 1842.0h7.5v7.5h-7.5zM1541.3 1848.2h7.5v7.5h-7.5zM1604.0 1858.6h7.5v7.5h-7.5zM1633.5 1859.9h7.5v7.5h-7.5zM1645.7 1801.6h7.5v7.5h-7.5zM1650.5 1836.0h7.5v7.5h-7.5zM1657.2 1862.8h7.5v7.5h-7.5z"/>
<path fill="#e01420" d="M1356.0 301.8h7.5v7.5h-7.5zM1356.0 306.8h7.5v7.5h-7.5zM1338.8 520.8h7.5v7.5h-7.5zM1328.2 526.2h7.5v7.5h-7.5zM1329.2 674.8h7.5v7.5h-7.5zM1334.2 685.0h7.5v7.5h-7.5zM1317.0 914.5h7.5v7.5h-7.5zM1322.5 921.0h7.5v7.5h-7.5zM1356.5 951.5h7.5v7.5h-7.5zM1360.8 960.2h7.5v7.5h-7.5zM1371.2 958.2h7.5v7.5h-7.5zM1375.2 964.8h7.5v7.5h-7.5zM1390.5 971.5h7.5v7.5h-7.5zM1384.2 976.0h7.5v7.5h-7.5zM1346.2 1040.2h7.5v7.5h-7.5zM1335.5 1044.0h7.5v7.5h-7.5zM1328.8 1061.0h7.5v7.5h-7.5zM1326.5 1073.8h7.5v7.5h-7.5zM1355.2 1076.5h7.5v7.5h-7.5zM1350.5 1085.5h7.5v7.5h-7.5zM1396.5 1099.2h7.5v7.5h-7.5zM1323.5 1112.0h7.5v7.5h-7.5zM1348.8 1109.8h7.5v7.5h-7.5zM1354.2 1114.5h7.5v7.5h-7.5zM1385.2 1114.8h7.5v7.5h-7.5zM1395.8 1116.8h7.5v7.5h-7.5zM1319.2 1119.8h7.5v7.5h-7.5zM1338.2 1122.2h7.5v7.5h-7.5zM1379.2 1165.5h7.5v7.5h-7.5zM1419.5 1224.2h7.5v7.5h-7.5zM1412.5 1230.0h7.5v7.5h-7.5zM1405.0 1232.5h7.5v7.5h-7.5zM1399.2 1233.8h7.5v7.5h-7.5zM1408.8 1334.2h7.5v7.5h-7.5zM1393.0 1342.0h7.5v7.5h-7.5zM1402.8 1345.0h7.5v7.5h-7.5zM1396.8 1409.8h7.5v7.5h-7.5zM1389.0 1413.2h7.5v7.5h-7.5zM1428.2 1428.0h7.5v7.5h-7.5zM1429.5 1437.0h7.5v7.5h-7.5zM1441.2 1488.8h7.5v7.5h-7.5zM1433.2 1498.0h7.5v7.5h-7.5zM1426.2 1506.5h7.5v7.5h-7.5zM1457.5 1574.5h7.5v7.5h-7.5zM1462.5 1574.5h7.5v7.5h-7.5zM1411.2 1575.8h7.5v7.5h-7.5zM1722.2 1749.8h7.5v7.5h-7.5zM1727.8 1752.2h7.5v7.5h-7.5zM1822.2 1813.0h7.5v7.5h-7.5zM1827.2 1816.0h7.5v7.5h-7.5zM1832.2 1822.2h7.5v7.5h-7.5zM1836.0 1829.8h7.5v7.5h-7.5zM1833.5 1837.2h7.5v7.5h-7.5zM1827.2 1843.5h7.5v7.5h-7.5zM1809.8 1828.5h7.5v7.5h-7.5zM1810.2 1838.5h7.5v7.5h-7.5zM1729.8 1840.2h7.5v7.5h-7.5zM1736.0 1844.8h7.5v7.5h-7.5zM1738.0 1853.5h7.5v7.5h-7.5zM1858.5 1824.8h7.5v7.5h-7.5zM1859.8 1832.2h7.5v7.5h-7.5zM1864.8 1837.2h7.5v7.5h-7.5zM1871.0 1841.0h7.5v7.5h-7.5zM1918.0 1832.5h7.5v7.5h-7.5zM1925.5 1832.5h7.5v7.5h-7.5zM1849.8 1851.0h7.5v7.5h-7.5zM1854.8 1854.8h7.5v7.5h-7.5zM1891.5 1853.5h7.5v7.5h-7.5zM1904.8 1859.8h7.5v7.5h-7.5zM1903.5 1867.2h7.5v7.5h-7.5zM1882.2 1866.0h7.5v7.5h-7.5zM1778.5 1871.0h7.5v7.5h-7.5zM1344.7 1135.0h7.5v7.5h-7.5zM1314.7 1146.2h7.5v7.5h-7.5zM1317.7 1148.7h7.5v7.5h-7.5zM1307.1 1153.4h7.5v7.5h-7.5zM1329.6 1156.1h7.5v7.5h-7.5zM1354.3 1161.6h7.5v7.5h-7.5zM1326.2 1169.4h7.5v7.5h-7.5zM1348.4 1167.0h7.5v7.5h-7.5zM1367.9 1165.4h7.5v7.5h-7.5zM1321.5 1177.8h7.5v7.5h-7.5zM1337.0 1179.8h7.5v7.5h-7.5zM1344.8 1181.7h7.5v7.5h-7.5zM1325.3 1196.0h7.5v7.5h-7.5zM1361.7 1192.2h7.5v7.5h-7.5zM1310.2 1199.0h7.5v7.5h-7.5zM1317.3 1206.5h7.5v7.5h-7.5zM1348.0 1203.1h7.5v7.5h-7.5zM1357.5 1199.5h7.5v7.5h-7.5zM1323.3 1210.7h7.5v7.5h-7.5zM1341.7 1219.6h7.5v7.5h-7.5zM1327.6 1224.0h7.5v7.5h-7.5zM1348.9 1227.2h7.5v7.5h-7.5zM1317.0 1240.6h7.5v7.5h-7.5zM1344.5 1241.2h7.5v7.5h-7.5zM1360.3 1252.8h7.5v7.5h-7.5zM1363.1 1252.9h7.5v7.5h-7.5zM1315.3 1262.0h7.5v7.5h-7.5zM1306.4 1281.9h7.5v7.5h-7.5zM1365.9 1274.6h7.5v7.5h-7.5zM1321.9 1285.5h7.5v7.5h-7.5zM1313.3 1299.8h7.5v7.5h-7.5zM1363.8 1305.0h7.5v7.5h-7.5zM1323.6 1309.3h7.5v7.5h-7.5zM1367.3 1307.2h7.5v7.5h-7.5zM1310.0 1325.6h7.5v7.5h-7.5zM1366.0 1335.0h7.5v7.5h-7.5zM1366.3 1356.7h7.5v7.5h-7.5zM1350.6 1374.1h7.5v7.5h-7.5zM1365.1 1372.4h7.5v7.5h-7.5zM1305.7 1387.1h7.5v7.5h-7.5zM1368.9 1380.2h7.5v7.5h-7.5zM1372.1 1398.9h7.5v7.5h-7.5zM1361.6 1403.7h7.5v7.5h-7.5zM1375.5 1404.3h7.5v7.5h-7.5zM1360.0 1426.4h7.5v7.5h-7.5zM1374.1 1437.5h7.5v7.5h-7.5zM1380.8 1426.8h7.5v7.5h-7.5zM1309.6 1450.1h7.5v7.5h-7.5zM1380.9 1456.0h7.5v7.5h-7.5zM1422.6 1604.3h7.5v7.5h-7.5zM1431.0 1603.0h7.5v7.5h-7.5zM1445.6 1610.6h7.5v7.5h-7.5zM1625.1 1614.5h7.5v7.5h-7.5zM1632.2 1607.8h7.5v7.5h-7.5zM1449.4 1621.9h7.5v7.5h-7.5zM1418.4 1635.3h7.5v7.5h-7.5zM1410.8 1648.5h7.5v7.5h-7.5zM1433.4 1644.4h7.5v7.5h-7.5zM1437.3 1654.2h7.5v7.5h-7.5zM1483.7 1649.2h7.5v7.5h-7.5zM1421.1 1663.3h7.5v7.5h-7.5zM1476.1 1657.2h7.5v7.5h-7.5zM1427.6 1677.1h7.5v7.5h-7.5zM1514.0 1667.8h7.5v7.5h-7.5zM1522.8 1667.4h7.5v7.5h-7.5zM1429.6 1682.8h7.5v7.5h-7.5zM1505.3 1687.1h7.5v7.5h-7.5zM1514.5 1678.8h7.5v7.5h-7.5zM1430.9 1693.0h7.5v7.5h-7.5zM1451.6 1725.7h7.5v7.5h-7.5zM1469.1 1718.4h7.5v7.5h-7.5zM1455.6 1726.8h7.5v7.5h-7.5zM1477.4 1726.5h7.5v7.5h-7.5zM1599.9 1731.8h7.5v7.5h-7.5zM1543.2 1746.6h7.5v7.5h-7.5zM1546.0 1738.3h7.5v7.5h-7.5zM1591.8 1738.7h7.5v7.5h-7.5zM1515.9 1759.5h7.5v7.5h-7.5zM1552.9 1750.7h7.5v7.5h-7.5zM1463.7 1763.7h7.5v7.5h-7.5zM1518.7 1770.9h7.5v7.5h-7.5zM1473.0 1775.9h7.5v7.5h-7.5zM1477.8 1781.0h7.5v7.5h-7.5zM1514.0 1781.7h7.5v7.5h-7.5zM1536.4 1783.4h7.5v7.5h-7.5zM1451.3 1790.6h7.5v7.5h-7.5zM1543.7 1791.4h7.5v7.5h-7.5zM1666.6 1792.4h7.5v7.5h-7.5zM1471.2 1799.5h7.5v7.5h-7.5zM1674.2 1798.6h7.5v7.5h-7.5zM1700.7 1816.1h7.5v7.5h-7.5zM1487.2 1830.7h7.5v7.5h-7.5zM1500.5 1824.4h7.5v7.5h-7.5zM1529.4 1830.1h7.5v7.5h-7.5zM1566.6 1833.0h7.5v7.5h-7.5zM1512.0 1837.1h7.5v7.5h-7.5zM1527.3 1835.3h7.5v7.5h-7.5zM1567.6 1843.2h7.5v7.5h-7.5zM1675.9 1836.2h7.5v7.5h-7.5zM1519.7 1850.4h7.5v7.5h-7.5zM1555.2 1858.1h7.5v7.5h-7.5zM1572.3 1854.5h7.5v7.5h-7.5zM1595.8 1892.4h7.5v7.5h-7.5zM1670.1 1812.3h7.5v7.5h-7.5zM1702.9 1814.9h7.5v7.5h-7.5zM1677.8 1848.4h7.5v7.5h-7.5zM1690.6 1859.7h7.5v7.5h-7.5zM1695.4 1863.0h7.5v7.5h-7.5zM1699.9 1863.2h7.5v7.5h-7.5z"/>
<path fill="#f80000" d="M1389.8 1107.8h7.5v7.5h-7.5zM1341.8 1115.8h7.5v7.5h-7.5zM1385.5 1493.8h7.5v7.5h-7.5zM1394.2 1532.5h7.5v7.5h-7.5zM1393.2 1538.8h7.5v7.5h-7.5zM1401.2 1548.8h7.5v7.5h-7.5zM1398.8 1555.0h7.5v7.5h-7.5zM1390.0 1553.0h7.5v7.5h-7.5zM1386.2 1558.8h7.5v7.5h-7.5zM1405.8 1568.8h7.5v7.5h-7.5zM1406.2 1579.2h7.5v7.5h-7.5zM1384.2 1585.0h7.5v7.5h-7.5zM1398.8 1598.8h7.5v7.5h-7.5zM1822.2 1844.8h7.5v7.5h-7.5zM1811.0 1851.0h7.5v7.5h-7.5zM1819.8 1857.2h7.5v7.5h-7.5zM1892.2 1858.5h7.5v7.5h-7.5zM1809.8 1863.5h7.5v7.5h-7.5zM1813.5 1871.0h7.5v7.5h-7.5zM1892.2 1875.2h7.5v7.5h-7.5zM1731.0 1881.8h7.5v7.5h-7.5zM1718.5 1879.8h7.5v7.5h-7.5zM1336.5 1149.1h7.5v7.5h-7.5zM1342.6 1142.6h7.5v7.5h-7.5zM1341.6 1152.9h7.5v7.5h-7.5zM1361.3 1166.2h7.5v7.5h-7.5zM1327.6 1195.2h7.5v7.5h-7.5zM1336.3 1192.3h7.5v7.5h-7.5zM1337.7 1202.7h7.5v7.5h-7.5zM1330.1 1212.0h7.5v7.5h-7.5zM1338.7 1227.2h7.5v7.5h-7.5zM1324.7 1245.3h7.5v7.5h-7.5zM1334.9 1242.2h7.5v7.5h-7.5zM1350.1 1245.1h7.5v7.5h-7.5zM1327.2 1251.2h7.5v7.5h-7.5zM1328.4 1253.3h7.5v7.5h-7.5zM1329.8 1257.5h7.5v7.5h-7.5zM1337.0 1255.2h7.5v7.5h-7.5zM1344.2 1256.1h7.5v7.5h-7.5zM1320.0 1261.6h7.5v7.5h-7.5zM1337.1 1260.8h7.5v7.5h-7.5zM1352.1 1263.6h7.5v7.5h-7.5zM1360.1 1266.0h7.5v7.5h-7.5zM1336.0 1278.3h7.5v7.5h-7.5zM1339.0 1279.1h7.5v7.5h-7.5zM1340.8 1280.1h7.5v7.5h-7.5zM1343.0 1278.1h7.5v7.5h-7.5zM1342.5 1274.9h7.5v7.5h-7.5zM1361.1 1272.1h7.5v7.5h-7.5zM1322.8 1293.0h7.5v7.5h-7.5zM1318.6 1282.4h7.5v7.5h-7.5zM1336.4 1292.2h7.5v7.5h-7.5zM1339.2 1283.8h7.5v7.5h-7.5zM1336.0 1303.7h7.5v7.5h-7.5zM1325.7 1315.5h7.5v7.5h-7.5zM1339.0 1311.1h7.5v7.5h-7.5zM1329.7 1309.7h7.5v7.5h-7.5zM1351.5 1311.4h7.5v7.5h-7.5zM1320.7 1322.1h7.5v7.5h-7.5zM1327.9 1323.9h7.5v7.5h-7.5zM1333.2 1328.4h7.5v7.5h-7.5zM1341.1 1318.3h7.5v7.5h-7.5zM1352.8 1328.9h7.5v7.5h-7.5zM1360.1 1320.2h7.5v7.5h-7.5zM1311.3 1341.9h7.5v7.5h-7.5zM1317.1 1338.4h7.5v7.5h-7.5zM1327.3 1341.0h7.5v7.5h-7.5zM1321.9 1339.9h7.5v7.5h-7.5zM1326.1 1342.1h7.5v7.5h-7.5zM1332.3 1335.1h7.5v7.5h-7.5zM1350.2 1337.3h7.5v7.5h-7.5zM1347.4 1339.4h7.5v7.5h-7.5zM1362.5 1332.8h7.5v7.5h-7.5zM1313.4 1352.3h7.5v7.5h-7.5zM1319.9 1353.7h7.5v7.5h-7.5zM1333.2 1346.7h7.5v7.5h-7.5zM1343.8 1350.6h7.5v7.5h-7.5zM1345.3 1350.4h7.5v7.5h-7.5zM1349.0 1342.9h7.5v7.5h-7.5zM1359.3 1343.2h7.5v7.5h-7.5zM1358.4 1350.8h7.5v7.5h-7.5zM1321.7 1365.9h7.5v7.5h-7.5zM1319.2 1355.7h7.5v7.5h-7.5zM1331.5 1364.4h7.5v7.5h-7.5zM1349.4 1356.0h7.5v7.5h-7.5zM1349.0 1355.4h7.5v7.5h-7.5zM1361.9 1359.7h7.5v7.5h-7.5zM1323.2 1375.5h7.5v7.5h-7.5zM1319.4 1370.1h7.5v7.5h-7.5zM1330.2 1374.6h7.5v7.5h-7.5zM1330.9 1375.8h7.5v7.5h-7.5zM1353.2 1366.8h7.5v7.5h-7.5zM1326.3 1383.7h7.5v7.5h-7.5zM1337.1 1389.3h7.5v7.5h-7.5zM1347.0 1390.0h7.5v7.5h-7.5zM1347.9 1385.3h7.5v7.5h-7.5zM1312.1 1391.5h7.5v7.5h-7.5zM1320.9 1399.6h7.5v7.5h-7.5zM1336.8 1392.7h7.5v7.5h-7.5zM1338.3 1401.0h7.5v7.5h-7.5zM1344.5 1393.5h7.5v7.5h-7.5zM1345.0 1391.3h7.5v7.5h-7.5zM1356.9 1390.3h7.5v7.5h-7.5zM1309.3 1403.2h7.5v7.5h-7.5zM1329.1 1409.8h7.5v7.5h-7.5zM1322.3 1403.1h7.5v7.5h-7.5zM1337.0 1414.0h7.5v7.5h-7.5zM1331.7 1410.3h7.5v7.5h-7.5zM1339.4 1411.5h7.5v7.5h-7.5zM1340.4 1409.2h7.5v7.5h-7.5zM1350.8 1406.3h7.5v7.5h-7.5zM1326.1 1423.8h7.5v7.5h-7.5zM1330.8 1420.7h7.5v7.5h-7.5zM1343.0 1422.8h7.5v7.5h-7.5zM1343.3 1420.0h7.5v7.5h-7.5zM1346.2 1421.1h7.5v7.5h-7.5zM1353.7 1415.4h7.5v7.5h-7.5zM1355.2 1424.2h7.5v7.5h-7.5zM1313.4 1432.2h7.5v7.5h-7.5zM1316.6 1432.7h7.5v7.5h-7.5zM1323.9 1430.8h7.5v7.5h-7.5zM1320.1 1431.8h7.5v7.5h-7.5zM1327.8 1430.9h7.5v7.5h-7.5zM1320.5 1428.7h7.5v7.5h-7.5zM1336.5 1427.0h7.5v7.5h-7.5zM1338.8 1435.1h7.5v7.5h-7.5zM1335.4 1428.0h7.5v7.5h-7.5zM1347.2 1436.3h7.5v7.5h-7.5zM1320.7 1440.9h7.5v7.5h-7.5zM1329.1 1441.1h7.5v7.5h-7.5zM1335.1 1438.5h7.5v7.5h-7.5zM1338.6 1441.8h7.5v7.5h-7.5zM1335.8 1444.6h7.5v7.5h-7.5zM1340.3 1443.4h7.5v7.5h-7.5zM1342.4 1448.1h7.5v7.5h-7.5zM1352.6 1446.6h7.5v7.5h-7.5zM1348.1 1443.2h7.5v7.5h-7.5zM1353.8 1442.4h7.5v7.5h-7.5zM1373.5 1445.5h7.5v7.5h-7.5zM1316.8 1454.1h7.5v7.5h-7.5zM1327.4 1456.2h7.5v7.5h-7.5zM1328.7 1455.6h7.5v7.5h-7.5zM1325.2 1462.2h7.5v7.5h-7.5zM1335.7 1454.5h7.5v7.5h-7.5zM1336.7 1450.5h7.5v7.5h-7.5zM1332.1 1457.6h7.5v7.5h-7.5zM1348.8 1455.6h7.5v7.5h-7.5zM1356.8 1456.7h7.5v7.5h-7.5zM1369.4 1456.9h7.5v7.5h-7.5zM1310.3 1473.9h7.5v7.5h-7.5zM1326.7 1469.0h7.5v7.5h-7.5zM1322.5 1469.8h7.5v7.5h-7.5zM1329.8 1463.1h7.5v7.5h-7.5zM1332.8 1474.2h7.5v7.5h-7.5zM1352.8 1466.5h7.5v7.5h-7.5zM1348.9 1463.1h7.5v7.5h-7.5zM1363.6 1464.4h7.5v7.5h-7.5zM1316.1 1477.9h7.5v7.5h-7.5zM1321.1 1481.8h7.5v7.5h-7.5zM1319.7 1476.0h7.5v7.5h-7.5zM1338.3 1480.6h7.5v7.5h-7.5zM1352.3 1482.3h7.5v7.5h-7.5zM1341.7 1476.0h7.5v7.5h-7.5zM1346.4 1476.0h7.5v7.5h-7.5zM1364.9 1482.3h7.5v7.5h-7.5zM1354.0 1483.4h7.5v7.5h-7.5zM1372.2 1480.0h7.5v7.5h-7.5zM1314.0 1487.4h7.5v7.5h-7.5zM1306.3 1496.4h7.5v7.5h-7.5zM1319.3 1494.0h7.5v7.5h-7.5zM1320.7 1487.0h7.5v7.5h-7.5zM1325.1 1487.0h7.5v7.5h-7.5zM1337.9 1488.9h7.5v7.5h-7.5zM1334.6 1487.1h7.5v7.5h-7.5zM1347.7 1498.0h7.5v7.5h-7.5zM1348.9 1497.7h7.5v7.5h-7.5zM1364.4 1497.3h7.5v7.5h-7.5zM1379.7 1493.4h7.5v7.5h-7.5zM1311.4 1507.4h7.5v7.5h-7.5zM1317.2 1502.7h7.5v7.5h-7.5zM1320.5 1506.0h7.5v7.5h-7.5zM1340.1 1507.8h7.5v7.5h-7.5zM1336.4 1498.8h7.5v7.5h-7.5zM1345.7 1499.8h7.5v7.5h-7.5zM1344.6 1498.6h7.5v7.5h-7.5zM1362.4 1499.6h7.5v7.5h-7.5zM1361.7 1499.5h7.5v7.5h-7.5zM1370.4 1501.4h7.5v7.5h-7.5zM1379.6 1504.1h7.5v7.5h-7.5zM1309.6 1521.4h7.5v7.5h-7.5zM1325.5 1517.4h7.5v7.5h-7.5zM1324.1 1521.3h7.5v7.5h-7.5zM1317.6 1515.5h7.5v7.5h-7.5zM1318.1 1512.6h7.5v7.5h-7.5zM1333.0 1516.9h7.5v7.5h-7.5zM1332.3 1517.9h7.5v7.5h-7.5zM1334.8 1521.9h7.5v7.5h-7.5zM1332.5 1512.7h7.5v7.5h-7.5zM1357.1 1520.5h7.5v7.5h-7.5zM1363.0 1522.1h7.5v7.5h-7.5zM1381.1 1512.8h7.5v7.5h-7.5zM1306.2 1524.9h7.5v7.5h-7.5zM1307.9 1522.4h7.5v7.5h-7.5zM1310.7 1524.9h7.5v7.5h-7.5zM1306.9 1532.2h7.5v7.5h-7.5zM1320.0 1529.2h7.5v7.5h-7.5zM1321.9 1530.0h7.5v7.5h-7.5zM1323.0 1524.3h7.5v7.5h-7.5zM1335.2 1530.6h7.5v7.5h-7.5zM1331.8 1531.3h7.5v7.5h-7.5zM1344.0 1529.3h7.5v7.5h-7.5zM1352.3 1529.5h7.5v7.5h-7.5zM1358.8 1532.9h7.5v7.5h-7.5zM1357.1 1532.9h7.5v7.5h-7.5zM1360.1 1522.5h7.5v7.5h-7.5zM1371.9 1532.8h7.5v7.5h-7.5zM1377.3 1525.9h7.5v7.5h-7.5zM1308.1 1539.2h7.5v7.5h-7.5zM1329.2 1535.9h7.5v7.5h-7.5zM1318.1 1538.0h7.5v7.5h-7.5zM1334.3 1542.0h7.5v7.5h-7.5zM1340.3 1542.0h7.5v7.5h-7.5zM1349.1 1534.5h7.5v7.5h-7.5zM1346.7 1541.0h7.5v7.5h-7.5zM1361.1 1539.3h7.5v7.5h-7.5zM1378.5 1541.3h7.5v7.5h-7.5zM1310.9 1548.8h7.5v7.5h-7.5zM1308.5 1556.2h7.5v7.5h-7.5zM1328.1 1549.7h7.5v7.5h-7.5zM1320.8 1556.0h7.5v7.5h-7.5zM1337.9 1556.1h7.5v7.5h-7.5zM1338.7 1555.8h7.5v7.5h-7.5zM1352.7 1554.6h7.5v7.5h-7.5zM1348.6 1546.5h7.5v7.5h-7.5zM1342.0 1552.7h7.5v7.5h-7.5zM1342.9 1547.7h7.5v7.5h-7.5zM1349.3 1555.9h7.5v7.5h-7.5zM1361.3 1556.9h7.5v7.5h-7.5zM1360.9 1554.0h7.5v7.5h-7.5zM1359.9 1553.5h7.5v7.5h-7.5zM1363.9 1549.5h7.5v7.5h-7.5zM1366.3 1550.1h7.5v7.5h-7.5zM1377.2 1553.7h7.5v7.5h-7.5zM1380.8 1550.5h7.5v7.5h-7.5zM1310.5 1565.0h7.5v7.5h-7.5zM1312.1 1561.9h7.5v7.5h-7.5zM1318.5 1569.4h7.5v7.5h-7.5zM1321.2 1567.2h7.5v7.5h-7.5zM1337.6 1563.6h7.5v7.5h-7.5zM1334.8 1559.1h7.5v7.5h-7.5zM1335.4 1565.5h7.5v7.5h-7.5zM1337.1 1570.1h7.5v7.5h-7.5zM1345.5 1563.3h7.5v7.5h-7.5zM1345.5 1567.0h7.5v7.5h-7.5zM1345.3 1561.5h7.5v7.5h-7.5zM1358.4 1564.6h7.5v7.5h-7.5zM1376.9 1558.3h7.5v7.5h-7.5zM1309.0 1574.4h7.5v7.5h-7.5zM1314.3 1580.3h7.5v7.5h-7.5zM1326.7 1572.5h7.5v7.5h-7.5zM1328.3 1570.8h7.5v7.5h-7.5zM1324.6 1576.8h7.5v7.5h-7.5zM1328.7 1572.4h7.5v7.5h-7.5zM1337.7 1577.5h7.5v7.5h-7.5zM1330.1 1578.9h7.5v7.5h-7.5zM1345.3 1570.3h7.5v7.5h-7.5zM1347.1 1574.3h7.5v7.5h-7.5zM1348.4 1575.6h7.5v7.5h-7.5zM1360.7 1575.3h7.5v7.5h-7.5zM1358.6 1574.6h7.5v7.5h-7.5zM1355.3 1570.3h7.5v7.5h-7.5zM1358.7 1577.7h7.5v7.5h-7.5zM1372.0 1574.9h7.5v7.5h-7.5zM1376.2 1578.5h7.5v7.5h-7.5zM1379.3 1571.0h7.5v7.5h-7.5zM1317.2 1589.3h7.5v7.5h-7.5zM1314.5 1592.4h7.5v7.5h-7.5zM1313.8 1587.9h7.5v7.5h-7.5zM1312.4 1587.5h7.5v7.5h-7.5zM1325.4 1582.7h7.5v7.5h-7.5zM1322.3 1586.5h7.5v7.5h-7.5zM1318.4 1587.0h7.5v7.5h-7.5zM1330.0 1586.8h7.5v7.5h-7.5zM1334.7 1585.8h7.5v7.5h-7.5zM1344.4 1587.5h7.5v7.5h-7.5zM1346.9 1582.8h7.5v7.5h-7.5zM1347.7 1588.3h7.5v7.5h-7.5zM1342.4 1586.2h7.5v7.5h-7.5zM1361.1 1586.5h7.5v7.5h-7.5zM1362.0 1586.7h7.5v7.5h-7.5zM1363.9 1586.2h7.5v7.5h-7.5zM1361.7 1593.1h7.5v7.5h-7.5zM1366.2 1582.3h7.5v7.5h-7.5zM1376.3 1585.9h7.5v7.5h-7.5zM1380.4 1593.3h7.5v7.5h-7.5zM1313.4 1605.2h7.5v7.5h-7.5zM1309.9 1604.7h7.5v7.5h-7.5zM1308.7 1603.0h7.5v7.5h-7.5zM1321.0 1603.3h7.5v7.5h-7.5zM1326.4 1604.0h7.5v7.5h-7.5zM1323.4 1595.6h7.5v7.5h-7.5zM1320.2 1602.4h7.5v7.5h-7.5zM1336.5 1600.6h7.5v7.5h-7.5zM1331.0 1604.0h7.5v7.5h-7.5zM1329.3 1603.1h7.5v7.5h-7.5zM1346.7 1597.0h7.5v7.5h-7.5zM1344.4 1605.5h7.5v7.5h-7.5zM1345.6 1602.7h7.5v7.5h-7.5zM1362.8 1595.9h7.5v7.5h-7.5zM1367.2 1604.7h7.5v7.5h-7.5zM1384.8 1603.2h7.5v7.5h-7.5zM1392.3 1603.7h7.5v7.5h-7.5zM1403.6 1604.3h7.5v7.5h-7.5zM1310.0 1607.8h7.5v7.5h-7.5zM1305.4 1612.3h7.5v7.5h-7.5zM1305.3 1615.6h7.5v7.5h-7.5zM1323.6 1614.3h7.5v7.5h-7.5zM1319.6 1618.0h7.5v7.5h-7.5zM1333.6 1615.5h7.5v7.5h-7.5zM1336.2 1617.2h7.5v7.5h-7.5zM1330.9 1614.1h7.5v7.5h-7.5zM1336.5 1609.1h7.5v7.5h-7.5zM1337.8 1614.3h7.5v7.5h-7.5zM1337.3 1606.3h7.5v7.5h-7.5zM1340.7 1608.2h7.5v7.5h-7.5zM1348.7 1608.3h7.5v7.5h-7.5zM1343.6 1612.9h7.5v7.5h-7.5zM1360.0 1606.5h7.5v7.5h-7.5zM1359.8 1607.0h7.5v7.5h-7.5zM1356.2 1607.0h7.5v7.5h-7.5zM1355.3 1610.0h7.5v7.5h-7.5zM1374.1 1617.4h7.5v7.5h-7.5zM1369.7 1616.6h7.5v7.5h-7.5zM1373.2 1608.0h7.5v7.5h-7.5zM1385.2 1609.3h7.5v7.5h-7.5zM1383.9 1606.4h7.5v7.5h-7.5zM1395.9 1606.4h7.5v7.5h-7.5zM1401.6 1611.0h7.5v7.5h-7.5zM1404.6 1608.4h7.5v7.5h-7.5zM1415.3 1616.6h7.5v7.5h-7.5zM1306.2 1628.5h7.5v7.5h-7.5zM1306.0 1626.9h7.5v7.5h-7.5zM1315.1 1626.6h7.5v7.5h-7.5zM1317.2 1628.7h7.5v7.5h-7.5zM1316.4 1623.7h7.5v7.5h-7.5zM1317.7 1625.0h7.5v7.5h-7.5zM1323.5 1623.8h7.5v7.5h-7.5zM1333.9 1618.3h7.5v7.5h-7.5zM1340.0 1623.7h7.5v7.5h-7.5zM1337.3 1621.2h7.5v7.5h-7.5zM1351.4 1619.4h7.5v7.5h-7.5zM1352.8 1618.8h7.5v7.5h-7.5zM1341.7 1627.0h7.5v7.5h-7.5zM1351.3 1623.5h7.5v7.5h-7.5zM1346.9 1628.6h7.5v7.5h-7.5zM1355.3 1629.1h7.5v7.5h-7.5zM1361.8 1626.8h7.5v7.5h-7.5zM1368.6 1626.1h7.5v7.5h-7.5zM1371.2 1625.5h7.5v7.5h-7.5zM1382.2 1628.9h7.5v7.5h-7.5zM1400.2 1621.6h7.5v7.5h-7.5zM1400.9 1621.4h7.5v7.5h-7.5zM1405.0 1620.1h7.5v7.5h-7.5zM1412.0 1622.5h7.5v7.5h-7.5zM1404.4 1630.2h7.5v7.5h-7.5zM1423.7 1622.6h7.5v7.5h-7.5zM1422.9 1621.0h7.5v7.5h-7.5zM1430.7 1627.1h7.5v7.5h-7.5zM1434.7 1618.6h7.5v7.5h-7.5zM1438.7 1620.6h7.5v7.5h-7.5zM1311.7 1638.5h7.5v7.5h-7.5zM1310.1 1632.0h7.5v7.5h-7.5zM1309.1 1640.7h7.5v7.5h-7.5zM1314.0 1632.3h7.5v7.5h-7.5zM1321.4 1637.8h7.5v7.5h-7.5zM1319.1 1632.4h7.5v7.5h-7.5zM1318.7 1633.1h7.5v7.5h-7.5zM1323.1 1630.6h7.5v7.5h-7.5zM1328.9 1631.5h7.5v7.5h-7.5zM1339.6 1632.3h7.5v7.5h-7.5zM1335.8 1642.1h7.5v7.5h-7.5zM1347.4 1641.8h7.5v7.5h-7.5zM1343.6 1632.0h7.5v7.5h-7.5zM1363.3 1632.2h7.5v7.5h-7.5zM1358.5 1630.7h7.5v7.5h-7.5zM1360.9 1632.4h7.5v7.5h-7.5zM1372.5 1632.2h7.5v7.5h-7.5zM1375.2 1631.9h7.5v7.5h-7.5zM1376.7 1640.5h7.5v7.5h-7.5zM1384.0 1635.5h7.5v7.5h-7.5zM1381.3 1631.0h7.5v7.5h-7.5zM1389.6 1635.3h7.5v7.5h-7.5zM1391.7 1633.7h7.5v7.5h-7.5zM1312.4 1647.8h7.5v7.5h-7.5zM1316.4 1643.0h7.5v7.5h-7.5zM1314.4 1644.3h7.5v7.5h-7.5zM1313.7 1649.5h7.5v7.5h-7.5zM1327.5 1645.3h7.5v7.5h-7.5zM1329.1 1648.5h7.5v7.5h-7.5zM1326.9 1651.3h7.5v7.5h-7.5zM1322.1 1651.9h7.5v7.5h-7.5zM1327.7 1642.9h7.5v7.5h-7.5zM1317.7 1646.9h7.5v7.5h-7.5zM1327.1 1646.7h7.5v7.5h-7.5zM1320.5 1647.5h7.5v7.5h-7.5zM1337.8 1646.9h7.5v7.5h-7.5zM1330.0 1652.8h7.5v7.5h-7.5zM1342.6 1649.8h7.5v7.5h-7.5zM1345.6 1653.2h7.5v7.5h-7.5zM1348.0 1647.4h7.5v7.5h-7.5zM1342.8 1652.4h7.5v7.5h-7.5zM1358.4 1653.7h7.5v7.5h-7.5zM1359.0 1652.6h7.5v7.5h-7.5zM1355.7 1652.9h7.5v7.5h-7.5zM1354.5 1648.1h7.5v7.5h-7.5zM1354.8 1649.3h7.5v7.5h-7.5zM1376.1 1652.9h7.5v7.5h-7.5zM1368.4 1648.0h7.5v7.5h-7.5zM1388.7 1653.7h7.5v7.5h-7.5zM1377.7 1645.2h7.5v7.5h-7.5zM1396.2 1648.7h7.5v7.5h-7.5zM1395.2 1649.4h7.5v7.5h-7.5zM1410.2 1651.6h7.5v7.5h-7.5zM1417.3 1648.3h7.5v7.5h-7.5zM1317.2 1657.5h7.5v7.5h-7.5zM1309.2 1659.3h7.5v7.5h-7.5zM1309.8 1659.6h7.5v7.5h-7.5zM1309.3 1659.2h7.5v7.5h-7.5zM1309.8 1655.0h7.5v7.5h-7.5zM1308.6 1664.1h7.5v7.5h-7.5zM1305.4 1657.7h7.5v7.5h-7.5zM1309.6 1662.3h7.5v7.5h-7.5zM1305.7 1657.8h7.5v7.5h-7.5zM1322.5 1665.8h7.5v7.5h-7.5zM1320.6 1664.4h7.5v7.5h-7.5zM1321.9 1657.2h7.5v7.5h-7.5zM1326.4 1663.4h7.5v7.5h-7.5zM1329.1 1662.0h7.5v7.5h-7.5zM1332.4 1664.5h7.5v7.5h-7.5zM1329.3 1656.4h7.5v7.5h-7.5zM1336.4 1656.3h7.5v7.5h-7.5zM1335.1 1662.7h7.5v7.5h-7.5zM1332.9 1662.4h7.5v7.5h-7.5zM1329.8 1659.0h7.5v7.5h-7.5zM1344.1 1654.4h7.5v7.5h-7.5zM1341.4 1666.0h7.5v7.5h-7.5zM1356.9 1661.5h7.5v7.5h-7.5zM1358.5 1658.8h7.5v7.5h-7.5zM1357.8 1654.5h7.5v7.5h-7.5zM1358.1 1663.3h7.5v7.5h-7.5zM1368.8 1657.0h7.5v7.5h-7.5zM1372.4 1664.7h7.5v7.5h-7.5zM1369.7 1665.9h7.5v7.5h-7.5zM1387.9 1665.9h7.5v7.5h-7.5zM1383.4 1660.5h7.5v7.5h-7.5zM1382.5 1663.6h7.5v7.5h-7.5zM1400.3 1656.8h7.5v7.5h-7.5zM1396.2 1656.8h7.5v7.5h-7.5zM1403.0 1662.1h7.5v7.5h-7.5zM1432.2 1666.0h7.5v7.5h-7.5zM1310.7 1670.1h7.5v7.5h-7.5zM1313.8 1674.5h7.5v7.5h-7.5zM1311.3 1667.2h7.5v7.5h-7.5zM1312.8 1669.7h7.5v7.5h-7.5zM1323.0 1673.5h7.5v7.5h-7.5zM1321.6 1675.7h7.5v7.5h-7.5zM1319.5 1669.4h7.5v7.5h-7.5zM1327.8 1670.9h7.5v7.5h-7.5zM1329.2 1669.8h7.5v7.5h-7.5zM1320.5 1676.2h7.5v7.5h-7.5zM1336.3 1673.2h7.5v7.5h-7.5zM1341.1 1671.4h7.5v7.5h-7.5zM1350.1 1675.7h7.5v7.5h-7.5zM1348.1 1669.0h7.5v7.5h-7.5zM1350.9 1672.5h7.5v7.5h-7.5zM1356.9 1677.6h7.5v7.5h-7.5zM1354.7 1667.7h7.5v7.5h-7.5zM1365.3 1675.2h7.5v7.5h-7.5zM1367.6 1668.4h7.5v7.5h-7.5zM1385.5 1669.4h7.5v7.5h-7.5zM1397.0 1668.2h7.5v7.5h-7.5zM1402.7 1675.4h7.5v7.5h-7.5zM1309.5 1683.4h7.5v7.5h-7.5zM1314.1 1683.7h7.5v7.5h-7.5zM1306.6 1685.6h7.5v7.5h-7.5zM1310.7 1683.7h7.5v7.5h-7.5zM1307.7 1686.6h7.5v7.5h-7.5zM1310.0 1688.9h7.5v7.5h-7.5zM1305.4 1683.6h7.5v7.5h-7.5zM1310.2 1684.7h7.5v7.5h-7.5zM1310.8 1684.4h7.5v7.5h-7.5zM1324.1 1687.0h7.5v7.5h-7.5zM1325.4 1689.6h7.5v7.5h-7.5zM1320.6 1681.0h7.5v7.5h-7.5zM1326.2 1681.0h7.5v7.5h-7.5zM1325.2 1689.2h7.5v7.5h-7.5zM1317.3 1689.2h7.5v7.5h-7.5zM1329.3 1685.2h7.5v7.5h-7.5zM1338.2 1687.7h7.5v7.5h-7.5zM1332.7 1682.0h7.5v7.5h-7.5zM1331.1 1689.8h7.5v7.5h-7.5zM1335.8 1685.9h7.5v7.5h-7.5zM1336.1 1679.1h7.5v7.5h-7.5zM1339.2 1689.6h7.5v7.5h-7.5zM1338.9 1680.0h7.5v7.5h-7.5zM1332.0 1689.6h7.5v7.5h-7.5zM1339.4 1688.9h7.5v7.5h-7.5zM1331.1 1684.3h7.5v7.5h-7.5zM1338.3 1680.1h7.5v7.5h-7.5zM1336.1 1681.3h7.5v7.5h-7.5zM1329.7 1687.4h7.5v7.5h-7.5zM1334.4 1683.9h7.5v7.5h-7.5zM1349.9 1690.0h7.5v7.5h-7.5zM1347.8 1678.8h7.5v7.5h-7.5zM1344.4 1688.3h7.5v7.5h-7.5zM1351.5 1685.3h7.5v7.5h-7.5zM1342.0 1687.6h7.5v7.5h-7.5zM1352.7 1687.0h7.5v7.5h-7.5zM1360.5 1680.1h7.5v7.5h-7.5zM1356.9 1685.7h7.5v7.5h-7.5zM1355.4 1685.6h7.5v7.5h-7.5zM1362.4 1683.6h7.5v7.5h-7.5zM1354.8 1684.6h7.5v7.5h-7.5zM1375.5 1686.8h7.5v7.5h-7.5zM1373.0 1682.2h7.5v7.5h-7.5zM1368.9 1684.3h7.5v7.5h-7.5zM1366.1 1681.0h7.5v7.5h-7.5zM1382.2 1690.2h7.5v7.5h-7.5zM1388.9 1681.9h7.5v7.5h-7.5zM1393.3 1685.1h7.5v7.5h-7.5zM1399.5 1679.2h7.5v7.5h-7.5zM1403.4 1680.4h7.5v7.5h-7.5zM1413.6 1686.9h7.5v7.5h-7.5zM1310.3 1699.0h7.5v7.5h-7.5zM1306.8 1694.5h7.5v7.5h-7.5zM1305.4 1693.5h7.5v7.5h-7.5zM1315.4 1691.0h7.5v7.5h-7.5zM1314.0 1693.2h7.5v7.5h-7.5zM1311.3 1699.2h7.5v7.5h-7.5zM1327.1 1696.4h7.5v7.5h-7.5zM1328.9 1697.4h7.5v7.5h-7.5zM1319.1 1693.0h7.5v7.5h-7.5zM1325.1 1698.7h7.5v7.5h-7.5zM1336.4 1698.3h7.5v7.5h-7.5zM1333.8 1694.0h7.5v7.5h-7.5zM1335.9 1696.4h7.5v7.5h-7.5zM1330.1 1701.1h7.5v7.5h-7.5zM1333.6 1701.7h7.5v7.5h-7.5zM1330.3 1693.9h7.5v7.5h-7.5zM1334.1 1695.3h7.5v7.5h-7.5zM1348.9 1691.0h7.5v7.5h-7.5zM1344.5 1690.7h7.5v7.5h-7.5zM1364.7 1700.4h7.5v7.5h-7.5zM1363.7 1691.3h7.5v7.5h-7.5zM1362.6 1694.0h7.5v7.5h-7.5zM1370.2 1691.5h7.5v7.5h-7.5zM1369.9 1701.6h7.5v7.5h-7.5zM1383.7 1697.4h7.5v7.5h-7.5zM1384.5 1699.8h7.5v7.5h-7.5zM1384.5 1691.8h7.5v7.5h-7.5zM1381.2 1690.6h7.5v7.5h-7.5zM1379.4 1702.1h7.5v7.5h-7.5zM1377.6 1693.9h7.5v7.5h-7.5zM1391.2 1695.2h7.5v7.5h-7.5zM1404.1 1695.2h7.5v7.5h-7.5zM1407.8 1691.6h7.5v7.5h-7.5zM1407.5 1699.0h7.5v7.5h-7.5zM1420.3 1697.7h7.5v7.5h-7.5zM1313.1 1703.2h7.5v7.5h-7.5zM1311.1 1702.5h7.5v7.5h-7.5zM1308.8 1706.7h7.5v7.5h-7.5zM1316.8 1708.7h7.5v7.5h-7.5zM1306.0 1713.3h7.5v7.5h-7.5zM1314.2 1710.5h7.5v7.5h-7.5zM1305.5 1713.0h7.5v7.5h-7.5zM1306.6 1709.9h7.5v7.5h-7.5zM1305.9 1704.4h7.5v7.5h-7.5zM1311.6 1711.5h7.5v7.5h-7.5zM1315.2 1713.9h7.5v7.5h-7.5zM1307.9 1702.4h7.5v7.5h-7.5zM1326.5 1703.7h7.5v7.5h-7.5zM1320.1 1707.7h7.5v7.5h-7.5zM1325.9 1707.0h7.5v7.5h-7.5zM1317.9 1704.3h7.5v7.5h-7.5zM1338.7 1705.8h7.5v7.5h-7.5zM1338.4 1702.9h7.5v7.5h-7.5zM1344.1 1710.2h7.5v7.5h-7.5zM1349.8 1710.5h7.5v7.5h-7.5zM1351.7 1706.7h7.5v7.5h-7.5zM1356.4 1707.3h7.5v7.5h-7.5zM1354.3 1704.3h7.5v7.5h-7.5zM1361.6 1703.2h7.5v7.5h-7.5zM1375.6 1707.4h7.5v7.5h-7.5zM1381.2 1712.0h7.5v7.5h-7.5zM1398.1 1713.4h7.5v7.5h-7.5zM1390.0 1706.0h7.5v7.5h-7.5zM1410.8 1708.6h7.5v7.5h-7.5zM1411.4 1709.5h7.5v7.5h-7.5zM1414.6 1708.9h7.5v7.5h-7.5zM1305.4 1721.6h7.5v7.5h-7.5zM1307.8 1725.2h7.5v7.5h-7.5zM1311.5 1718.2h7.5v7.5h-7.5zM1309.6 1726.1h7.5v7.5h-7.5zM1305.3 1723.3h7.5v7.5h-7.5zM1320.1 1721.9h7.5v7.5h-7.5zM1320.9 1724.8h7.5v7.5h-7.5zM1321.5 1715.6h7.5v7.5h-7.5zM1324.0 1717.5h7.5v7.5h-7.5zM1321.4 1725.8h7.5v7.5h-7.5zM1329.0 1720.4h7.5v7.5h-7.5zM1332.2 1725.8h7.5v7.5h-7.5zM1337.9 1718.2h7.5v7.5h-7.5zM1330.7 1724.4h7.5v7.5h-7.5zM1339.5 1722.1h7.5v7.5h-7.5zM1340.4 1715.3h7.5v7.5h-7.5zM1337.9 1721.4h7.5v7.5h-7.5zM1345.6 1720.0h7.5v7.5h-7.5zM1345.1 1714.8h7.5v7.5h-7.5zM1352.2 1722.8h7.5v7.5h-7.5zM1344.6 1717.0h7.5v7.5h-7.5zM1342.8 1722.5h7.5v7.5h-7.5zM1343.7 1715.0h7.5v7.5h-7.5zM1348.9 1716.4h7.5v7.5h-7.5zM1347.7 1721.2h7.5v7.5h-7.5zM1361.4 1724.9h7.5v7.5h-7.5zM1359.7 1720.0h7.5v7.5h-7.5zM1376.2 1724.9h7.5v7.5h-7.5zM1368.1 1716.1h7.5v7.5h-7.5zM1376.9 1718.6h7.5v7.5h-7.5zM1379.6 1717.2h7.5v7.5h-7.5zM1378.2 1725.3h7.5v7.5h-7.5zM1392.2 1719.9h7.5v7.5h-7.5zM1396.7 1719.0h7.5v7.5h-7.5zM1398.0 1718.9h7.5v7.5h-7.5zM1404.5 1721.9h7.5v7.5h-7.5zM1420.8 1717.0h7.5v7.5h-7.5zM1420.8 1719.6h7.5v7.5h-7.5zM1424.3 1726.1h7.5v7.5h-7.5zM1429.4 1717.2h7.5v7.5h-7.5zM1426.1 1718.0h7.5v7.5h-7.5zM1309.2 1728.6h7.5v7.5h-7.5zM1315.5 1736.7h7.5v7.5h-7.5zM1305.4 1726.6h7.5v7.5h-7.5zM1311.3 1727.9h7.5v7.5h-7.5zM1311.5 1734.5h7.5v7.5h-7.5zM1319.8 1737.9h7.5v7.5h-7.5zM1322.0 1736.9h7.5v7.5h-7.5zM1322.1 1736.9h7.5v7.5h-7.5zM1324.0 1734.2h7.5v7.5h-7.5zM1320.9 1734.7h7.5v7.5h-7.5zM1317.8 1738.0h7.5v7.5h-7.5zM1321.3 1734.1h7.5v7.5h-7.5zM1327.3 1731.1h7.5v7.5h-7.5zM1318.5 1737.6h7.5v7.5h-7.5zM1320.1 1734.2h7.5v7.5h-7.5zM1328.7 1726.3h7.5v7.5h-7.5zM1323.5 1732.4h7.5v7.5h-7.5zM1324.1 1730.0h7.5v7.5h-7.5zM1334.8 1737.1h7.5v7.5h-7.5zM1336.9 1730.0h7.5v7.5h-7.5zM1333.3 1730.4h7.5v7.5h-7.5zM1335.0 1737.7h7.5v7.5h-7.5zM1334.0 1735.0h7.5v7.5h-7.5zM1345.5 1736.2h7.5v7.5h-7.5zM1341.9 1737.1h7.5v7.5h-7.5zM1349.7 1726.5h7.5v7.5h-7.5zM1345.9 1737.0h7.5v7.5h-7.5zM1346.1 1734.8h7.5v7.5h-7.5zM1364.1 1736.6h7.5v7.5h-7.5zM1358.3 1728.2h7.5v7.5h-7.5zM1359.5 1731.8h7.5v7.5h-7.5zM1359.8 1731.9h7.5v7.5h-7.5zM1373.3 1737.4h7.5v7.5h-7.5zM1367.2 1727.7h7.5v7.5h-7.5zM1380.3 1730.1h7.5v7.5h-7.5zM1382.6 1730.2h7.5v7.5h-7.5zM1380.5 1726.4h7.5v7.5h-7.5zM1383.2 1734.8h7.5v7.5h-7.5zM1397.6 1727.9h7.5v7.5h-7.5zM1396.8 1726.8h7.5v7.5h-7.5zM1393.2 1736.7h7.5v7.5h-7.5zM1407.2 1737.2h7.5v7.5h-7.5zM1408.2 1728.5h7.5v7.5h-7.5zM1410.0 1726.8h7.5v7.5h-7.5zM1419.6 1736.6h7.5v7.5h-7.5zM1421.8 1733.8h7.5v7.5h-7.5zM1422.2 1726.3h7.5v7.5h-7.5zM1420.7 1736.2h7.5v7.5h-7.5zM1427.5 1730.1h7.5v7.5h-7.5zM1437.6 1733.4h7.5v7.5h-7.5zM1311.1 1742.4h7.5v7.5h-7.5zM1310.7 1743.0h7.5v7.5h-7.5zM1314.1 1747.0h7.5v7.5h-7.5zM1312.5 1744.5h7.5v7.5h-7.5zM1305.8 1747.5h7.5v7.5h-7.5zM1310.0 1747.5h7.5v7.5h-7.5zM1315.6 1740.7h7.5v7.5h-7.5zM1324.9 1743.8h7.5v7.5h-7.5zM1317.4 1745.9h7.5v7.5h-7.5zM1325.1 1739.8h7.5v7.5h-7.5zM1327.8 1739.6h7.5v7.5h-7.5zM1320.9 1740.4h7.5v7.5h-7.5zM1319.7 1741.6h7.5v7.5h-7.5zM1333.0 1748.5h7.5v7.5h-7.5zM1337.0 1742.6h7.5v7.5h-7.5zM1340.5 1738.5h7.5v7.5h-7.5zM1337.7 1738.7h7.5v7.5h-7.5zM1333.9 1749.2h7.5v7.5h-7.5zM1338.6 1745.1h7.5v7.5h-7.5zM1336.7 1739.9h7.5v7.5h-7.5zM1333.6 1743.1h7.5v7.5h-7.5zM1340.3 1742.5h7.5v7.5h-7.5zM1349.9 1745.1h7.5v7.5h-7.5zM1344.3 1743.1h7.5v7.5h-7.5zM1343.2 1749.5h7.5v7.5h-7.5zM1344.6 1745.2h7.5v7.5h-7.5zM1345.0 1749.0h7.5v7.5h-7.5zM1348.3 1747.0h7.5v7.5h-7.5zM1359.6 1742.0h7.5v7.5h-7.5zM1356.1 1746.5h7.5v7.5h-7.5zM1369.8 1748.6h7.5v7.5h-7.5zM1374.3 1748.5h7.5v7.5h-7.5zM1375.0 1738.4h7.5v7.5h-7.5zM1372.4 1749.1h7.5v7.5h-7.5zM1372.4 1743.3h7.5v7.5h-7.5zM1372.6 1749.3h7.5v7.5h-7.5zM1381.2 1746.7h7.5v7.5h-7.5zM1398.4 1739.1h7.5v7.5h-7.5zM1394.3 1739.3h7.5v7.5h-7.5zM1398.7 1748.2h7.5v7.5h-7.5zM1397.9 1745.1h7.5v7.5h-7.5zM1391.5 1739.1h7.5v7.5h-7.5zM1408.6 1741.5h7.5v7.5h-7.5zM1410.2 1738.5h7.5v7.5h-7.5zM1402.5 1746.8h7.5v7.5h-7.5zM1420.5 1745.0h7.5v7.5h-7.5zM1413.7 1742.9h7.5v7.5h-7.5zM1431.6 1748.1h7.5v7.5h-7.5zM1430.3 1746.1h7.5v7.5h-7.5zM1430.8 1743.0h7.5v7.5h-7.5zM1439.8 1742.9h7.5v7.5h-7.5zM1310.1 1751.7h7.5v7.5h-7.5zM1310.3 1752.3h7.5v7.5h-7.5zM1311.0 1752.8h7.5v7.5h-7.5zM1305.6 1759.4h7.5v7.5h-7.5zM1311.8 1754.6h7.5v7.5h-7.5zM1323.4 1755.0h7.5v7.5h-7.5zM1323.6 1760.3h7.5v7.5h-7.5zM1321.0 1755.9h7.5v7.5h-7.5zM1319.1 1753.3h7.5v7.5h-7.5zM1323.7 1751.8h7.5v7.5h-7.5zM1323.7 1758.4h7.5v7.5h-7.5zM1322.2 1762.0h7.5v7.5h-7.5zM1334.8 1753.0h7.5v7.5h-7.5zM1338.2 1757.1h7.5v7.5h-7.5zM1333.6 1756.8h7.5v7.5h-7.5zM1333.6 1757.9h7.5v7.5h-7.5zM1340.4 1751.1h7.5v7.5h-7.5zM1348.1 1756.0h7.5v7.5h-7.5zM1352.4 1753.3h7.5v7.5h-7.5zM1347.7 1757.3h7.5v7.5h-7.5zM1346.9 1758.6h7.5v7.5h-7.5zM1360.7 1757.4h7.5v7.5h-7.5zM1360.2 1755.4h7.5v7.5h-7.5zM1365.1 1751.6h7.5v7.5h-7.5zM1357.1 1760.7h7.5v7.5h-7.5zM1364.2 1753.1h7.5v7.5h-7.5zM1359.5 1750.5h7.5v7.5h-7.5zM1358.4 1755.5h7.5v7.5h-7.5zM1363.8 1750.5h7.5v7.5h-7.5zM1355.6 1750.7h7.5v7.5h-7.5zM1355.5 1760.6h7.5v7.5h-7.5zM1358.2 1759.3h7.5v7.5h-7.5zM1371.0 1754.3h7.5v7.5h-7.5zM1368.7 1762.0h7.5v7.5h-7.5zM1375.2 1752.8h7.5v7.5h-7.5zM1367.9 1755.2h7.5v7.5h-7.5zM1370.0 1757.9h7.5v7.5h-7.5zM1367.0 1750.3h7.5v7.5h-7.5zM1368.1 1755.2h7.5v7.5h-7.5zM1368.4 1750.8h7.5v7.5h-7.5zM1384.7 1760.1h7.5v7.5h-7.5zM1384.9 1757.8h7.5v7.5h-7.5zM1387.9 1752.5h7.5v7.5h-7.5zM1396.8 1761.1h7.5v7.5h-7.5zM1393.5 1752.8h7.5v7.5h-7.5zM1397.1 1751.2h7.5v7.5h-7.5zM1390.6 1753.1h7.5v7.5h-7.5zM1394.0 1750.5h7.5v7.5h-7.5zM1410.4 1753.8h7.5v7.5h-7.5zM1403.6 1760.3h7.5v7.5h-7.5zM1410.3 1762.0h7.5v7.5h-7.5zM1415.2 1759.1h7.5v7.5h-7.5zM1422.9 1754.2h7.5v7.5h-7.5zM1415.8 1754.2h7.5v7.5h-7.5zM1426.1 1760.1h7.5v7.5h-7.5zM1429.1 1750.4h7.5v7.5h-7.5zM1438.5 1757.7h7.5v7.5h-7.5zM1449.6 1752.8h7.5v7.5h-7.5zM1312.8 1768.9h7.5v7.5h-7.5zM1308.3 1764.3h7.5v7.5h-7.5zM1307.2 1773.9h7.5v7.5h-7.5zM1317.0 1771.2h7.5v7.5h-7.5zM1314.0 1766.1h7.5v7.5h-7.5zM1309.6 1770.3h7.5v7.5h-7.5zM1313.5 1767.7h7.5v7.5h-7.5zM1315.1 1769.5h7.5v7.5h-7.5zM1326.5 1771.8h7.5v7.5h-7.5zM1323.2 1769.6h7.5v7.5h-7.5zM1325.8 1765.2h7.5v7.5h-7.5zM1328.9 1769.2h7.5v7.5h-7.5zM1326.1 1771.4h7.5v7.5h-7.5zM1323.3 1770.9h7.5v7.5h-7.5zM1338.0 1765.5h7.5v7.5h-7.5zM1329.3 1768.8h7.5v7.5h-7.5zM1336.0 1768.3h7.5v7.5h-7.5zM1332.6 1762.8h7.5v7.5h-7.5zM1337.0 1768.7h7.5v7.5h-7.5zM1340.9 1771.1h7.5v7.5h-7.5zM1337.6 1771.7h7.5v7.5h-7.5zM1334.9 1767.9h7.5v7.5h-7.5zM1339.1 1772.4h7.5v7.5h-7.5zM1337.2 1772.7h7.5v7.5h-7.5zM1339.6 1763.0h7.5v7.5h-7.5zM1339.7 1764.0h7.5v7.5h-7.5zM1341.9 1768.1h7.5v7.5h-7.5zM1345.3 1766.1h7.5v7.5h-7.5zM1347.0 1774.0h7.5v7.5h-7.5zM1352.0 1772.1h7.5v7.5h-7.5zM1344.5 1763.1h7.5v7.5h-7.5zM1360.7 1762.7h7.5v7.5h-7.5zM1361.3 1765.4h7.5v7.5h-7.5zM1362.2 1769.6h7.5v7.5h-7.5zM1353.7 1763.2h7.5v7.5h-7.5zM1361.6 1766.7h7.5v7.5h-7.5zM1370.6 1773.0h7.5v7.5h-7.5zM1376.3 1769.7h7.5v7.5h-7.5zM1375.7 1774.2h7.5v7.5h-7.5zM1376.3 1772.3h7.5v7.5h-7.5zM1372.1 1762.5h7.5v7.5h-7.5zM1369.7 1769.4h7.5v7.5h-7.5zM1371.1 1772.2h7.5v7.5h-7.5zM1369.3 1769.7h7.5v7.5h-7.5zM1375.0 1763.5h7.5v7.5h-7.5zM1370.4 1762.8h7.5v7.5h-7.5zM1370.0 1764.2h7.5v7.5h-7.5zM1375.3 1773.0h7.5v7.5h-7.5zM1367.9 1762.4h7.5v7.5h-7.5zM1388.9 1770.3h7.5v7.5h-7.5zM1378.2 1774.1h7.5v7.5h-7.5zM1382.7 1769.4h7.5v7.5h-7.5zM1379.4 1765.4h7.5v7.5h-7.5zM1382.4 1766.2h7.5v7.5h-7.5zM1390.6 1768.9h7.5v7.5h-7.5zM1396.1 1768.4h7.5v7.5h-7.5zM1405.7 1765.6h7.5v7.5h-7.5zM1407.2 1773.7h7.5v7.5h-7.5zM1410.1 1762.7h7.5v7.5h-7.5zM1407.1 1773.4h7.5v7.5h-7.5zM1424.8 1766.0h7.5v7.5h-7.5zM1415.9 1771.6h7.5v7.5h-7.5zM1435.2 1762.3h7.5v7.5h-7.5zM1428.2 1773.1h7.5v7.5h-7.5zM1433.9 1767.5h7.5v7.5h-7.5zM1449.1 1762.9h7.5v7.5h-7.5zM1452.7 1764.9h7.5v7.5h-7.5zM1311.3 1783.0h7.5v7.5h-7.5zM1308.8 1775.7h7.5v7.5h-7.5zM1311.4 1781.2h7.5v7.5h-7.5zM1307.0 1783.6h7.5v7.5h-7.5zM1305.5 1774.9h7.5v7.5h-7.5zM1326.5 1786.0h7.5v7.5h-7.5zM1317.8 1781.0h7.5v7.5h-7.5zM1328.5 1784.2h7.5v7.5h-7.5zM1326.5 1781.2h7.5v7.5h-7.5zM1328.3 1781.7h7.5v7.5h-7.5zM1326.2 1778.6h7.5v7.5h-7.5zM1330.8 1783.4h7.5v7.5h-7.5zM1336.6 1775.0h7.5v7.5h-7.5zM1340.6 1777.1h7.5v7.5h-7.5zM1339.8 1776.0h7.5v7.5h-7.5zM1342.1 1778.4h7.5v7.5h-7.5zM1342.5 1775.0h7.5v7.5h-7.5zM1350.1 1783.7h7.5v7.5h-7.5zM1353.2 1779.6h7.5v7.5h-7.5zM1352.6 1782.2h7.5v7.5h-7.5zM1344.3 1781.0h7.5v7.5h-7.5zM1342.5 1775.7h7.5v7.5h-7.5zM1356.2 1785.2h7.5v7.5h-7.5zM1360.7 1783.9h7.5v7.5h-7.5zM1363.4 1777.6h7.5v7.5h-7.5zM1362.8 1782.4h7.5v7.5h-7.5zM1359.4 1779.3h7.5v7.5h-7.5zM1357.6 1783.5h7.5v7.5h-7.5zM1354.8 1784.4h7.5v7.5h-7.5zM1358.9 1781.4h7.5v7.5h-7.5zM1355.4 1783.7h7.5v7.5h-7.5zM1354.8 1785.6h7.5v7.5h-7.5zM1362.5 1778.7h7.5v7.5h-7.5zM1363.3 1785.4h7.5v7.5h-7.5zM1357.2 1782.4h7.5v7.5h-7.5zM1360.4 1776.8h7.5v7.5h-7.5zM1362.2 1784.7h7.5v7.5h-7.5zM1357.4 1776.2h7.5v7.5h-7.5zM1363.7 1777.9h7.5v7.5h-7.5zM1356.6 1783.0h7.5v7.5h-7.5zM1355.5 1785.4h7.5v7.5h-7.5zM1374.1 1775.8h7.5v7.5h-7.5zM1371.3 1780.2h7.5v7.5h-7.5zM1375.6 1783.8h7.5v7.5h-7.5zM1373.6 1785.6h7.5v7.5h-7.5zM1371.6 1780.0h7.5v7.5h-7.5zM1368.6 1779.3h7.5v7.5h-7.5zM1374.8 1778.4h7.5v7.5h-7.5zM1386.4 1779.0h7.5v7.5h-7.5zM1378.9 1774.3h7.5v7.5h-7.5zM1382.8 1776.9h7.5v7.5h-7.5zM1377.4 1779.7h7.5v7.5h-7.5zM1382.1 1777.6h7.5v7.5h-7.5zM1391.8 1785.4h7.5v7.5h-7.5zM1391.6 1776.1h7.5v7.5h-7.5zM1391.6 1777.6h7.5v7.5h-7.5zM1405.1 1783.2h7.5v7.5h-7.5zM1410.1 1774.5h7.5v7.5h-7.5zM1405.7 1781.3h7.5v7.5h-7.5zM1406.9 1786.0h7.5v7.5h-7.5zM1409.4 1780.6h7.5v7.5h-7.5zM1407.7 1781.4h7.5v7.5h-7.5zM1408.9 1781.7h7.5v7.5h-7.5zM1421.0 1782.3h7.5v7.5h-7.5zM1419.1 1782.8h7.5v7.5h-7.5zM1438.6 1785.7h7.5v7.5h-7.5zM1308.1 1788.8h7.5v7.5h-7.5zM1317.2 1796.4h7.5v7.5h-7.5zM1307.2 1790.2h7.5v7.5h-7.5zM1315.6 1792.4h7.5v7.5h-7.5zM1313.6 1791.4h7.5v7.5h-7.5zM1316.4 1795.4h7.5v7.5h-7.5zM1312.9 1788.2h7.5v7.5h-7.5zM1324.7 1794.6h7.5v7.5h-7.5zM1319.7 1796.6h7.5v7.5h-7.5zM1322.7 1794.7h7.5v7.5h-7.5zM1327.9 1793.3h7.5v7.5h-7.5zM1329.0 1797.8h7.5v7.5h-7.5zM1323.4 1786.6h7.5v7.5h-7.5zM1338.0 1792.2h7.5v7.5h-7.5zM1340.0 1786.3h7.5v7.5h-7.5zM1339.8 1794.1h7.5v7.5h-7.5zM1337.6 1790.7h7.5v7.5h-7.5zM1335.9 1795.8h7.5v7.5h-7.5zM1336.5 1793.9h7.5v7.5h-7.5zM1332.6 1797.1h7.5v7.5h-7.5zM1336.4 1793.2h7.5v7.5h-7.5zM1351.9 1788.4h7.5v7.5h-7.5zM1353.0 1787.6h7.5v7.5h-7.5zM1348.6 1791.0h7.5v7.5h-7.5zM1348.9 1790.1h7.5v7.5h-7.5zM1348.0 1796.0h7.5v7.5h-7.5zM1350.0 1786.3h7.5v7.5h-7.5zM1347.7 1786.3h7.5v7.5h-7.5zM1352.3 1794.0h7.5v7.5h-7.5zM1365.2 1793.0h7.5v7.5h-7.5zM1356.7 1788.6h7.5v7.5h-7.5zM1361.0 1796.7h7.5v7.5h-7.5zM1354.6 1791.4h7.5v7.5h-7.5zM1357.0 1786.4h7.5v7.5h-7.5zM1373.1 1791.1h7.5v7.5h-7.5zM1373.6 1796.8h7.5v7.5h-7.5zM1368.6 1798.1h7.5v7.5h-7.5zM1369.1 1793.8h7.5v7.5h-7.5zM1367.3 1798.2h7.5v7.5h-7.5zM1367.2 1797.7h7.5v7.5h-7.5zM1371.6 1786.7h7.5v7.5h-7.5zM1378.0 1795.6h7.5v7.5h-7.5zM1377.9 1786.6h7.5v7.5h-7.5zM1385.3 1797.0h7.5v7.5h-7.5zM1389.1 1786.9h7.5v7.5h-7.5zM1396.2 1795.0h7.5v7.5h-7.5zM1398.0 1793.1h7.5v7.5h-7.5zM1400.6 1796.8h7.5v7.5h-7.5zM1393.9 1794.7h7.5v7.5h-7.5zM1394.7 1788.7h7.5v7.5h-7.5zM1412.7 1789.1h7.5v7.5h-7.5zM1407.8 1791.6h7.5v7.5h-7.5zM1408.8 1794.1h7.5v7.5h-7.5zM1406.9 1792.0h7.5v7.5h-7.5zM1413.9 1798.1h7.5v7.5h-7.5zM1414.8 1794.5h7.5v7.5h-7.5zM1423.0 1787.9h7.5v7.5h-7.5zM1430.2 1786.7h7.5v7.5h-7.5zM1436.7 1787.4h7.5v7.5h-7.5zM1440.4 1797.3h7.5v7.5h-7.5zM1438.3 1791.2h7.5v7.5h-7.5zM1305.5 1806.4h7.5v7.5h-7.5zM1315.2 1800.0h7.5v7.5h-7.5zM1308.2 1805.3h7.5v7.5h-7.5zM1311.4 1806.0h7.5v7.5h-7.5zM1309.2 1799.0h7.5v7.5h-7.5zM1317.9 1800.5h7.5v7.5h-7.5zM1319.3 1801.6h7.5v7.5h-7.5zM1323.5 1800.9h7.5v7.5h-7.5zM1319.3 1800.0h7.5v7.5h-7.5zM1325.7 1807.4h7.5v7.5h-7.5zM1320.7 1809.8h7.5v7.5h-7.5zM1321.2 1804.6h7.5v7.5h-7.5zM1328.0 1806.0h7.5v7.5h-7.5zM1338.4 1801.5h7.5v7.5h-7.5zM1333.8 1804.2h7.5v7.5h-7.5zM1339.8 1800.3h7.5v7.5h-7.5zM1332.6 1799.8h7.5v7.5h-7.5zM1334.1 1802.5h7.5v7.5h-7.5zM1340.5 1806.0h7.5v7.5h-7.5zM1340.3 1807.2h7.5v7.5h-7.5zM1331.3 1799.4h7.5v7.5h-7.5zM1329.7 1799.3h7.5v7.5h-7.5zM1340.1 1810.2h7.5v7.5h-7.5zM1334.3 1807.6h7.5v7.5h-7.5zM1335.1 1806.3h7.5v7.5h-7.5zM1346.5 1808.8h7.5v7.5h-7.5zM1341.3 1806.3h7.5v7.5h-7.5zM1352.6 1802.8h7.5v7.5h-7.5zM1341.9 1805.6h7.5v7.5h-7.5zM1346.3 1810.0h7.5v7.5h-7.5zM1348.9 1803.7h7.5v7.5h-7.5zM1351.6 1807.1h7.5v7.5h-7.5zM1358.3 1798.4h7.5v7.5h-7.5zM1361.2 1808.1h7.5v7.5h-7.5zM1353.6 1807.1h7.5v7.5h-7.5zM1357.0 1803.8h7.5v7.5h-7.5zM1353.5 1807.9h7.5v7.5h-7.5zM1353.5 1805.6h7.5v7.5h-7.5zM1357.9 1809.4h7.5v7.5h-7.5zM1357.8 1803.3h7.5v7.5h-7.5zM1358.8 1802.9h7.5v7.5h-7.5zM1359.9 1809.5h7.5v7.5h-7.5zM1372.9 1807.9h7.5v7.5h-7.5zM1372.4 1799.2h7.5v7.5h-7.5zM1374.6 1809.8h7.5v7.5h-7.5zM1372.2 1806.3h7.5v7.5h-7.5zM1366.6 1801.4h7.5v7.5h-7.5zM1370.5 1798.8h7.5v7.5h-7.5zM1377.6 1808.1h7.5v7.5h-7.5zM1377.7 1810.0h7.5v7.5h-7.5zM1386.3 1809.9h7.5v7.5h-7.5zM1378.1 1805.5h7.5v7.5h-7.5zM1387.0 1809.5h7.5v7.5h-7.5zM1378.7 1798.4h7.5v7.5h-7.5zM1386.8 1798.3h7.5v7.5h-7.5zM1388.2 1799.9h7.5v7.5h-7.5zM1398.8 1799.5h7.5v7.5h-7.5zM1393.6 1798.6h7.5v7.5h-7.5zM1389.9 1803.9h7.5v7.5h-7.5zM1395.9 1810.0h7.5v7.5h-7.5zM1400.9 1801.1h7.5v7.5h-7.5zM1395.7 1809.4h7.5v7.5h-7.5zM1400.7 1799.5h7.5v7.5h-7.5zM1392.1 1800.5h7.5v7.5h-7.5zM1409.8 1809.3h7.5v7.5h-7.5zM1401.4 1800.7h7.5v7.5h-7.5zM1409.4 1800.7h7.5v7.5h-7.5zM1401.9 1807.3h7.5v7.5h-7.5zM1420.0 1799.2h7.5v7.5h-7.5zM1424.6 1804.9h7.5v7.5h-7.5zM1414.1 1798.9h7.5v7.5h-7.5zM1416.3 1802.0h7.5v7.5h-7.5zM1414.9 1803.7h7.5v7.5h-7.5zM1415.4 1804.1h7.5v7.5h-7.5zM1432.5 1805.6h7.5v7.5h-7.5zM1436.8 1805.0h7.5v7.5h-7.5zM1449.0 1807.8h7.5v7.5h-7.5zM1444.5 1807.8h7.5v7.5h-7.5zM1453.7 1809.7h7.5v7.5h-7.5zM1452.4 1802.0h7.5v7.5h-7.5zM1469.6 1801.4h7.5v7.5h-7.5zM1481.1 1804.8h7.5v7.5h-7.5zM1312.0 1820.8h7.5v7.5h-7.5zM1310.5 1815.2h7.5v7.5h-7.5zM1315.5 1812.8h7.5v7.5h-7.5zM1316.9 1812.5h7.5v7.5h-7.5zM1312.0 1817.4h7.5v7.5h-7.5zM1313.5 1812.2h7.5v7.5h-7.5zM1305.6 1820.7h7.5v7.5h-7.5zM1325.0 1812.6h7.5v7.5h-7.5zM1319.5 1814.0h7.5v7.5h-7.5zM1325.6 1816.0h7.5v7.5h-7.5zM1329.0 1813.3h7.5v7.5h-7.5zM1322.0 1810.9h7.5v7.5h-7.5zM1322.2 1817.8h7.5v7.5h-7.5zM1325.0 1813.0h7.5v7.5h-7.5zM1325.9 1810.5h7.5v7.5h-7.5zM1322.6 1810.8h7.5v7.5h-7.5zM1319.6 1820.7h7.5v7.5h-7.5zM1331.3 1822.1h7.5v7.5h-7.5zM1336.9 1815.2h7.5v7.5h-7.5zM1340.7 1821.8h7.5v7.5h-7.5zM1339.5 1818.1h7.5v7.5h-7.5zM1340.8 1811.8h7.5v7.5h-7.5zM1339.9 1811.0h7.5v7.5h-7.5zM1333.4 1817.6h7.5v7.5h-7.5zM1331.4 1817.4h7.5v7.5h-7.5zM1344.8 1812.9h7.5v7.5h-7.5zM1350.5 1811.5h7.5v7.5h-7.5zM1352.8 1811.9h7.5v7.5h-7.5zM1345.6 1816.0h7.5v7.5h-7.5zM1344.9 1821.1h7.5v7.5h-7.5zM1350.0 1816.8h7.5v7.5h-7.5zM1343.7 1820.4h7.5v7.5h-7.5zM1358.7 1810.8h7.5v7.5h-7.5zM1365.0 1820.7h7.5v7.5h-7.5zM1356.0 1814.5h7.5v7.5h-7.5zM1363.7 1813.4h7.5v7.5h-7.5zM1362.6 1810.4h7.5v7.5h-7.5zM1357.8 1819.0h7.5v7.5h-7.5zM1360.2 1814.5h7.5v7.5h-7.5zM1373.5 1821.8h7.5v7.5h-7.5zM1375.8 1820.7h7.5v7.5h-7.5zM1369.8 1816.3h7.5v7.5h-7.5zM1365.5 1821.0h7.5v7.5h-7.5zM1370.2 1811.3h7.5v7.5h-7.5zM1366.8 1815.1h7.5v7.5h-7.5zM1383.0 1813.0h7.5v7.5h-7.5zM1380.3 1812.7h7.5v7.5h-7.5zM1383.3 1816.5h7.5v7.5h-7.5zM1377.5 1812.3h7.5v7.5h-7.5zM1396.8 1821.5h7.5v7.5h-7.5zM1391.3 1820.0h7.5v7.5h-7.5zM1401.1 1815.0h7.5v7.5h-7.5zM1392.2 1813.7h7.5v7.5h-7.5zM1410.9 1816.7h7.5v7.5h-7.5zM1401.6 1820.3h7.5v7.5h-7.5zM1405.6 1819.8h7.5v7.5h-7.5zM1415.2 1821.7h7.5v7.5h-7.5zM1418.9 1819.9h7.5v7.5h-7.5zM1434.4 1814.2h7.5v7.5h-7.5zM1430.7 1815.9h7.5v7.5h-7.5zM1432.7 1817.7h7.5v7.5h-7.5zM1427.3 1821.5h7.5v7.5h-7.5zM1446.7 1821.8h7.5v7.5h-7.5zM1443.0 1820.7h7.5v7.5h-7.5zM1438.9 1814.5h7.5v7.5h-7.5zM1449.7 1815.1h7.5v7.5h-7.5zM1450.5 1812.1h7.5v7.5h-7.5zM1473.2 1814.8h7.5v7.5h-7.5zM1468.2 1813.5h7.5v7.5h-7.5zM1464.9 1813.3h7.5v7.5h-7.5zM1474.1 1820.3h7.5v7.5h-7.5zM1310.8 1833.6h7.5v7.5h-7.5zM1312.1 1830.4h7.5v7.5h-7.5zM1316.7 1826.4h7.5v7.5h-7.5zM1305.5 1827.9h7.5v7.5h-7.5zM1313.8 1833.8h7.5v7.5h-7.5zM1314.8 1824.2h7.5v7.5h-7.5zM1309.5 1833.6h7.5v7.5h-7.5zM1317.8 1826.8h7.5v7.5h-7.5zM1327.5 1823.0h7.5v7.5h-7.5zM1324.6 1827.0h7.5v7.5h-7.5zM1319.6 1822.9h7.5v7.5h-7.5zM1317.9 1832.5h7.5v7.5h-7.5zM1332.9 1826.7h7.5v7.5h-7.5zM1340.9 1823.8h7.5v7.5h-7.5zM1332.7 1832.3h7.5v7.5h-7.5zM1351.0 1828.3h7.5v7.5h-7.5zM1343.8 1823.8h7.5v7.5h-7.5zM1361.5 1827.0h7.5v7.5h-7.5zM1363.0 1828.1h7.5v7.5h-7.5zM1353.8 1832.3h7.5v7.5h-7.5zM1355.5 1832.6h7.5v7.5h-7.5zM1363.5 1826.6h7.5v7.5h-7.5zM1363.9 1832.4h7.5v7.5h-7.5zM1363.8 1824.9h7.5v7.5h-7.5zM1357.5 1824.4h7.5v7.5h-7.5zM1357.5 1830.1h7.5v7.5h-7.5zM1354.7 1827.2h7.5v7.5h-7.5zM1365.2 1831.3h7.5v7.5h-7.5zM1361.5 1829.4h7.5v7.5h-7.5zM1360.3 1832.5h7.5v7.5h-7.5zM1364.6 1822.7h7.5v7.5h-7.5zM1361.2 1833.0h7.5v7.5h-7.5zM1360.6 1832.6h7.5v7.5h-7.5zM1364.6 1831.1h7.5v7.5h-7.5zM1368.9 1823.8h7.5v7.5h-7.5zM1371.7 1825.2h7.5v7.5h-7.5zM1365.6 1828.3h7.5v7.5h-7.5zM1376.8 1822.4h7.5v7.5h-7.5zM1375.0 1828.7h7.5v7.5h-7.5zM1372.1 1833.4h7.5v7.5h-7.5zM1373.9 1830.7h7.5v7.5h-7.5zM1370.2 1830.1h7.5v7.5h-7.5zM1368.8 1832.1h7.5v7.5h-7.5zM1370.3 1823.4h7.5v7.5h-7.5zM1376.3 1825.9h7.5v7.5h-7.5zM1374.9 1823.8h7.5v7.5h-7.5zM1366.9 1824.7h7.5v7.5h-7.5zM1375.1 1829.9h7.5v7.5h-7.5zM1367.3 1829.2h7.5v7.5h-7.5zM1368.5 1829.4h7.5v7.5h-7.5zM1377.8 1822.6h7.5v7.5h-7.5zM1386.1 1824.3h7.5v7.5h-7.5zM1389.1 1830.1h7.5v7.5h-7.5zM1380.6 1832.0h7.5v7.5h-7.5zM1395.5 1824.3h7.5v7.5h-7.5zM1401.0 1827.2h7.5v7.5h-7.5zM1390.1 1826.3h7.5v7.5h-7.5zM1393.8 1832.7h7.5v7.5h-7.5zM1394.8 1826.7h7.5v7.5h-7.5zM1389.6 1827.0h7.5v7.5h-7.5zM1397.8 1829.5h7.5v7.5h-7.5zM1397.0 1825.5h7.5v7.5h-7.5zM1399.7 1832.4h7.5v7.5h-7.5zM1402.6 1829.4h7.5v7.5h-7.5zM1401.6 1824.9h7.5v7.5h-7.5zM1403.3 1823.4h7.5v7.5h-7.5zM1402.1 1829.9h7.5v7.5h-7.5zM1408.5 1829.9h7.5v7.5h-7.5zM1408.6 1829.8h7.5v7.5h-7.5zM1407.5 1832.9h7.5v7.5h-7.5zM1422.6 1833.2h7.5v7.5h-7.5zM1423.5 1825.5h7.5v7.5h-7.5zM1417.1 1824.1h7.5v7.5h-7.5zM1414.2 1827.8h7.5v7.5h-7.5zM1413.9 1831.1h7.5v7.5h-7.5zM1417.7 1829.5h7.5v7.5h-7.5zM1414.6 1827.9h7.5v7.5h-7.5zM1422.5 1825.5h7.5v7.5h-7.5zM1434.2 1823.7h7.5v7.5h-7.5zM1426.3 1832.3h7.5v7.5h-7.5zM1448.2 1832.1h7.5v7.5h-7.5zM1446.7 1830.1h7.5v7.5h-7.5zM1447.2 1832.9h7.5v7.5h-7.5zM1457.6 1822.4h7.5v7.5h-7.5zM1460.3 1826.8h7.5v7.5h-7.5zM1460.0 1833.6h7.5v7.5h-7.5zM1452.0 1827.6h7.5v7.5h-7.5zM1471.9 1831.6h7.5v7.5h-7.5zM1475.2 1825.0h7.5v7.5h-7.5zM1312.0 1836.4h7.5v7.5h-7.5zM1309.3 1841.7h7.5v7.5h-7.5zM1310.9 1836.4h7.5v7.5h-7.5zM1306.5 1843.8h7.5v7.5h-7.5zM1311.5 1842.2h7.5v7.5h-7.5zM1317.0 1840.2h7.5v7.5h-7.5zM1312.4 1837.7h7.5v7.5h-7.5zM1307.2 1844.7h7.5v7.5h-7.5zM1311.9 1834.7h7.5v7.5h-7.5zM1313.3 1840.7h7.5v7.5h-7.5zM1310.0 1845.2h7.5v7.5h-7.5zM1310.5 1839.9h7.5v7.5h-7.5zM1318.1 1834.4h7.5v7.5h-7.5zM1326.3 1834.7h7.5v7.5h-7.5zM1337.5 1841.8h7.5v7.5h-7.5zM1340.2 1842.6h7.5v7.5h-7.5zM1333.6 1842.5h7.5v7.5h-7.5zM1333.7 1834.7h7.5v7.5h-7.5zM1332.4 1842.6h7.5v7.5h-7.5zM1341.2 1844.6h7.5v7.5h-7.5zM1341.3 1837.4h7.5v7.5h-7.5zM1347.1 1844.3h7.5v7.5h-7.5zM1345.9 1841.1h7.5v7.5h-7.5zM1346.4 1842.9h7.5v7.5h-7.5zM1351.4 1842.1h7.5v7.5h-7.5zM1348.6 1844.0h7.5v7.5h-7.5zM1342.0 1837.4h7.5v7.5h-7.5zM1353.0 1837.3h7.5v7.5h-7.5zM1352.2 1841.8h7.5v7.5h-7.5zM1342.8 1837.8h7.5v7.5h-7.5zM1343.5 1842.3h7.5v7.5h-7.5zM1342.2 1841.2h7.5v7.5h-7.5zM1341.7 1840.4h7.5v7.5h-7.5zM1347.3 1839.1h7.5v7.5h-7.5zM1342.3 1842.3h7.5v7.5h-7.5zM1355.3 1834.3h7.5v7.5h-7.5zM1360.7 1841.0h7.5v7.5h-7.5zM1362.8 1836.2h7.5v7.5h-7.5zM1358.5 1843.1h7.5v7.5h-7.5zM1360.9 1834.6h7.5v7.5h-7.5zM1375.1 1839.4h7.5v7.5h-7.5zM1366.6 1841.3h7.5v7.5h-7.5zM1370.5 1837.2h7.5v7.5h-7.5zM1366.5 1835.0h7.5v7.5h-7.5zM1388.7 1843.8h7.5v7.5h-7.5zM1384.5 1844.6h7.5v7.5h-7.5zM1384.7 1835.7h7.5v7.5h-7.5zM1383.5 1838.7h7.5v7.5h-7.5zM1394.3 1842.3h7.5v7.5h-7.5zM1393.7 1838.7h7.5v7.5h-7.5zM1395.9 1843.3h7.5v7.5h-7.5zM1396.3 1840.7h7.5v7.5h-7.5zM1390.6 1839.0h7.5v7.5h-7.5zM1399.0 1834.4h7.5v7.5h-7.5zM1393.6 1845.3h7.5v7.5h-7.5zM1406.7 1843.8h7.5v7.5h-7.5zM1401.6 1836.3h7.5v7.5h-7.5zM1406.9 1844.3h7.5v7.5h-7.5zM1405.7 1842.7h7.5v7.5h-7.5zM1410.5 1839.0h7.5v7.5h-7.5zM1405.9 1835.6h7.5v7.5h-7.5zM1409.3 1844.7h7.5v7.5h-7.5zM1403.2 1844.0h7.5v7.5h-7.5zM1413.0 1838.8h7.5v7.5h-7.5zM1403.7 1844.0h7.5v7.5h-7.5zM1424.0 1834.4h7.5v7.5h-7.5zM1424.0 1845.1h7.5v7.5h-7.5zM1422.1 1834.4h7.5v7.5h-7.5zM1416.1 1844.1h7.5v7.5h-7.5zM1414.0 1843.5h7.5v7.5h-7.5zM1424.4 1842.7h7.5v7.5h-7.5zM1424.2 1844.5h7.5v7.5h-7.5zM1422.7 1840.7h7.5v7.5h-7.5zM1433.1 1836.5h7.5v7.5h-7.5zM1426.3 1841.5h7.5v7.5h-7.5zM1430.9 1841.4h7.5v7.5h-7.5zM1434.7 1836.7h7.5v7.5h-7.5zM1427.4 1834.9h7.5v7.5h-7.5zM1426.0 1845.7h7.5v7.5h-7.5zM1436.8 1844.7h7.5v7.5h-7.5zM1432.3 1838.5h7.5v7.5h-7.5zM1443.2 1840.1h7.5v7.5h-7.5zM1442.6 1838.3h7.5v7.5h-7.5zM1445.2 1837.9h7.5v7.5h-7.5zM1445.4 1835.8h7.5v7.5h-7.5zM1441.8 1844.3h7.5v7.5h-7.5zM1443.3 1842.7h7.5v7.5h-7.5zM1438.9 1837.4h7.5v7.5h-7.5zM1442.1 1839.1h7.5v7.5h-7.5zM1458.7 1839.4h7.5v7.5h-7.5zM1457.2 1835.2h7.5v7.5h-7.5zM1453.6 1842.0h7.5v7.5h-7.5zM1468.0 1845.0h7.5v7.5h-7.5zM1471.8 1836.3h7.5v7.5h-7.5zM1475.5 1843.8h7.5v7.5h-7.5zM1477.6 1837.3h7.5v7.5h-7.5zM1495.6 1840.7h7.5v7.5h-7.5zM1502.7 1835.1h7.5v7.5h-7.5zM1511.9 1841.5h7.5v7.5h-7.5zM1308.1 1854.7h7.5v7.5h-7.5zM1305.4 1849.2h7.5v7.5h-7.5zM1311.2 1857.7h7.5v7.5h-7.5zM1305.8 1856.5h7.5v7.5h-7.5zM1305.9 1855.9h7.5v7.5h-7.5zM1307.6 1852.2h7.5v7.5h-7.5zM1319.7 1846.7h7.5v7.5h-7.5zM1319.4 1849.5h7.5v7.5h-7.5zM1324.2 1848.7h7.5v7.5h-7.5zM1326.9 1853.2h7.5v7.5h-7.5zM1329.1 1848.2h7.5v7.5h-7.5zM1329.6 1851.0h7.5v7.5h-7.5zM1332.8 1858.2h7.5v7.5h-7.5zM1331.6 1856.4h7.5v7.5h-7.5zM1335.2 1846.9h7.5v7.5h-7.5zM1338.7 1849.6h7.5v7.5h-7.5zM1331.3 1848.6h7.5v7.5h-7.5zM1332.5 1853.4h7.5v7.5h-7.5zM1343.5 1851.6h7.5v7.5h-7.5zM1352.1 1852.9h7.5v7.5h-7.5zM1344.4 1857.3h7.5v7.5h-7.5zM1348.8 1852.5h7.5v7.5h-7.5zM1342.5 1848.2h7.5v7.5h-7.5zM1353.8 1848.8h7.5v7.5h-7.5zM1357.2 1855.0h7.5v7.5h-7.5zM1353.6 1846.6h7.5v7.5h-7.5zM1373.2 1854.0h7.5v7.5h-7.5zM1375.5 1856.8h7.5v7.5h-7.5zM1365.9 1854.8h7.5v7.5h-7.5zM1375.8 1855.3h7.5v7.5h-7.5zM1375.1 1856.2h7.5v7.5h-7.5zM1365.9 1853.4h7.5v7.5h-7.5zM1375.5 1855.2h7.5v7.5h-7.5zM1370.6 1851.9h7.5v7.5h-7.5zM1383.1 1852.3h7.5v7.5h-7.5zM1380.0 1856.1h7.5v7.5h-7.5zM1379.1 1852.9h7.5v7.5h-7.5zM1385.8 1851.3h7.5v7.5h-7.5zM1384.0 1855.3h7.5v7.5h-7.5zM1386.8 1850.0h7.5v7.5h-7.5zM1379.4 1846.3h7.5v7.5h-7.5zM1387.1 1853.2h7.5v7.5h-7.5zM1382.8 1857.7h7.5v7.5h-7.5zM1387.0 1857.7h7.5v7.5h-7.5zM1380.2 1857.2h7.5v7.5h-7.5zM1399.6 1855.6h7.5v7.5h-7.5zM1390.3 1855.3h7.5v7.5h-7.5zM1394.5 1857.4h7.5v7.5h-7.5zM1395.6 1852.9h7.5v7.5h-7.5zM1392.5 1846.4h7.5v7.5h-7.5zM1400.9 1849.5h7.5v7.5h-7.5zM1400.0 1849.4h7.5v7.5h-7.5zM1396.5 1857.1h7.5v7.5h-7.5zM1400.9 1849.8h7.5v7.5h-7.5zM1411.4 1857.5h7.5v7.5h-7.5zM1403.7 1857.1h7.5v7.5h-7.5zM1407.3 1853.6h7.5v7.5h-7.5zM1401.6 1856.6h7.5v7.5h-7.5zM1413.5 1855.8h7.5v7.5h-7.5zM1421.0 1849.6h7.5v7.5h-7.5zM1423.2 1853.4h7.5v7.5h-7.5zM1416.1 1850.5h7.5v7.5h-7.5zM1419.8 1847.5h7.5v7.5h-7.5zM1419.1 1847.4h7.5v7.5h-7.5zM1416.5 1853.8h7.5v7.5h-7.5zM1413.5 1853.0h7.5v7.5h-7.5zM1421.3 1847.1h7.5v7.5h-7.5zM1422.5 1852.3h7.5v7.5h-7.5zM1419.2 1853.1h7.5v7.5h-7.5zM1414.6 1857.0h7.5v7.5h-7.5zM1426.8 1856.6h7.5v7.5h-7.5zM1429.5 1851.3h7.5v7.5h-7.5zM1434.6 1856.1h7.5v7.5h-7.5zM1436.7 1856.9h7.5v7.5h-7.5zM1426.5 1853.2h7.5v7.5h-7.5zM1429.3 1847.2h7.5v7.5h-7.5zM1446.4 1850.4h7.5v7.5h-7.5zM1443.4 1851.7h7.5v7.5h-7.5zM1442.1 1846.6h7.5v7.5h-7.5zM1448.1 1854.2h7.5v7.5h-7.5zM1443.7 1849.2h7.5v7.5h-7.5zM1440.5 1853.1h7.5v7.5h-7.5zM1456.9 1852.5h7.5v7.5h-7.5zM1453.0 1853.7h7.5v7.5h-7.5zM1450.9 1848.2h7.5v7.5h-7.5zM1451.5 1856.3h7.5v7.5h-7.5zM1449.9 1856.9h7.5v7.5h-7.5zM1458.0 1855.5h7.5v7.5h-7.5zM1468.0 1857.7h7.5v7.5h-7.5zM1465.3 1850.4h7.5v7.5h-7.5zM1479.3 1857.5h7.5v7.5h-7.5zM1484.0 1855.6h7.5v7.5h-7.5zM1475.5 1853.1h7.5v7.5h-7.5zM1487.6 1851.5h7.5v7.5h-7.5zM1490.9 1846.4h7.5v7.5h-7.5zM1488.9 1851.6h7.5v7.5h-7.5zM1492.8 1858.1h7.5v7.5h-7.5zM1508.3 1858.1h7.5v7.5h-7.5zM1531.1 1858.2h7.5v7.5h-7.5zM1316.5 1858.3h7.5v7.5h-7.5zM1308.0 1859.9h7.5v7.5h-7.5zM1307.6 1868.5h7.5v7.5h-7.5zM1313.5 1859.3h7.5v7.5h-7.5zM1309.0 1862.7h7.5v7.5h-7.5zM1311.9 1868.4h7.5v7.5h-7.5zM1307.1 1866.1h7.5v7.5h-7.5zM1309.8 1865.6h7.5v7.5h-7.5zM1315.5 1859.6h7.5v7.5h-7.5zM1310.2 1863.4h7.5v7.5h-7.5zM1313.4 1868.1h7.5v7.5h-7.5zM1326.8 1859.1h7.5v7.5h-7.5zM1320.5 1860.6h7.5v7.5h-7.5zM1327.1 1866.9h7.5v7.5h-7.5zM1323.1 1864.5h7.5v7.5h-7.5zM1323.6 1866.2h7.5v7.5h-7.5zM1326.2 1870.1h7.5v7.5h-7.5zM1336.1 1865.6h7.5v7.5h-7.5zM1339.7 1859.8h7.5v7.5h-7.5zM1337.8 1867.1h7.5v7.5h-7.5zM1341.0 1869.3h7.5v7.5h-7.5zM1332.7 1864.6h7.5v7.5h-7.5zM1339.4 1863.9h7.5v7.5h-7.5zM1330.0 1860.9h7.5v7.5h-7.5zM1342.3 1861.8h7.5v7.5h-7.5zM1341.5 1865.1h7.5v7.5h-7.5zM1347.7 1861.7h7.5v7.5h-7.5zM1345.2 1859.7h7.5v7.5h-7.5zM1360.7 1869.1h7.5v7.5h-7.5zM1358.9 1863.5h7.5v7.5h-7.5zM1356.9 1868.1h7.5v7.5h-7.5zM1358.4 1858.3h7.5v7.5h-7.5zM1360.2 1861.9h7.5v7.5h-7.5zM1365.3 1863.0h7.5v7.5h-7.5zM1375.1 1861.0h7.5v7.5h-7.5zM1367.9 1862.1h7.5v7.5h-7.5zM1368.3 1861.8h7.5v7.5h-7.5zM1384.4 1858.8h7.5v7.5h-7.5zM1388.6 1858.3h7.5v7.5h-7.5zM1380.6 1866.2h7.5v7.5h-7.5zM1382.1 1865.4h7.5v7.5h-7.5zM1377.3 1863.8h7.5v7.5h-7.5zM1387.5 1869.7h7.5v7.5h-7.5zM1386.9 1868.9h7.5v7.5h-7.5zM1380.3 1863.2h7.5v7.5h-7.5zM1385.1 1868.9h7.5v7.5h-7.5zM1387.7 1864.0h7.5v7.5h-7.5zM1381.6 1860.2h7.5v7.5h-7.5zM1378.2 1859.3h7.5v7.5h-7.5zM1381.9 1859.6h7.5v7.5h-7.5zM1391.8 1865.3h7.5v7.5h-7.5zM1391.4 1861.2h7.5v7.5h-7.5zM1391.2 1864.0h7.5v7.5h-7.5zM1389.8 1868.2h7.5v7.5h-7.5zM1395.3 1858.3h7.5v7.5h-7.5zM1391.0 1860.3h7.5v7.5h-7.5zM1410.3 1869.0h7.5v7.5h-7.5zM1404.0 1861.0h7.5v7.5h-7.5zM1411.4 1863.8h7.5v7.5h-7.5zM1406.0 1865.9h7.5v7.5h-7.5zM1411.2 1865.1h7.5v7.5h-7.5zM1412.9 1868.8h7.5v7.5h-7.5zM1411.2 1863.9h7.5v7.5h-7.5zM1407.0 1867.4h7.5v7.5h-7.5zM1412.8 1868.9h7.5v7.5h-7.5zM1409.6 1869.0h7.5v7.5h-7.5zM1402.1 1867.6h7.5v7.5h-7.5zM1415.0 1867.5h7.5v7.5h-7.5zM1417.4 1863.7h7.5v7.5h-7.5zM1424.5 1858.7h7.5v7.5h-7.5zM1436.6 1862.7h7.5v7.5h-7.5zM1431.2 1864.2h7.5v7.5h-7.5zM1436.2 1862.2h7.5v7.5h-7.5zM1434.0 1858.6h7.5v7.5h-7.5zM1439.4 1860.4h7.5v7.5h-7.5zM1444.4 1861.9h7.5v7.5h-7.5zM1440.4 1868.7h7.5v7.5h-7.5zM1447.5 1868.9h7.5v7.5h-7.5zM1442.0 1858.4h7.5v7.5h-7.5zM1438.0 1859.4h7.5v7.5h-7.5zM1441.9 1860.6h7.5v7.5h-7.5zM1439.1 1858.7h7.5v7.5h-7.5zM1445.6 1862.8h7.5v7.5h-7.5zM1443.1 1858.7h7.5v7.5h-7.5zM1447.4 1860.3h7.5v7.5h-7.5zM1452.9 1862.9h7.5v7.5h-7.5zM1458.6 1869.1h7.5v7.5h-7.5zM1450.0 1862.1h7.5v7.5h-7.5zM1455.8 1859.5h7.5v7.5h-7.5zM1455.3 1867.7h7.5v7.5h-7.5zM1450.7 1859.4h7.5v7.5h-7.5zM1451.2 1865.2h7.5v7.5h-7.5zM1471.1 1866.3h7.5v7.5h-7.5zM1471.7 1859.1h7.5v7.5h-7.5zM1470.7 1863.5h7.5v7.5h-7.5zM1471.9 1870.0h7.5v7.5h-7.5zM1463.6 1859.9h7.5v7.5h-7.5zM1484.7 1868.3h7.5v7.5h-7.5zM1483.9 1866.4h7.5v7.5h-7.5zM1479.6 1862.9h7.5v7.5h-7.5zM1481.9 1861.0h7.5v7.5h-7.5zM1491.0 1863.2h7.5v7.5h-7.5zM1490.4 1866.4h7.5v7.5h-7.5zM1502.1 1867.0h7.5v7.5h-7.5zM1500.1 1868.9h7.5v7.5h-7.5zM1505.8 1858.7h7.5v7.5h-7.5zM1520.4 1864.3h7.5v7.5h-7.5zM1510.9 1868.3h7.5v7.5h-7.5zM1529.5 1866.8h7.5v7.5h-7.5zM1541.1 1865.1h7.5v7.5h-7.5zM1551.2 1864.3h7.5v7.5h-7.5zM1587.5 1864.3h7.5v7.5h-7.5zM1310.3 1870.9h7.5v7.5h-7.5zM1317.2 1882.0h7.5v7.5h-7.5zM1306.3 1878.3h7.5v7.5h-7.5zM1313.7 1878.9h7.5v7.5h-7.5zM1308.8 1882.1h7.5v7.5h-7.5zM1323.3 1878.2h7.5v7.5h-7.5zM1327.5 1876.5h7.5v7.5h-7.5zM1320.4 1875.6h7.5v7.5h-7.5zM1318.3 1871.0h7.5v7.5h-7.5zM1320.0 1873.0h7.5v7.5h-7.5zM1324.9 1881.2h7.5v7.5h-7.5zM1321.3 1878.4h7.5v7.5h-7.5zM1330.3 1874.0h7.5v7.5h-7.5zM1331.5 1871.6h7.5v7.5h-7.5zM1336.7 1875.0h7.5v7.5h-7.5zM1333.7 1879.4h7.5v7.5h-7.5zM1334.7 1875.6h7.5v7.5h-7.5zM1338.3 1879.1h7.5v7.5h-7.5zM1349.1 1873.5h7.5v7.5h-7.5zM1350.8 1879.1h7.5v7.5h-7.5zM1342.9 1878.2h7.5v7.5h-7.5zM1345.6 1872.4h7.5v7.5h-7.5zM1341.4 1876.2h7.5v7.5h-7.5zM1343.0 1871.4h7.5v7.5h-7.5zM1347.3 1871.3h7.5v7.5h-7.5zM1358.0 1871.6h7.5v7.5h-7.5zM1361.7 1873.9h7.5v7.5h-7.5zM1364.4 1880.6h7.5v7.5h-7.5zM1370.7 1872.2h7.5v7.5h-7.5zM1375.9 1870.8h7.5v7.5h-7.5zM1374.2 1877.3h7.5v7.5h-7.5zM1377.2 1877.8h7.5v7.5h-7.5zM1374.1 1880.1h7.5v7.5h-7.5zM1373.8 1870.3h7.5v7.5h-7.5zM1370.3 1878.3h7.5v7.5h-7.5zM1365.4 1877.8h7.5v7.5h-7.5zM1366.0 1871.5h7.5v7.5h-7.5zM1376.9 1878.9h7.5v7.5h-7.5zM1374.3 1878.0h7.5v7.5h-7.5zM1387.1 1881.0h7.5v7.5h-7.5zM1378.0 1872.1h7.5v7.5h-7.5zM1381.5 1879.9h7.5v7.5h-7.5zM1397.0 1873.3h7.5v7.5h-7.5zM1399.0 1872.5h7.5v7.5h-7.5zM1396.8 1877.3h7.5v7.5h-7.5zM1389.7 1877.1h7.5v7.5h-7.5zM1402.5 1870.8h7.5v7.5h-7.5zM1409.9 1877.1h7.5v7.5h-7.5zM1409.7 1877.5h7.5v7.5h-7.5zM1410.1 1881.5h7.5v7.5h-7.5zM1412.6 1880.0h7.5v7.5h-7.5zM1404.1 1873.4h7.5v7.5h-7.5zM1403.7 1874.0h7.5v7.5h-7.5zM1406.6 1876.0h7.5v7.5h-7.5zM1411.7 1874.1h7.5v7.5h-7.5zM1415.6 1876.6h7.5v7.5h-7.5zM1415.6 1872.8h7.5v7.5h-7.5zM1423.8 1871.8h7.5v7.5h-7.5zM1421.2 1882.2h7.5v7.5h-7.5zM1418.8 1881.0h7.5v7.5h-7.5zM1419.1 1870.6h7.5v7.5h-7.5zM1421.1 1870.5h7.5v7.5h-7.5zM1413.6 1880.1h7.5v7.5h-7.5zM1422.2 1878.5h7.5v7.5h-7.5zM1428.0 1872.6h7.5v7.5h-7.5zM1433.4 1878.7h7.5v7.5h-7.5zM1436.2 1875.4h7.5v7.5h-7.5zM1448.9 1879.6h7.5v7.5h-7.5zM1446.0 1872.1h7.5v7.5h-7.5zM1443.5 1871.9h7.5v7.5h-7.5zM1454.7 1872.4h7.5v7.5h-7.5zM1461.1 1876.0h7.5v7.5h-7.5zM1450.0 1881.6h7.5v7.5h-7.5zM1455.7 1873.7h7.5v7.5h-7.5zM1450.9 1880.2h7.5v7.5h-7.5zM1452.4 1878.7h7.5v7.5h-7.5zM1463.2 1880.4h7.5v7.5h-7.5zM1471.7 1878.5h7.5v7.5h-7.5zM1468.7 1876.2h7.5v7.5h-7.5zM1462.6 1880.1h7.5v7.5h-7.5zM1474.8 1880.3h7.5v7.5h-7.5zM1480.7 1878.6h7.5v7.5h-7.5zM1474.4 1871.8h7.5v7.5h-7.5zM1480.8 1877.2h7.5v7.5h-7.5zM1477.5 1881.5h7.5v7.5h-7.5zM1477.1 1877.3h7.5v7.5h-7.5zM1479.4 1877.8h7.5v7.5h-7.5zM1477.2 1873.7h7.5v7.5h-7.5zM1486.7 1870.5h7.5v7.5h-7.5zM1489.7 1876.4h7.5v7.5h-7.5zM1490.2 1873.1h7.5v7.5h-7.5zM1493.1 1873.5h7.5v7.5h-7.5zM1492.4 1881.3h7.5v7.5h-7.5zM1501.7 1882.2h7.5v7.5h-7.5zM1504.7 1875.8h7.5v7.5h-7.5zM1508.8 1876.3h7.5v7.5h-7.5zM1506.7 1876.7h7.5v7.5h-7.5zM1504.9 1872.1h7.5v7.5h-7.5zM1499.8 1878.3h7.5v7.5h-7.5zM1509.4 1871.3h7.5v7.5h-7.5zM1516.2 1875.0h7.5v7.5h-7.5zM1523.7 1876.3h7.5v7.5h-7.5zM1537.7 1876.0h7.5v7.5h-7.5zM1543.5 1876.4h7.5v7.5h-7.5zM1539.3 1881.2h7.5v7.5h-7.5zM1555.1 1871.8h7.5v7.5h-7.5zM1579.4 1882.0h7.5v7.5h-7.5zM1590.4 1873.7h7.5v7.5h-7.5zM1603.8 1874.8h7.5v7.5h-7.5zM1609.6 1875.5h7.5v7.5h-7.5zM1621.4 1880.0h7.5v7.5h-7.5zM1639.0 1882.2h7.5v7.5h-7.5zM1651.3 1878.2h7.5v7.5h-7.5zM1310.0 1892.5h7.5v7.5h-7.5zM1308.5 1888.2h7.5v7.5h-7.5zM1307.3 1885.3h7.5v7.5h-7.5zM1307.8 1886.1h7.5v7.5h-7.5zM1307.7 1892.9h7.5v7.5h-7.5zM1309.8 1886.9h7.5v7.5h-7.5zM1312.6 1887.5h7.5v7.5h-7.5zM1310.6 1885.5h7.5v7.5h-7.5zM1328.7 1892.3h7.5v7.5h-7.5zM1321.6 1885.1h7.5v7.5h-7.5zM1328.5 1892.5h7.5v7.5h-7.5zM1325.0 1883.6h7.5v7.5h-7.5zM1320.8 1888.7h7.5v7.5h-7.5zM1320.7 1891.3h7.5v7.5h-7.5zM1321.2 1885.4h7.5v7.5h-7.5zM1337.9 1894.1h7.5v7.5h-7.5zM1334.6 1883.9h7.5v7.5h-7.5zM1340.7 1884.7h7.5v7.5h-7.5zM1339.3 1890.6h7.5v7.5h-7.5zM1330.2 1893.4h7.5v7.5h-7.5zM1341.0 1889.6h7.5v7.5h-7.5zM1349.1 1889.2h7.5v7.5h-7.5zM1346.8 1891.4h7.5v7.5h-7.5zM1351.5 1884.7h7.5v7.5h-7.5zM1348.2 1882.9h7.5v7.5h-7.5zM1344.4 1886.2h7.5v7.5h-7.5zM1357.5 1890.7h7.5v7.5h-7.5zM1358.0 1891.2h7.5v7.5h-7.5zM1354.8 1883.2h7.5v7.5h-7.5zM1354.1 1891.7h7.5v7.5h-7.5zM1373.2 1893.7h7.5v7.5h-7.5zM1367.3 1889.4h7.5v7.5h-7.5zM1366.4 1885.2h7.5v7.5h-7.5zM1366.4 1884.8h7.5v7.5h-7.5zM1376.2 1884.9h7.5v7.5h-7.5zM1369.2 1885.9h7.5v7.5h-7.5zM1374.2 1887.4h7.5v7.5h-7.5zM1375.0 1885.2h7.5v7.5h-7.5zM1372.7 1885.6h7.5v7.5h-7.5zM1377.4 1890.6h7.5v7.5h-7.5zM1387.3 1893.5h7.5v7.5h-7.5zM1379.3 1882.9h7.5v7.5h-7.5zM1379.0 1889.2h7.5v7.5h-7.5zM1387.4 1890.2h7.5v7.5h-7.5zM1387.3 1887.6h7.5v7.5h-7.5zM1384.9 1892.9h7.5v7.5h-7.5zM1387.6 1888.3h7.5v7.5h-7.5zM1381.8 1884.6h7.5v7.5h-7.5zM1382.1 1887.6h7.5v7.5h-7.5zM1384.5 1893.6h7.5v7.5h-7.5zM1387.7 1883.7h7.5v7.5h-7.5zM1383.5 1885.8h7.5v7.5h-7.5zM1381.5 1893.6h7.5v7.5h-7.5zM1378.3 1888.6h7.5v7.5h-7.5zM1385.6 1883.8h7.5v7.5h-7.5zM1379.9 1883.2h7.5v7.5h-7.5zM1378.4 1886.4h7.5v7.5h-7.5zM1377.8 1889.6h7.5v7.5h-7.5zM1384.8 1882.9h7.5v7.5h-7.5zM1383.8 1887.6h7.5v7.5h-7.5zM1383.2 1891.6h7.5v7.5h-7.5zM1391.8 1884.4h7.5v7.5h-7.5zM1393.0 1883.1h7.5v7.5h-7.5zM1398.6 1887.5h7.5v7.5h-7.5zM1395.4 1888.4h7.5v7.5h-7.5zM1395.7 1893.2h7.5v7.5h-7.5zM1393.8 1889.7h7.5v7.5h-7.5zM1393.1 1894.2h7.5v7.5h-7.5zM1394.7 1886.8h7.5v7.5h-7.5zM1391.5 1885.6h7.5v7.5h-7.5zM1396.1 1885.8h7.5v7.5h-7.5zM1392.3 1887.7h7.5v7.5h-7.5zM1400.3 1884.5h7.5v7.5h-7.5zM1400.2 1885.6h7.5v7.5h-7.5zM1392.9 1891.6h7.5v7.5h-7.5zM1405.3 1884.6h7.5v7.5h-7.5zM1407.5 1888.2h7.5v7.5h-7.5zM1409.8 1882.4h7.5v7.5h-7.5zM1408.7 1888.7h7.5v7.5h-7.5zM1401.7 1890.8h7.5v7.5h-7.5zM1402.8 1883.6h7.5v7.5h-7.5zM1402.4 1891.5h7.5v7.5h-7.5zM1405.9 1886.3h7.5v7.5h-7.5zM1402.9 1885.4h7.5v7.5h-7.5zM1410.3 1886.1h7.5v7.5h-7.5zM1418.5 1892.3h7.5v7.5h-7.5zM1422.0 1886.3h7.5v7.5h-7.5zM1417.0 1887.1h7.5v7.5h-7.5zM1420.8 1889.5h7.5v7.5h-7.5zM1416.4 1882.8h7.5v7.5h-7.5zM1429.0 1885.8h7.5v7.5h-7.5zM1432.7 1886.4h7.5v7.5h-7.5zM1431.8 1884.0h7.5v7.5h-7.5zM1429.7 1892.6h7.5v7.5h-7.5zM1429.6 1885.4h7.5v7.5h-7.5zM1435.3 1888.4h7.5v7.5h-7.5zM1433.2 1890.3h7.5v7.5h-7.5zM1429.8 1891.9h7.5v7.5h-7.5zM1443.4 1882.6h7.5v7.5h-7.5zM1446.9 1892.9h7.5v7.5h-7.5zM1449.1 1891.0h7.5v7.5h-7.5zM1440.4 1890.0h7.5v7.5h-7.5zM1452.0 1886.6h7.5v7.5h-7.5zM1460.1 1882.7h7.5v7.5h-7.5zM1454.8 1892.6h7.5v7.5h-7.5zM1451.0 1890.4h7.5v7.5h-7.5zM1458.8 1893.8h7.5v7.5h-7.5zM1458.0 1884.4h7.5v7.5h-7.5zM1451.3 1891.2h7.5v7.5h-7.5zM1457.2 1882.3h7.5v7.5h-7.5zM1458.6 1885.5h7.5v7.5h-7.5zM1458.9 1887.2h7.5v7.5h-7.5zM1469.0 1891.2h7.5v7.5h-7.5zM1471.3 1888.3h7.5v7.5h-7.5zM1461.9 1889.3h7.5v7.5h-7.5zM1467.0 1884.9h7.5v7.5h-7.5zM1469.7 1889.3h7.5v7.5h-7.5zM1464.4 1887.8h7.5v7.5h-7.5zM1464.2 1894.1h7.5v7.5h-7.5zM1469.4 1886.0h7.5v7.5h-7.5zM1462.5 1892.0h7.5v7.5h-7.5zM1465.2 1891.5h7.5v7.5h-7.5zM1473.1 1889.8h7.5v7.5h-7.5zM1483.7 1887.8h7.5v7.5h-7.5zM1485.2 1893.4h7.5v7.5h-7.5zM1474.5 1886.2h7.5v7.5h-7.5zM1474.3 1886.7h7.5v7.5h-7.5zM1478.7 1884.1h7.5v7.5h-7.5zM1479.8 1883.3h7.5v7.5h-7.5zM1487.2 1890.6h7.5v7.5h-7.5zM1486.9 1891.4h7.5v7.5h-7.5zM1488.3 1883.6h7.5v7.5h-7.5zM1496.8 1884.3h7.5v7.5h-7.5zM1491.8 1885.9h7.5v7.5h-7.5zM1495.5 1887.1h7.5v7.5h-7.5zM1492.1 1892.3h7.5v7.5h-7.5zM1496.7 1883.4h7.5v7.5h-7.5zM1506.0 1890.0h7.5v7.5h-7.5zM1500.9 1887.4h7.5v7.5h-7.5zM1498.9 1887.3h7.5v7.5h-7.5zM1502.8 1883.3h7.5v7.5h-7.5zM1505.2 1893.0h7.5v7.5h-7.5zM1498.0 1887.4h7.5v7.5h-7.5zM1499.3 1890.7h7.5v7.5h-7.5zM1503.8 1890.1h7.5v7.5h-7.5zM1508.0 1884.6h7.5v7.5h-7.5zM1512.5 1890.3h7.5v7.5h-7.5zM1515.1 1887.8h7.5v7.5h-7.5zM1519.0 1890.6h7.5v7.5h-7.5zM1529.2 1886.7h7.5v7.5h-7.5zM1528.2 1888.2h7.5v7.5h-7.5zM1523.1 1887.1h7.5v7.5h-7.5zM1527.9 1890.3h7.5v7.5h-7.5zM1526.6 1882.3h7.5v7.5h-7.5zM1526.3 1888.4h7.5v7.5h-7.5zM1523.4 1893.1h7.5v7.5h-7.5zM1523.0 1893.8h7.5v7.5h-7.5zM1533.2 1888.3h7.5v7.5h-7.5zM1537.4 1888.4h7.5v7.5h-7.5zM1541.6 1889.1h7.5v7.5h-7.5zM1545.1 1893.0h7.5v7.5h-7.5zM1541.2 1888.5h7.5v7.5h-7.5zM1545.9 1885.8h7.5v7.5h-7.5zM1554.5 1893.2h7.5v7.5h-7.5zM1553.8 1890.8h7.5v7.5h-7.5zM1555.4 1890.1h7.5v7.5h-7.5zM1553.8 1891.8h7.5v7.5h-7.5zM1557.3 1891.0h7.5v7.5h-7.5zM1564.7 1888.0h7.5v7.5h-7.5zM1580.6 1891.4h7.5v7.5h-7.5zM1587.7 1892.4h7.5v7.5h-7.5zM1587.3 1891.0h7.5v7.5h-7.5zM1613.4 1888.9h7.5v7.5h-7.5zM1618.2 1892.2h7.5v7.5h-7.5zM1636.5 1883.3h7.5v7.5h-7.5zM1636.1 1883.3h7.5v7.5h-7.5zM1676.8 1892.4h7.5v7.5h-7.5zM1684.8 1885.0h7.5v7.5h-7.5zM1310.3 1894.8h7.5v7.5h-7.5zM1314.5 1895.2h7.5v7.5h-7.5zM1324.5 1896.3h7.5v7.5h-7.5zM1341.1 1896.3h7.5v7.5h-7.5zM1345.0 1896.5h7.5v7.5h-7.5zM1352.6 1896.1h7.5v7.5h-7.5zM1358.0 1897.0h7.5v7.5h-7.5zM1356.1 1895.5h7.5v7.5h-7.5zM1366.8 1897.1h7.5v7.5h-7.5zM1382.3 1897.8h7.5v7.5h-7.5zM1383.7 1896.1h7.5v7.5h-7.5zM1388.3 1897.1h7.5v7.5h-7.5zM1381.9 1897.3h7.5v7.5h-7.5zM1391.3 1896.1h7.5v7.5h-7.5zM1397.3 1896.1h7.5v7.5h-7.5zM1390.3 1898.0h7.5v7.5h-7.5zM1396.6 1897.4h7.5v7.5h-7.5zM1402.5 1897.3h7.5v7.5h-7.5zM1415.7 1894.3h7.5v7.5h-7.5zM1420.2 1896.7h7.5v7.5h-7.5zM1424.1 1896.8h7.5v7.5h-7.5zM1425.5 1897.5h7.5v7.5h-7.5zM1430.8 1897.6h7.5v7.5h-7.5zM1431.6 1897.9h7.5v7.5h-7.5zM1439.0 1896.9h7.5v7.5h-7.5zM1440.0 1897.5h7.5v7.5h-7.5zM1447.4 1895.0h7.5v7.5h-7.5zM1454.3 1897.6h7.5v7.5h-7.5zM1471.0 1897.0h7.5v7.5h-7.5zM1468.4 1894.7h7.5v7.5h-7.5zM1476.3 1897.7h7.5v7.5h-7.5zM1479.8 1896.7h7.5v7.5h-7.5zM1475.5 1896.8h7.5v7.5h-7.5zM1496.5 1896.2h7.5v7.5h-7.5zM1488.6 1894.4h7.5v7.5h-7.5zM1504.6 1896.6h7.5v7.5h-7.5zM1503.5 1895.1h7.5v7.5h-7.5zM1513.9 1894.6h7.5v7.5h-7.5zM1520.1 1896.4h7.5v7.5h-7.5zM1521.4 1896.5h7.5v7.5h-7.5zM1525.8 1896.4h7.5v7.5h-7.5zM1528.6 1896.2h7.5v7.5h-7.5zM1536.7 1894.9h7.5v7.5h-7.5zM1540.2 1897.2h7.5v7.5h-7.5zM1537.8 1894.9h7.5v7.5h-7.5zM1555.7 1896.0h7.5v7.5h-7.5zM1568.4 1897.0h7.5v7.5h-7.5zM1565.4 1896.7h7.5v7.5h-7.5zM1572.4 1895.4h7.5v7.5h-7.5zM1617.0 1895.2h7.5v7.5h-7.5zM1628.4 1895.9h7.5v7.5h-7.5zM1638.8 1896.1h7.5v7.5h-7.5zM1658.4 1894.9h7.5v7.5h-7.5zM1673.7 1801.2h7.5v7.5h-7.5zM1678.2 1867.9h7.5v7.5h-7.5zM1647.9 1884.1h7.5v7.5h-7.5zM1659.4 1876.0h7.5v7.5h-7.5zM1666.0 1879.0h7.5v7.5h-7.5zM1672.8 1878.5h7.5v7.5h-7.5zM1678.6 1879.9h7.5v7.5h-7.5zM1685.6 1881.5h7.5v7.5h-7.5zM1686.3 1874.7h7.5v7.5h-7.5zM1700.3 1878.3h7.5v7.5h-7.5zM1714.2 1872.3h7.5v7.5h-7.5zM1724.6 1884.0h7.5v7.5h-7.5zM1738.0 1882.1h7.5v7.5h-7.5zM1746.6 1881.3h7.5v7.5h-7.5zM1771.9 1877.5h7.5v7.5h-7.5zM1771.8 1881.7h7.5v7.5h-7.5zM1788.4 1884.1h7.5v7.5h-7.5zM1794.6 1880.6h7.5v7.5h-7.5zM1805.1 1878.7h7.5v7.5h-7.5zM1809.1 1876.7h7.5v7.5h-7.5zM1809.8 1874.2h7.5v7.5h-7.5zM1835.6 1876.4h7.5v7.5h-7.5zM1831.4 1876.4h7.5v7.5h-7.5zM1843.0 1882.7h7.5v7.5h-7.5zM1858.7 1881.8h7.5v7.5h-7.5zM1879.4 1873.4h7.5v7.5h-7.5zM1899.7 1883.7h7.5v7.5h-7.5zM1908.3 1880.2h7.5v7.5h-7.5zM1921.0 1873.8h7.5v7.5h-7.5zM1928.5 1880.7h7.5v7.5h-7.5zM1628.4 1893.2h7.5v7.5h-7.5zM1640.8 1890.4h7.5v7.5h-7.5zM1642.5 1894.9h7.5v7.5h-7.5zM1651.6 1889.2h7.5v7.5h-7.5zM1658.0 1893.7h7.5v7.5h-7.5zM1653.2 1886.5h7.5v7.5h-7.5zM1669.3 1893.0h7.5v7.5h-7.5zM1668.8 1895.9h7.5v7.5h-7.5zM1660.9 1890.1h7.5v7.5h-7.5zM1676.6 1895.0h7.5v7.5h-7.5zM1677.2 1892.9h7.5v7.5h-7.5zM1688.8 1894.2h7.5v7.5h-7.5zM1692.6 1885.5h7.5v7.5h-7.5zM1695.8 1893.3h7.5v7.5h-7.5zM1705.3 1890.5h7.5v7.5h-7.5zM1707.8 1887.6h7.5v7.5h-7.5zM1705.9 1888.6h7.5v7.5h-7.5zM1703.6 1895.8h7.5v7.5h-7.5zM1719.2 1893.0h7.5v7.5h-7.5zM1708.9 1889.8h7.5v7.5h-7.5zM1713.2 1892.0h7.5v7.5h-7.5zM1731.4 1892.6h7.5v7.5h-7.5zM1724.0 1891.1h7.5v7.5h-7.5zM1727.8 1894.2h7.5v7.5h-7.5zM1726.0 1888.8h7.5v7.5h-7.5zM1737.0 1894.0h7.5v7.5h-7.5zM1754.3 1893.8h7.5v7.5h-7.5zM1749.2 1889.8h7.5v7.5h-7.5zM1746.0 1895.1h7.5v7.5h-7.5zM1754.1 1893.6h7.5v7.5h-7.5zM1750.3 1895.3h7.5v7.5h-7.5zM1752.5 1892.2h7.5v7.5h-7.5zM1761.3 1891.9h7.5v7.5h-7.5zM1761.1 1893.9h7.5v7.5h-7.5zM1766.4 1895.9h7.5v7.5h-7.5zM1772.0 1896.2h7.5v7.5h-7.5zM1777.2 1892.7h7.5v7.5h-7.5zM1773.3 1891.2h7.5v7.5h-7.5zM1772.0 1895.4h7.5v7.5h-7.5zM1778.3 1888.8h7.5v7.5h-7.5zM1774.0 1893.9h7.5v7.5h-7.5zM1791.9 1895.0h7.5v7.5h-7.5zM1785.9 1889.5h7.5v7.5h-7.5zM1790.1 1893.0h7.5v7.5h-7.5zM1797.4 1893.1h7.5v7.5h-7.5zM1804.0 1893.2h7.5v7.5h-7.5zM1800.3 1891.8h7.5v7.5h-7.5zM1792.7 1889.0h7.5v7.5h-7.5zM1794.8 1890.0h7.5v7.5h-7.5zM1813.2 1888.5h7.5v7.5h-7.5zM1816.1 1893.3h7.5v7.5h-7.5zM1809.9 1894.2h7.5v7.5h-7.5zM1812.8 1886.3h7.5v7.5h-7.5zM1812.2 1892.9h7.5v7.5h-7.5zM1807.2 1894.2h7.5v7.5h-7.5zM1827.0 1889.2h7.5v7.5h-7.5zM1817.2 1894.5h7.5v7.5h-7.5zM1838.8 1890.5h7.5v7.5h-7.5zM1839.2 1895.8h7.5v7.5h-7.5zM1844.9 1895.5h7.5v7.5h-7.5zM1845.5 1892.3h7.5v7.5h-7.5zM1846.0 1895.8h7.5v7.5h-7.5zM1860.9 1886.6h7.5v7.5h-7.5zM1853.9 1889.2h7.5v7.5h-7.5zM1864.0 1886.6h7.5v7.5h-7.5zM1852.9 1891.8h7.5v7.5h-7.5zM1854.5 1890.5h7.5v7.5h-7.5zM1852.7 1885.1h7.5v7.5h-7.5zM1869.2 1887.0h7.5v7.5h-7.5zM1870.5 1893.4h7.5v7.5h-7.5zM1868.0 1886.8h7.5v7.5h-7.5zM1864.5 1893.7h7.5v7.5h-7.5zM1871.1 1895.7h7.5v7.5h-7.5zM1867.2 1896.2h7.5v7.5h-7.5zM1872.2 1890.8h7.5v7.5h-7.5zM1900.1 1893.5h7.5v7.5h-7.5zM1896.1 1894.5h7.5v7.5h-7.5zM1890.4 1893.0h7.5v7.5h-7.5zM1900.7 1889.2h7.5v7.5h-7.5zM1906.9 1895.7h7.5v7.5h-7.5zM1904.9 1895.0h7.5v7.5h-7.5zM1910.0 1885.4h7.5v7.5h-7.5zM1907.2 1895.5h7.5v7.5h-7.5zM1906.2 1895.4h7.5v7.5h-7.5zM1922.2 1888.7h7.5v7.5h-7.5zM1920.3 1891.2h7.5v7.5h-7.5zM1920.0 1890.3h7.5v7.5h-7.5zM1914.6 1893.5h7.5v7.5h-7.5zM1933.4 1892.6h7.5v7.5h-7.5zM1933.7 1887.5h7.5v7.5h-7.5zM1930.3 1895.8h7.5v7.5h-7.5zM1940.1 1892.1h7.5v7.5h-7.5zM1667.3 1897.4h7.5v7.5h-7.5zM1671.5 1896.8h7.5v7.5h-7.5zM1676.5 1899.6h7.5v7.5h-7.5zM1681.1 1899.7h7.5v7.5h-7.5zM1686.4 1898.8h7.5v7.5h-7.5zM1701.7 1896.8h7.5v7.5h-7.5zM1710.9 1898.3h7.5v7.5h-7.5zM1731.1 1899.2h7.5v7.5h-7.5zM1731.1 1900.1h7.5v7.5h-7.5zM1740.6 1896.9h7.5v7.5h-7.5zM1733.2 1897.3h7.5v7.5h-7.5zM1749.1 1897.0h7.5v7.5h-7.5zM1745.9 1897.6h7.5v7.5h-7.5zM1758.5 1897.9h7.5v7.5h-7.5zM1763.8 1897.7h7.5v7.5h-7.5zM1760.1 1896.5h7.5v7.5h-7.5zM1773.0 1900.0h7.5v7.5h-7.5zM1772.6 1897.3h7.5v7.5h-7.5zM1787.8 1897.9h7.5v7.5h-7.5zM1789.0 1898.5h7.5v7.5h-7.5zM1793.0 1899.9h7.5v7.5h-7.5zM1815.1 1898.6h7.5v7.5h-7.5zM1821.1 1898.2h7.5v7.5h-7.5zM1820.1 1897.2h7.5v7.5h-7.5zM1816.6 1896.8h7.5v7.5h-7.5zM1833.4 1899.5h7.5v7.5h-7.5zM1848.4 1896.3h7.5v7.5h-7.5zM1852.9 1899.0h7.5v7.5h-7.5zM1876.0 1897.1h7.5v7.5h-7.5zM1869.0 1900.2h7.5v7.5h-7.5zM1881.9 1899.7h7.5v7.5h-7.5zM1888.4 1897.7h7.5v7.5h-7.5zM1889.3 1897.9h7.5v7.5h-7.5zM1916.9 1897.7h7.5v7.5h-7.5zM1927.7 1898.6h7.5v7.5h-7.5zM1561.5 1883.7h7.5v7.5h-7.5zM1574.5 1879.4h7.5v7.5h-7.5zM1557.6 1880.8h7.5v7.5h-7.5zM1534.7 1891.4h7.5v7.5h-7.5zM1575.9 1877.0h7.5v7.5h-7.5zM1567.4 1881.5h7.5v7.5h-7.5zM1592.1 1875.9h7.5v7.5h-7.5zM1554.0 1886.1h7.5v7.5h-7.5zM1569.9 1879.0h7.5v7.5h-7.5zM1561.0 1884.0h7.5v7.5h-7.5zM1573.2 1876.8h7.5v7.5h-7.5zM1570.5 1881.7h7.5v7.5h-7.5zM1552.2 1886.0h7.5v7.5h-7.5zM1597.2 1871.5h7.5v7.5h-7.5zM1557.5 1885.3h7.5v7.5h-7.5zM1555.0 1886.1h7.5v7.5h-7.5zM1551.7 1884.9h7.5v7.5h-7.5zM1596.5 1875.3h7.5v7.5h-7.5zM1599.4 1872.6h7.5v7.5h-7.5zM1558.8 1883.6h7.5v7.5h-7.5zM1569.5 1882.0h7.5v7.5h-7.5zM1586.4 1876.8h7.5v7.5h-7.5zM1585.4 1875.0h7.5v7.5h-7.5zM1599.1 1872.2h7.5v7.5h-7.5zM1563.4 1883.0h7.5v7.5h-7.5zM1593.1 1876.8h7.5v7.5h-7.5zM1599.9 1874.9h7.5v7.5h-7.5zM1534.8 1890.7h7.5v7.5h-7.5zM1570.8 1882.0h7.5v7.5h-7.5zM1543.4 1889.0h7.5v7.5h-7.5zM1561.3 1885.6h7.5v7.5h-7.5zM1589.4 1878.9h7.5v7.5h-7.5zM1582.0 1878.0h7.5v7.5h-7.5zM1593.9 1876.9h7.5v7.5h-7.5zM1585.3 1877.3h7.5v7.5h-7.5zM1547.9 1888.6h7.5v7.5h-7.5zM1535.0 1890.3h7.5v7.5h-7.5zM1542.3 1888.0h7.5v7.5h-7.5zM1524.6 1894.0h7.5v7.5h-7.5zM1560.3 1882.6h7.5v7.5h-7.5zM1577.9 1876.4h7.5v7.5h-7.5zM1592.1 1873.4h7.5v7.5h-7.5zM1573.6 1881.2h7.5v7.5h-7.5zM1569.8 1881.8h7.5v7.5h-7.5zM1569.8 1881.0h7.5v7.5h-7.5zM1469.3 1895.1h7.5v7.5h-7.5zM1513.9 1893.8h7.5v7.5h-7.5zM1498.9 1892.5h7.5v7.5h-7.5zM1497.8 1895.4h7.5v7.5h-7.5zM1469.7 1893.6h7.5v7.5h-7.5zM1459.4 1894.5h7.5v7.5h-7.5zM1523.2 1891.8h7.5v7.5h-7.5zM1469.3 1893.9h7.5v7.5h-7.5zM1506.0 1893.4h7.5v7.5h-7.5zM1518.1 1895.3h7.5v7.5h-7.5zM1449.8 1896.1h7.5v7.5h-7.5zM1483.2 1892.2h7.5v7.5h-7.5zM1513.3 1894.3h7.5v7.5h-7.5zM1511.1 1892.2h7.5v7.5h-7.5zM1484.2 1894.6h7.5v7.5h-7.5zM1494.3 1894.1h7.5v7.5h-7.5zM1479.1 1894.1h7.5v7.5h-7.5zM1497.1 1892.6h7.5v7.5h-7.5zM1477.2 1892.5h7.5v7.5h-7.5zM1499.9 1894.2h7.5v7.5h-7.5zM1495.2 1893.5h7.5v7.5h-7.5zM1446.5 1895.6h7.5v7.5h-7.5zM1453.1 1895.8h7.5v7.5h-7.5zM1468.0 1895.8h7.5v7.5h-7.5zM1497.8 1894.0h7.5v7.5h-7.5zM1446.4 1894.9h7.5v7.5h-7.5zM1474.1 1895.0h7.5v7.5h-7.5zM1496.2 1894.1h7.5v7.5h-7.5zM1457.1 1893.9h7.5v7.5h-7.5zM1469.2 1894.8h7.5v7.5h-7.5zM1482.7 1894.4h7.5v7.5h-7.5zM1440.6 1895.5h7.5v7.5h-7.5zM1446.1 1895.3h7.5v7.5h-7.5zM1508.7 1893.5h7.5v7.5h-7.5zM1485.6 1892.9h7.5v7.5h-7.5zM1480.2 1894.2h7.5v7.5h-7.5zM1460.6 1894.7h7.5v7.5h-7.5zM1462.9 1893.6h7.5v7.5h-7.5zM1442.3 1894.8h7.5v7.5h-7.5zM1513.2 1893.7h7.5v7.5h-7.5z"/>
</g>
<rect x="255" y="175" width="2003" height="1806.5" stroke="#1c1c1c" stroke-width="3.2" fill="none"/>
<g stroke="#3a3a3a" stroke-width="3" fill="none" stroke-linecap="butt">
<line x1="483.5" y1="1981.5" x2="483.5" y2="2011.5"/>
<line x1="861.2" y1="1981.5" x2="861.2" y2="2011.5"/>
<line x1="1239.0" y1="1981.5" x2="1239.0" y2="2011.5"/>
<line x1="1616.8" y1="1981.5" x2="1616.8" y2="2011.5"/>
<line x1="1994.5" y1="1981.5" x2="1994.5" y2="2011.5"/>
<line x1="255" y1="1915.0" x2="224" y2="1915.0"/>
<line x1="255" y1="1640.5" x2="224" y2="1640.5"/>
<line x1="255" y1="1366.0" x2="224" y2="1366.0"/>
<line x1="255" y1="1091.5" x2="224" y2="1091.5"/>
<line x1="255" y1="817.0" x2="224" y2="817.0"/>
<line x1="255" y1="542.5" x2="224" y2="542.5"/>
<line x1="255" y1="268.0" x2="224" y2="268.0"/>
</g>
<g font-size="49.3" text-anchor="middle" fill="#111">
<text x="483.5" y="2089">−10</text>
<text x="861.2" y="2089">−5</text>
<text x="1239.0" y="2089">0</text>
<text x="1616.8" y="2089">5</text>
<text x="1994.5" y="2089">10</text>
<text transform="translate(185,1915.0) rotate(-90)">0</text>
<text transform="translate(185,1640.5) rotate(-90)">50</text>
<text transform="translate(185,1366.0) rotate(-90)">100</text>
<text transform="translate(185,1091.5) rotate(-90)">150</text>
<text transform="translate(185,817.0) rotate(-90)">200</text>
<text transform="translate(185,542.5) rotate(-90)">250</text>
<text transform="translate(185,268.0) rotate(-90)">300</text>
<text x="1255.5" y="2205">log2(fold change)</text>
<text transform="translate(66,1079) rotate(-90)">−log10(FDR)</text>
</g>
<text x="1255.7" y="75" font-size="59" font-weight="bold" text-anchor="middle" fill="#111">Volcano plot of Control−VS−OA−500−48.PossionDis_Method</text>
<rect x="1641" y="221.5" width="24" height="23" fill="#ee0c14"/>
<rect x="1641" y="281" width="24" height="23" fill="#0c0cee"/>
<rect x="1641" y="339.5" width="24" height="23" fill="#000"/>
<g font-size="49.3" fill="#111">
<text x="1696" y="250.5">Up−Regulated Genes</text>
<text x="1696" y="309.5">Down−Regulated Genes</text>
<text x="1696" y="368.5">non−DEGs</text>
</g>
</svg>
</body></html>
